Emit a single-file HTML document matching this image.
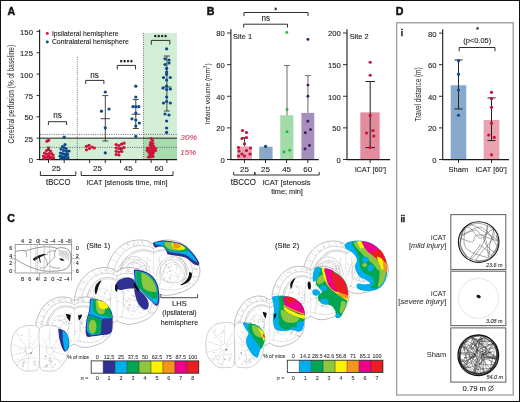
<!DOCTYPE html>
<html><head><meta charset="utf-8"><style>
html,body{margin:0;padding:0;background:#fff;width:520px;height:402px;overflow:hidden}
svg{display:block;filter:blur(0.3px)}
text{font-family:"Liberation Sans", sans-serif}
</style></head><body>
<svg width="520" height="402" viewBox="0 0 520 402" font-family='"Liberation Sans", sans-serif'>
<rect x="0" y="0" width="520" height="402" fill="#ffffff" />
<text x="7.6" y="15.2" font-size="10.60" text-anchor="start" fill="#111" font-weight="bold" font-style="normal" textLength="7.66" lengthAdjust="spacingAndGlyphs" stroke="#111" stroke-width="0.45" >A</text>
<rect x="40" y="138.15" width="103.5" height="21.349999999999994" fill="#d2eed5" />
<rect x="143.5" y="33.00000000000001" width="33.5" height="105.15" fill="#d2eed5" />
<rect x="143.5" y="138.15" width="33.5" height="21.349999999999994" fill="#a8dbad" />
<line x1="40" y1="134.4" x2="177" y2="134.4" stroke="#444" stroke-width="0.8" stroke-dasharray="1,1.3"/>
<line x1="40" y1="147.4" x2="177" y2="147.4" stroke="#444" stroke-width="0.8" stroke-dasharray="1,1.3"/>
<line x1="77.3" y1="57" x2="77.3" y2="159" stroke="#555" stroke-width="0.8" stroke-dasharray="1,1.2"/>
<line x1="143.5" y1="33" x2="143.5" y2="159" stroke="#555" stroke-width="0.8" stroke-dasharray="1,1.2"/>
<line x1="40" y1="138.15" x2="177" y2="138.15" stroke="#1a1a1a" stroke-width="1.0" />
<line x1="39.6" y1="29.5" x2="39.6" y2="160" stroke="#1a1a1a" stroke-width="1.1" />
<line x1="39.1" y1="159.6" x2="177" y2="159.6" stroke="#1a1a1a" stroke-width="1.1" />
<line x1="36.5" y1="159.5" x2="39.6" y2="159.5" stroke="#1a1a1a" stroke-width="0.9" />
<text x="32.9" y="162.9" font-size="7.90" text-anchor="end" fill="#1a1a1a" font-weight="normal" font-style="normal" textLength="4.26" lengthAdjust="spacingAndGlyphs" stroke="#1a1a1a" stroke-width="0.1" >0</text>
<line x1="36.5" y1="138.15" x2="39.6" y2="138.15" stroke="#1a1a1a" stroke-width="0.9" />
<text x="32.9" y="141.55" font-size="7.90" text-anchor="end" fill="#1a1a1a" font-weight="normal" font-style="normal" textLength="8.52" lengthAdjust="spacingAndGlyphs" stroke="#1a1a1a" stroke-width="0.1" >25</text>
<line x1="36.5" y1="116.80000000000001" x2="39.6" y2="116.80000000000001" stroke="#1a1a1a" stroke-width="0.9" />
<text x="32.9" y="120.20000000000002" font-size="7.90" text-anchor="end" fill="#1a1a1a" font-weight="normal" font-style="normal" textLength="8.52" lengthAdjust="spacingAndGlyphs" stroke="#1a1a1a" stroke-width="0.1" >50</text>
<line x1="36.5" y1="95.45" x2="39.6" y2="95.45" stroke="#1a1a1a" stroke-width="0.9" />
<text x="32.9" y="98.85000000000001" font-size="7.90" text-anchor="end" fill="#1a1a1a" font-weight="normal" font-style="normal" textLength="8.52" lengthAdjust="spacingAndGlyphs" stroke="#1a1a1a" stroke-width="0.1" >75</text>
<line x1="36.5" y1="74.10000000000001" x2="39.6" y2="74.10000000000001" stroke="#1a1a1a" stroke-width="0.9" />
<text x="32.9" y="77.50000000000001" font-size="7.90" text-anchor="end" fill="#1a1a1a" font-weight="normal" font-style="normal" textLength="12.79" lengthAdjust="spacingAndGlyphs" stroke="#1a1a1a" stroke-width="0.1" >100</text>
<line x1="36.5" y1="52.75" x2="39.6" y2="52.75" stroke="#1a1a1a" stroke-width="0.9" />
<text x="32.9" y="56.15" font-size="7.90" text-anchor="end" fill="#1a1a1a" font-weight="normal" font-style="normal" textLength="12.79" lengthAdjust="spacingAndGlyphs" stroke="#1a1a1a" stroke-width="0.1" >125</text>
<line x1="36.5" y1="31.400000000000006" x2="39.6" y2="31.400000000000006" stroke="#1a1a1a" stroke-width="0.9" />
<text x="32.9" y="34.800000000000004" font-size="7.90" text-anchor="end" fill="#1a1a1a" font-weight="normal" font-style="normal" textLength="12.79" lengthAdjust="spacingAndGlyphs" stroke="#1a1a1a" stroke-width="0.1" >150</text>
<line x1="48.5" y1="159.6" x2="48.5" y2="163" stroke="#1a1a1a" stroke-width="0.9" />
<line x1="64.2" y1="159.6" x2="64.2" y2="163" stroke="#1a1a1a" stroke-width="0.9" />
<line x1="89.6" y1="159.6" x2="89.6" y2="163" stroke="#1a1a1a" stroke-width="0.9" />
<line x1="105.3" y1="159.6" x2="105.3" y2="163" stroke="#1a1a1a" stroke-width="0.9" />
<line x1="120.5" y1="159.6" x2="120.5" y2="163" stroke="#1a1a1a" stroke-width="0.9" />
<line x1="135.8" y1="159.6" x2="135.8" y2="163" stroke="#1a1a1a" stroke-width="0.9" />
<line x1="151.2" y1="159.6" x2="151.2" y2="163" stroke="#1a1a1a" stroke-width="0.9" />
<line x1="166.9" y1="159.6" x2="166.9" y2="163" stroke="#1a1a1a" stroke-width="0.9" />
<text transform="translate(14.4,94.2) rotate(-90)" font-size="8.5" text-anchor="middle" fill="#1a1a1a" textLength="98.5" lengthAdjust="spacingAndGlyphs">Cerebral perfusion (% of baseline)</text>
<text x="56.3" y="171.2" font-size="8.00" text-anchor="middle" fill="#1a1a1a" font-weight="normal" font-style="normal" textLength="8.90" lengthAdjust="spacingAndGlyphs" stroke="#1a1a1a" stroke-width="0.1" >25</text>
<text x="97.4" y="171.2" font-size="8.00" text-anchor="middle" fill="#1a1a1a" font-weight="normal" font-style="normal" textLength="8.90" lengthAdjust="spacingAndGlyphs" stroke="#1a1a1a" stroke-width="0.1" >25</text>
<text x="128.2" y="171.2" font-size="8.00" text-anchor="middle" fill="#1a1a1a" font-weight="normal" font-style="normal" textLength="8.90" lengthAdjust="spacingAndGlyphs" stroke="#1a1a1a" stroke-width="0.1" >45</text>
<text x="159" y="171.2" font-size="8.00" text-anchor="middle" fill="#1a1a1a" font-weight="normal" font-style="normal" textLength="8.90" lengthAdjust="spacingAndGlyphs" stroke="#1a1a1a" stroke-width="0.1" >60</text>
<path d="M40.4,171.3 V175.5 H75.8 V171.3" fill="none" stroke="#1a1a1a" stroke-width="0.9"/>
<path d="M81.2,171.3 V175.5 H173 V171.3" fill="none" stroke="#1a1a1a" stroke-width="0.9"/>
<text x="46.0" y="185.0" font-size="8.30" text-anchor="start" fill="#1a1a1a" font-weight="normal" font-style="normal" textLength="24.40" lengthAdjust="spacingAndGlyphs" stroke="#1a1a1a" stroke-width="0.1" >tBCCO</text>
<text x="86.6" y="185.0" font-size="8.00" text-anchor="start" fill="#1a1a1a" font-weight="normal" font-style="normal" textLength="81.00" lengthAdjust="spacingAndGlyphs" stroke="#1a1a1a" stroke-width="0.1" >iCAT [stenosis time, min]</text>
<circle cx="47.30" cy="33.40" r="1.4560000000000002" fill="#d0123c"/>
<circle cx="47.30" cy="42.00" r="1.4560000000000002" fill="#0c4a8c"/>
<text x="51.9" y="35.5" font-size="7.30" text-anchor="start" fill="#1a1a1a" font-weight="normal" font-style="normal" textLength="66.60" lengthAdjust="spacingAndGlyphs" stroke="#1a1a1a" stroke-width="0.1" >Ipsilateral hemisphere</text>
<text x="51.9" y="44.0" font-size="7.30" text-anchor="start" fill="#1a1a1a" font-weight="normal" font-style="normal" textLength="76.90" lengthAdjust="spacingAndGlyphs" stroke="#1a1a1a" stroke-width="0.1" >Contralateral hemisphere</text>
<text x="57.5" y="118.3" font-size="8.80" text-anchor="middle" fill="#1a1a1a" font-weight="normal" font-style="normal" textLength="8.55" lengthAdjust="spacingAndGlyphs" stroke="#1a1a1a" stroke-width="0.1" >ns</text>
<path d="M48.4,125.0 V121.7 H66.6 V125.0" fill="none" stroke="#1a1a1a" stroke-width="0.9"/>
<text x="94.6" y="77.8" font-size="8.80" text-anchor="middle" fill="#1a1a1a" font-weight="normal" font-style="normal" textLength="8.55" lengthAdjust="spacingAndGlyphs" stroke="#1a1a1a" stroke-width="0.1" >ns</text>
<path d="M85.7,84.0 V80.4 H103.9 V84.0" fill="none" stroke="#1a1a1a" stroke-width="0.9"/>
<path d="M121.17,59.90 L121.17,62.50 M120.04,60.55 L122.30,61.85 M122.30,60.55 L120.04,61.85 " stroke="#111" stroke-width="0.8"/>
<circle cx="121.17" cy="61.2" r="0.6" fill="#111"/>
<path d="M124.59,59.90 L124.59,62.50 M123.46,60.55 L125.72,61.85 M125.72,60.55 L123.46,61.85 " stroke="#111" stroke-width="0.8"/>
<circle cx="124.59" cy="61.2" r="0.6" fill="#111"/>
<path d="M128.01,59.90 L128.01,62.50 M126.88,60.55 L129.14,61.85 M129.14,60.55 L126.88,61.85 " stroke="#111" stroke-width="0.8"/>
<circle cx="128.01" cy="61.2" r="0.6" fill="#111"/>
<path d="M131.43,59.90 L131.43,62.50 M130.30,60.55 L132.56,61.85 M132.56,60.55 L130.30,61.85 " stroke="#111" stroke-width="0.8"/>
<circle cx="131.43" cy="61.2" r="0.6" fill="#111"/>
<path d="M117.3,69.4 V65.4 H135.5 V69.4" fill="none" stroke="#1a1a1a" stroke-width="0.9"/>
<path d="M155.32,34.80 L155.32,37.40 M154.19,35.45 L156.45,36.75 M156.45,35.45 L154.19,36.75 " stroke="#111" stroke-width="0.8"/>
<circle cx="155.32" cy="36.1" r="0.6" fill="#111"/>
<path d="M158.74,34.80 L158.74,37.40 M157.61,35.45 L159.87,36.75 M159.87,35.45 L157.61,36.75 " stroke="#111" stroke-width="0.8"/>
<circle cx="158.74" cy="36.1" r="0.6" fill="#111"/>
<path d="M162.16,34.80 L162.16,37.40 M161.03,35.45 L163.29,36.75 M163.29,35.45 L161.03,36.75 " stroke="#111" stroke-width="0.8"/>
<circle cx="162.16" cy="36.1" r="0.6" fill="#111"/>
<path d="M165.58,34.80 L165.58,37.40 M164.45,35.45 L166.71,36.75 M166.71,35.45 L164.45,36.75 " stroke="#111" stroke-width="0.8"/>
<circle cx="165.58" cy="36.1" r="0.6" fill="#111"/>
<path d="M151.3,44.699999999999996 V40.4 H169.8 V44.699999999999996" fill="none" stroke="#1a1a1a" stroke-width="0.9"/>
<text x="180.3" y="139.6" font-size="7.60" text-anchor="start" fill="#d43a5c" font-weight="normal" font-style="italic" textLength="16.50" lengthAdjust="spacingAndGlyphs" stroke="#d43a5c" stroke-width="0.1" >30%</text>
<text x="180.3" y="155.0" font-size="7.60" text-anchor="start" fill="#d43a5c" font-weight="normal" font-style="italic" textLength="15.60" lengthAdjust="spacingAndGlyphs" stroke="#d43a5c" stroke-width="0.1" >15%</text>
<circle cx="47.00" cy="141.20" r="1.624" fill="#d0123c"/>
<circle cx="48.60" cy="140.30" r="1.624" fill="#d0123c"/>
<circle cx="46.50" cy="150.50" r="1.624" fill="#d0123c"/>
<circle cx="48.50" cy="149.00" r="1.624" fill="#d0123c"/>
<circle cx="50.50" cy="151.00" r="1.624" fill="#d0123c"/>
<circle cx="44.50" cy="153.00" r="1.624" fill="#d0123c"/>
<circle cx="46.50" cy="154.00" r="1.624" fill="#d0123c"/>
<circle cx="49.00" cy="153.50" r="1.624" fill="#d0123c"/>
<circle cx="51.50" cy="153.50" r="1.624" fill="#d0123c"/>
<circle cx="53.00" cy="155.00" r="1.624" fill="#d0123c"/>
<circle cx="43.50" cy="156.00" r="1.624" fill="#d0123c"/>
<circle cx="45.50" cy="157.00" r="1.624" fill="#d0123c"/>
<circle cx="47.50" cy="157.50" r="1.624" fill="#d0123c"/>
<circle cx="49.50" cy="156.50" r="1.624" fill="#d0123c"/>
<circle cx="51.50" cy="157.50" r="1.624" fill="#d0123c"/>
<circle cx="44.00" cy="158.30" r="1.624" fill="#d0123c"/>
<circle cx="53.50" cy="157.80" r="1.624" fill="#d0123c"/>
<circle cx="48.50" cy="155.50" r="1.624" fill="#d0123c"/>
<circle cx="50.00" cy="158.50" r="1.624" fill="#d0123c"/>
<line x1="48.5" y1="147" x2="48.5" y2="151" stroke="#333" stroke-width="0.7" />
<line x1="46.5" y1="147" x2="50.5" y2="147" stroke="#333" stroke-width="0.7" />
<circle cx="64.20" cy="137.20" r="1.624" fill="#0c4a8c"/>
<circle cx="65.00" cy="144.50" r="1.624" fill="#0c4a8c"/>
<circle cx="62.50" cy="146.50" r="1.624" fill="#0c4a8c"/>
<circle cx="64.00" cy="147.50" r="1.624" fill="#0c4a8c"/>
<circle cx="66.00" cy="148.50" r="1.624" fill="#0c4a8c"/>
<circle cx="61.00" cy="149.00" r="1.624" fill="#0c4a8c"/>
<circle cx="63.50" cy="150.50" r="1.624" fill="#0c4a8c"/>
<circle cx="66.50" cy="151.00" r="1.624" fill="#0c4a8c"/>
<circle cx="60.50" cy="153.00" r="1.624" fill="#0c4a8c"/>
<circle cx="62.50" cy="153.50" r="1.624" fill="#0c4a8c"/>
<circle cx="64.50" cy="154.00" r="1.624" fill="#0c4a8c"/>
<circle cx="67.00" cy="153.50" r="1.624" fill="#0c4a8c"/>
<circle cx="60.00" cy="156.00" r="1.624" fill="#0c4a8c"/>
<circle cx="62.00" cy="156.50" r="1.624" fill="#0c4a8c"/>
<circle cx="64.00" cy="157.00" r="1.624" fill="#0c4a8c"/>
<circle cx="66.00" cy="156.00" r="1.624" fill="#0c4a8c"/>
<circle cx="68.00" cy="157.50" r="1.624" fill="#0c4a8c"/>
<circle cx="61.00" cy="158.30" r="1.624" fill="#0c4a8c"/>
<circle cx="63.00" cy="158.50" r="1.624" fill="#0c4a8c"/>
<circle cx="65.50" cy="158.50" r="1.624" fill="#0c4a8c"/>
<circle cx="67.50" cy="154.50" r="1.624" fill="#0c4a8c"/>
<circle cx="69.00" cy="151.00" r="1.624" fill="#0c4a8c"/>
<circle cx="86.50" cy="146.30" r="1.624" fill="#d0123c"/>
<circle cx="89.00" cy="145.30" r="1.624" fill="#d0123c"/>
<circle cx="92.00" cy="147.00" r="1.624" fill="#d0123c"/>
<circle cx="94.30" cy="148.00" r="1.624" fill="#d0123c"/>
<circle cx="86.50" cy="149.80" r="1.624" fill="#d0123c"/>
<circle cx="89.50" cy="148.50" r="1.624" fill="#d0123c"/>
<line x1="105.3" y1="95.6" x2="105.3" y2="141" stroke="#333" stroke-width="0.9" />
<line x1="102.3" y1="95.6" x2="108.3" y2="95.6" stroke="#333" stroke-width="0.9" />
<line x1="102.3" y1="141" x2="108.3" y2="141" stroke="#333" stroke-width="0.9" />
<line x1="100.5" y1="118.7" x2="110" y2="118.7" stroke="#333" stroke-width="0.9" />
<circle cx="105.30" cy="92.00" r="1.624" fill="#0c4a8c"/>
<circle cx="101.50" cy="111.20" r="1.624" fill="#0c4a8c"/>
<circle cx="109.00" cy="109.00" r="1.624" fill="#0c4a8c"/>
<circle cx="105.30" cy="127.80" r="1.624" fill="#0c4a8c"/>
<circle cx="105.30" cy="152.80" r="1.624" fill="#0c4a8c"/>
<circle cx="116.20" cy="144.60" r="1.624" fill="#d0123c"/>
<circle cx="118.80" cy="145.50" r="1.624" fill="#d0123c"/>
<circle cx="121.50" cy="144.20" r="1.624" fill="#d0123c"/>
<circle cx="124.00" cy="143.20" r="1.624" fill="#d0123c"/>
<circle cx="116.20" cy="148.00" r="1.624" fill="#d0123c"/>
<circle cx="118.80" cy="148.50" r="1.624" fill="#d0123c"/>
<circle cx="121.80" cy="148.50" r="1.624" fill="#d0123c"/>
<circle cx="124.00" cy="147.50" r="1.624" fill="#d0123c"/>
<circle cx="116.20" cy="151.30" r="1.624" fill="#d0123c"/>
<circle cx="118.80" cy="152.00" r="1.624" fill="#d0123c"/>
<circle cx="121.80" cy="151.50" r="1.624" fill="#d0123c"/>
<circle cx="116.20" cy="154.60" r="1.624" fill="#d0123c"/>
<circle cx="119.00" cy="155.00" r="1.624" fill="#d0123c"/>
<line x1="120.5" y1="147" x2="120.5" y2="152" stroke="#333" stroke-width="0.7" />
<line x1="135.8" y1="99.5" x2="135.8" y2="128.5" stroke="#333" stroke-width="0.9" />
<line x1="132.8" y1="99.5" x2="138.8" y2="99.5" stroke="#333" stroke-width="0.9" />
<line x1="132.8" y1="128.5" x2="138.8" y2="128.5" stroke="#333" stroke-width="0.9" />
<line x1="131.5" y1="114.2" x2="140.5" y2="114.2" stroke="#333" stroke-width="0.9" />
<circle cx="135.80" cy="86.20" r="1.624" fill="#0c4a8c"/>
<circle cx="135.80" cy="97.00" r="1.624" fill="#0c4a8c"/>
<circle cx="133.00" cy="106.70" r="1.624" fill="#0c4a8c"/>
<circle cx="135.80" cy="106.70" r="1.624" fill="#0c4a8c"/>
<circle cx="138.80" cy="106.70" r="1.624" fill="#0c4a8c"/>
<circle cx="135.80" cy="113.00" r="1.624" fill="#0c4a8c"/>
<circle cx="132.00" cy="118.80" r="1.624" fill="#0c4a8c"/>
<circle cx="135.80" cy="120.00" r="1.624" fill="#0c4a8c"/>
<circle cx="139.30" cy="123.00" r="1.624" fill="#0c4a8c"/>
<circle cx="135.80" cy="126.00" r="1.624" fill="#0c4a8c"/>
<circle cx="135.80" cy="136.40" r="1.624" fill="#0c4a8c"/>
<circle cx="151.20" cy="138.50" r="1.624" fill="#d0123c"/>
<circle cx="152.50" cy="140.50" r="1.624" fill="#d0123c"/>
<circle cx="150.50" cy="142.50" r="1.624" fill="#d0123c"/>
<circle cx="152.80" cy="143.50" r="1.624" fill="#d0123c"/>
<circle cx="150.20" cy="145.00" r="1.624" fill="#d0123c"/>
<circle cx="151.50" cy="146.50" r="1.624" fill="#d0123c"/>
<circle cx="153.50" cy="146.00" r="1.624" fill="#d0123c"/>
<circle cx="147.50" cy="148.00" r="1.624" fill="#d0123c"/>
<circle cx="149.50" cy="148.00" r="1.624" fill="#d0123c"/>
<circle cx="151.50" cy="148.50" r="1.624" fill="#d0123c"/>
<circle cx="153.50" cy="148.80" r="1.624" fill="#d0123c"/>
<circle cx="155.50" cy="148.30" r="1.624" fill="#d0123c"/>
<circle cx="147.20" cy="150.30" r="1.624" fill="#d0123c"/>
<circle cx="149.30" cy="150.50" r="1.624" fill="#d0123c"/>
<circle cx="151.30" cy="151.00" r="1.624" fill="#d0123c"/>
<circle cx="153.30" cy="150.80" r="1.624" fill="#d0123c"/>
<circle cx="155.50" cy="150.50" r="1.624" fill="#d0123c"/>
<circle cx="149.00" cy="152.50" r="1.624" fill="#d0123c"/>
<circle cx="151.20" cy="153.00" r="1.624" fill="#d0123c"/>
<circle cx="153.30" cy="152.80" r="1.624" fill="#d0123c"/>
<circle cx="150.00" cy="155.00" r="1.624" fill="#d0123c"/>
<circle cx="152.50" cy="155.00" r="1.624" fill="#d0123c"/>
<circle cx="148.50" cy="157.00" r="1.624" fill="#d0123c"/>
<circle cx="150.50" cy="156.80" r="1.624" fill="#d0123c"/>
<circle cx="153.00" cy="156.50" r="1.624" fill="#d0123c"/>
<circle cx="151.50" cy="144.00" r="1.624" fill="#d0123c"/>
<line x1="166.9" y1="56" x2="166.9" y2="111" stroke="#333" stroke-width="0.9" />
<line x1="163.9" y1="56" x2="169.9" y2="56" stroke="#333" stroke-width="0.9" />
<line x1="163.9" y1="111" x2="169.9" y2="111" stroke="#333" stroke-width="0.9" />
<line x1="162.5" y1="87" x2="171.5" y2="87" stroke="#333" stroke-width="0.9" />
<circle cx="166.60" cy="48.80" r="1.624" fill="#0c4a8c"/>
<circle cx="165.00" cy="58.80" r="1.624" fill="#0c4a8c"/>
<circle cx="169.00" cy="60.00" r="1.624" fill="#0c4a8c"/>
<circle cx="165.00" cy="64.50" r="1.624" fill="#0c4a8c"/>
<circle cx="169.00" cy="63.00" r="1.624" fill="#0c4a8c"/>
<circle cx="166.60" cy="68.40" r="1.624" fill="#0c4a8c"/>
<circle cx="166.60" cy="72.00" r="1.624" fill="#0c4a8c"/>
<circle cx="166.60" cy="74.30" r="1.624" fill="#0c4a8c"/>
<circle cx="163.50" cy="77.50" r="1.624" fill="#0c4a8c"/>
<circle cx="170.30" cy="77.50" r="1.624" fill="#0c4a8c"/>
<circle cx="166.60" cy="80.00" r="1.624" fill="#0c4a8c"/>
<circle cx="163.00" cy="88.00" r="1.624" fill="#0c4a8c"/>
<circle cx="166.60" cy="86.00" r="1.624" fill="#0c4a8c"/>
<circle cx="170.30" cy="89.00" r="1.624" fill="#0c4a8c"/>
<circle cx="166.60" cy="89.50" r="1.624" fill="#0c4a8c"/>
<circle cx="166.60" cy="97.00" r="1.624" fill="#0c4a8c"/>
<circle cx="163.50" cy="103.00" r="1.624" fill="#0c4a8c"/>
<circle cx="166.60" cy="101.50" r="1.624" fill="#0c4a8c"/>
<circle cx="170.30" cy="103.00" r="1.624" fill="#0c4a8c"/>
<circle cx="165.00" cy="114.00" r="1.624" fill="#0c4a8c"/>
<circle cx="169.00" cy="115.00" r="1.624" fill="#0c4a8c"/>
<circle cx="166.60" cy="121.00" r="1.624" fill="#0c4a8c"/>
<circle cx="166.60" cy="128.00" r="1.624" fill="#0c4a8c"/>
<circle cx="166.60" cy="132.40" r="1.624" fill="#0c4a8c"/>
<text x="206.7" y="15.2" font-size="10.60" text-anchor="start" fill="#111" font-weight="bold" font-style="normal" textLength="7.66" lengthAdjust="spacingAndGlyphs" stroke="#111" stroke-width="0.45" >B</text>
<rect x="237.2" y="146.53375" width="14.8" height="12.966250000000002" fill="#e7a3b1" />
<rect x="259.2" y="146.691875" width="13.4" height="12.80812499999999" fill="#8aa8c9" />
<rect x="280.2" y="115.225" width="13.2" height="44.275000000000006" fill="#a3dba8" />
<rect x="301.4" y="112.853125" width="12.9" height="46.646874999999994" fill="#a78fbd" />
<line x1="244.5" y1="137.6" x2="244.5" y2="146.53375" stroke="#333" stroke-width="0.9" />
<line x1="241.5" y1="137.6" x2="247.5" y2="137.6" stroke="#333" stroke-width="0.9" />
<line x1="287" y1="65.5" x2="287" y2="115.225" stroke="#777" stroke-width="1.1" />
<line x1="284" y1="65.5" x2="290" y2="65.5" stroke="#777" stroke-width="1.1" />
<line x1="307.9" y1="75.6" x2="307.9" y2="112.853125" stroke="#777" stroke-width="1.1" />
<line x1="304.9" y1="75.6" x2="310.9" y2="75.6" stroke="#777" stroke-width="1.1" />
<circle cx="242.50" cy="130.50" r="1.624" fill="#cc0f3a"/>
<circle cx="246.50" cy="132.50" r="1.624" fill="#cc0f3a"/>
<circle cx="242.00" cy="138.50" r="1.624" fill="#cc0f3a"/>
<circle cx="246.50" cy="137.50" r="1.624" fill="#cc0f3a"/>
<circle cx="244.50" cy="143.80" r="1.624" fill="#cc0f3a"/>
<circle cx="238.50" cy="147.50" r="1.624" fill="#cc0f3a"/>
<circle cx="250.50" cy="148.00" r="1.624" fill="#cc0f3a"/>
<circle cx="239.00" cy="151.00" r="1.624" fill="#cc0f3a"/>
<circle cx="246.50" cy="150.50" r="1.624" fill="#cc0f3a"/>
<circle cx="242.00" cy="154.00" r="1.624" fill="#cc0f3a"/>
<circle cx="250.00" cy="154.00" r="1.624" fill="#cc0f3a"/>
<circle cx="238.50" cy="156.00" r="1.624" fill="#cc0f3a"/>
<circle cx="244.50" cy="156.00" r="1.624" fill="#cc0f3a"/>
<circle cx="265.60" cy="146.40" r="1.624" fill="#0c4a8c"/>
<circle cx="286.80" cy="32.50" r="1.4560000000000002" fill="#2bb24c"/>
<circle cx="287.00" cy="109.50" r="1.4560000000000002" fill="#2bb24c"/>
<circle cx="287.00" cy="131.80" r="1.4560000000000002" fill="#2bb24c"/>
<circle cx="284.00" cy="152.00" r="1.4560000000000002" fill="#2bb24c"/>
<circle cx="289.70" cy="150.30" r="1.4560000000000002" fill="#2bb24c"/>
<circle cx="307.90" cy="39.40" r="1.4560000000000002" fill="#4b1464"/>
<circle cx="307.90" cy="85.10" r="1.4560000000000002" fill="#4b1464"/>
<circle cx="307.90" cy="96.30" r="1.4560000000000002" fill="#4b1464"/>
<circle cx="307.90" cy="121.20" r="1.4560000000000002" fill="#4b1464"/>
<circle cx="310.50" cy="129.60" r="1.4560000000000002" fill="#4b1464"/>
<circle cx="305.30" cy="132.80" r="1.4560000000000002" fill="#4b1464"/>
<circle cx="305.00" cy="149.00" r="1.4560000000000002" fill="#4b1464"/>
<circle cx="309.50" cy="145.50" r="1.4560000000000002" fill="#4b1464"/>
<line x1="230.9" y1="29.3" x2="230.9" y2="160" stroke="#1a1a1a" stroke-width="1.1" />
<line x1="230.4" y1="159.6" x2="318.8" y2="159.6" stroke="#1a1a1a" stroke-width="1.1" />
<line x1="227" y1="159.5" x2="230.9" y2="159.5" stroke="#1a1a1a" stroke-width="0.9" />
<text x="224.8" y="162.9" font-size="7.90" text-anchor="end" fill="#1a1a1a" font-weight="normal" font-style="normal" textLength="4.26" lengthAdjust="spacingAndGlyphs" stroke="#1a1a1a" stroke-width="0.1" >0</text>
<line x1="227" y1="127.875" x2="230.9" y2="127.875" stroke="#1a1a1a" stroke-width="0.9" />
<text x="224.8" y="131.275" font-size="7.90" text-anchor="end" fill="#1a1a1a" font-weight="normal" font-style="normal" textLength="8.52" lengthAdjust="spacingAndGlyphs" stroke="#1a1a1a" stroke-width="0.1" >20</text>
<line x1="227" y1="96.25" x2="230.9" y2="96.25" stroke="#1a1a1a" stroke-width="0.9" />
<text x="224.8" y="99.65" font-size="7.90" text-anchor="end" fill="#1a1a1a" font-weight="normal" font-style="normal" textLength="8.52" lengthAdjust="spacingAndGlyphs" stroke="#1a1a1a" stroke-width="0.1" >40</text>
<line x1="227" y1="64.625" x2="230.9" y2="64.625" stroke="#1a1a1a" stroke-width="0.9" />
<text x="224.8" y="68.025" font-size="7.90" text-anchor="end" fill="#1a1a1a" font-weight="normal" font-style="normal" textLength="8.52" lengthAdjust="spacingAndGlyphs" stroke="#1a1a1a" stroke-width="0.1" >60</text>
<line x1="227" y1="33.0" x2="230.9" y2="33.0" stroke="#1a1a1a" stroke-width="0.9" />
<text x="224.8" y="36.4" font-size="7.90" text-anchor="end" fill="#1a1a1a" font-weight="normal" font-style="normal" textLength="8.52" lengthAdjust="spacingAndGlyphs" stroke="#1a1a1a" stroke-width="0.1" >80</text>
<line x1="244.4" y1="159.6" x2="244.4" y2="163" stroke="#1a1a1a" stroke-width="0.9" />
<text x="244.4" y="171.5" font-size="8.00" text-anchor="middle" fill="#1a1a1a" font-weight="normal" font-style="normal" textLength="8.90" lengthAdjust="spacingAndGlyphs" stroke="#1a1a1a" stroke-width="0.1" >25</text>
<line x1="265.5" y1="159.6" x2="265.5" y2="163" stroke="#1a1a1a" stroke-width="0.9" />
<text x="265.5" y="171.5" font-size="8.00" text-anchor="middle" fill="#1a1a1a" font-weight="normal" font-style="normal" textLength="8.90" lengthAdjust="spacingAndGlyphs" stroke="#1a1a1a" stroke-width="0.1" >25</text>
<line x1="286.6" y1="159.6" x2="286.6" y2="163" stroke="#1a1a1a" stroke-width="0.9" />
<text x="286.6" y="171.5" font-size="8.00" text-anchor="middle" fill="#1a1a1a" font-weight="normal" font-style="normal" textLength="8.90" lengthAdjust="spacingAndGlyphs" stroke="#1a1a1a" stroke-width="0.1" >45</text>
<line x1="307.8" y1="159.6" x2="307.8" y2="163" stroke="#1a1a1a" stroke-width="0.9" />
<text x="307.8" y="171.5" font-size="8.00" text-anchor="middle" fill="#1a1a1a" font-weight="normal" font-style="normal" textLength="8.90" lengthAdjust="spacingAndGlyphs" stroke="#1a1a1a" stroke-width="0.1" >60</text>
<text x="233.1" y="38.6" font-size="7.90" text-anchor="start" fill="#1a1a1a" font-weight="normal" font-style="normal" textLength="18.90" lengthAdjust="spacingAndGlyphs" stroke="#1a1a1a" stroke-width="0.1" >Site 1</text>
<text transform="translate(209.7,93.9) rotate(-90)" font-size="8.0" text-anchor="middle" fill="#1a1a1a" textLength="61" lengthAdjust="spacingAndGlyphs">Infarct volume (mm<tspan font-size="5" dy="-2.5">3</tspan><tspan dy="2.5">)</tspan></text>
<path d="M233.7,172 V175 H254.8 V172" fill="none" stroke="#1a1a1a" stroke-width="0.9"/>
<path d="M254.8,172 V175 H319.2 V172" fill="none" stroke="#1a1a1a" stroke-width="0.9"/>
<text x="230.8" y="185.2" font-size="8.30" text-anchor="start" fill="#1a1a1a" font-weight="normal" font-style="normal" textLength="25.00" lengthAdjust="spacingAndGlyphs" stroke="#1a1a1a" stroke-width="0.1" >tBCCO</text>
<text x="262.5" y="185.2" font-size="8.00" text-anchor="start" fill="#1a1a1a" font-weight="normal" font-style="normal" textLength="48.00" lengthAdjust="spacingAndGlyphs" stroke="#1a1a1a" stroke-width="0.1" >iCAT [stenosis</text>
<text x="271.2" y="193.9" font-size="8.00" text-anchor="start" fill="#1a1a1a" font-weight="normal" font-style="normal" textLength="31.70" lengthAdjust="spacingAndGlyphs" stroke="#1a1a1a" stroke-width="0.1" >time; min]</text>
<path d="M275.7,7.4 V10.4 M274.4,8.15 L277,9.65 M274.4,9.65 L277,8.15" stroke="#222" stroke-width="0.75"/>
<path d="M244,16.1 V12.5 H308 V16.1" fill="none" stroke="#1a1a1a" stroke-width="0.9"/>
<text x="265.7" y="21.0" font-size="8.80" text-anchor="middle" fill="#1a1a1a" font-weight="normal" font-style="normal" textLength="8.55" lengthAdjust="spacingAndGlyphs" stroke="#1a1a1a" stroke-width="0.1" >ns</text>
<path d="M243.7,27.599999999999998 V24.2 H287.5 V27.599999999999998" fill="none" stroke="#1a1a1a" stroke-width="0.9"/>
<rect x="360.3" y="112.37875" width="19.4" height="47.12125" fill="#e38c9e" />
<line x1="370.2" y1="81.5" x2="370.2" y2="147.6" stroke="#222" stroke-width="1" />
<line x1="365.5" y1="147.6" x2="375" y2="147.6" stroke="#222" stroke-width="1" />
<line x1="365.5" y1="81.5" x2="375" y2="81.5" stroke="#222" stroke-width="1" />
<circle cx="370.20" cy="62.20" r="1.568" fill="#cc0f3a"/>
<circle cx="370.20" cy="75.20" r="1.568" fill="#cc0f3a"/>
<circle cx="370.20" cy="115.50" r="1.568" fill="#cc0f3a"/>
<circle cx="366.50" cy="133.00" r="1.568" fill="#cc0f3a"/>
<circle cx="373.00" cy="130.50" r="1.568" fill="#cc0f3a"/>
<circle cx="373.80" cy="136.00" r="1.568" fill="#cc0f3a"/>
<circle cx="370.00" cy="147.50" r="1.568" fill="#cc0f3a"/>
<line x1="347" y1="29.3" x2="347" y2="160" stroke="#1a1a1a" stroke-width="1.1" />
<line x1="346.5" y1="159.6" x2="390" y2="159.6" stroke="#1a1a1a" stroke-width="1.1" />
<line x1="343" y1="159.5" x2="347" y2="159.5" stroke="#1a1a1a" stroke-width="0.9" />
<text x="340.8" y="162.9" font-size="7.90" text-anchor="end" fill="#1a1a1a" font-weight="normal" font-style="normal" textLength="4.26" lengthAdjust="spacingAndGlyphs" stroke="#1a1a1a" stroke-width="0.1" >0</text>
<line x1="343" y1="127.875" x2="347" y2="127.875" stroke="#1a1a1a" stroke-width="0.9" />
<text x="340.8" y="131.275" font-size="7.90" text-anchor="end" fill="#1a1a1a" font-weight="normal" font-style="normal" textLength="8.52" lengthAdjust="spacingAndGlyphs" stroke="#1a1a1a" stroke-width="0.1" >50</text>
<line x1="343" y1="96.25" x2="347" y2="96.25" stroke="#1a1a1a" stroke-width="0.9" />
<text x="340.8" y="99.65" font-size="7.90" text-anchor="end" fill="#1a1a1a" font-weight="normal" font-style="normal" textLength="12.79" lengthAdjust="spacingAndGlyphs" stroke="#1a1a1a" stroke-width="0.1" >100</text>
<line x1="343" y1="64.62500000000001" x2="347" y2="64.62500000000001" stroke="#1a1a1a" stroke-width="0.9" />
<text x="340.8" y="68.02500000000002" font-size="7.90" text-anchor="end" fill="#1a1a1a" font-weight="normal" font-style="normal" textLength="12.79" lengthAdjust="spacingAndGlyphs" stroke="#1a1a1a" stroke-width="0.1" >150</text>
<line x1="343" y1="33.000000000000014" x2="347" y2="33.000000000000014" stroke="#1a1a1a" stroke-width="0.9" />
<text x="340.8" y="36.40000000000001" font-size="7.90" text-anchor="end" fill="#1a1a1a" font-weight="normal" font-style="normal" textLength="12.79" lengthAdjust="spacingAndGlyphs" stroke="#1a1a1a" stroke-width="0.1" >200</text>
<line x1="370.2" y1="159.6" x2="370.2" y2="163" stroke="#1a1a1a" stroke-width="0.9" />
<text x="370.5" y="171.5" font-size="8.00" text-anchor="middle" fill="#1a1a1a" font-weight="normal" font-style="normal" textLength="31.00" lengthAdjust="spacingAndGlyphs" stroke="#1a1a1a" stroke-width="0.1" >iCAT [60']</text>
<text x="349.7" y="38.6" font-size="7.90" text-anchor="start" fill="#1a1a1a" font-weight="normal" font-style="normal" textLength="18.90" lengthAdjust="spacingAndGlyphs" stroke="#1a1a1a" stroke-width="0.1" >Site 2</text>
<text x="395.7" y="15.2" font-size="10.60" text-anchor="start" fill="#111" font-weight="bold" font-style="normal" textLength="7.66" lengthAdjust="spacingAndGlyphs" stroke="#111" stroke-width="0.45" >D</text>
<rect x="396.7" y="22.8" width="116.5" height="372.2" fill="none" stroke="#8a8a8a" stroke-width="1.1"/>
<text x="400.8" y="35.7" font-size="8.50" text-anchor="start" fill="#111" font-weight="bold" font-style="normal" textLength="2.36" lengthAdjust="spacingAndGlyphs" stroke="#111" stroke-width="0.3" >i</text>
<rect x="450.7" y="85.24" width="15.6" height="74.26" fill="#87a9cc" />
<rect x="483.6" y="120.0" width="15.8" height="39.5" fill="#e8a2b0" />
<line x1="458.5" y1="59.959999999999994" x2="458.5" y2="108.94" stroke="#222" stroke-width="1" />
<line x1="454.5" y1="59.959999999999994" x2="462.5" y2="59.959999999999994" stroke="#222" stroke-width="1" />
<line x1="454.5" y1="108.94" x2="462.5" y2="108.94" stroke="#222" stroke-width="1" />
<line x1="491.5" y1="97.88" x2="491.5" y2="140.54" stroke="#222" stroke-width="1" />
<line x1="487.5" y1="97.88" x2="495.5" y2="97.88" stroke="#222" stroke-width="1" />
<line x1="487.5" y1="140.54" x2="495.5" y2="140.54" stroke="#222" stroke-width="1" />
<circle cx="458.50" cy="60.75" r="1.568" fill="#0c4a8c"/>
<circle cx="458.50" cy="74.18" r="1.568" fill="#0c4a8c"/>
<circle cx="458.50" cy="89.98" r="1.568" fill="#0c4a8c"/>
<circle cx="458.50" cy="115.26" r="1.568" fill="#0c4a8c"/>
<circle cx="491.50" cy="92.35" r="1.568" fill="#cc0f3a"/>
<circle cx="491.50" cy="98.67" r="1.568" fill="#cc0f3a"/>
<circle cx="491.50" cy="107.36" r="1.568" fill="#cc0f3a"/>
<circle cx="491.50" cy="123.16" r="1.568" fill="#cc0f3a"/>
<circle cx="488.70" cy="135.01" r="1.568" fill="#cc0f3a"/>
<circle cx="494.30" cy="137.38" r="1.568" fill="#cc0f3a"/>
<circle cx="491.50" cy="154.76" r="1.568" fill="#cc0f3a"/>
<line x1="442.7" y1="29.3" x2="442.7" y2="160" stroke="#1a1a1a" stroke-width="1.1" />
<line x1="442.2" y1="159.6" x2="509" y2="159.6" stroke="#1a1a1a" stroke-width="1.1" />
<line x1="439" y1="159.5" x2="442.7" y2="159.5" stroke="#1a1a1a" stroke-width="0.9" />
<text x="436.5" y="162.9" font-size="7.90" text-anchor="end" fill="#1a1a1a" font-weight="normal" font-style="normal" textLength="4.26" lengthAdjust="spacingAndGlyphs" stroke="#1a1a1a" stroke-width="0.1" >0</text>
<line x1="439" y1="127.9" x2="442.7" y2="127.9" stroke="#1a1a1a" stroke-width="0.9" />
<text x="436.5" y="131.3" font-size="7.90" text-anchor="end" fill="#1a1a1a" font-weight="normal" font-style="normal" textLength="8.52" lengthAdjust="spacingAndGlyphs" stroke="#1a1a1a" stroke-width="0.1" >20</text>
<line x1="439" y1="96.3" x2="442.7" y2="96.3" stroke="#1a1a1a" stroke-width="0.9" />
<text x="436.5" y="99.7" font-size="7.90" text-anchor="end" fill="#1a1a1a" font-weight="normal" font-style="normal" textLength="8.52" lengthAdjust="spacingAndGlyphs" stroke="#1a1a1a" stroke-width="0.1" >40</text>
<line x1="439" y1="64.69999999999999" x2="442.7" y2="64.69999999999999" stroke="#1a1a1a" stroke-width="0.9" />
<text x="436.5" y="68.1" font-size="7.90" text-anchor="end" fill="#1a1a1a" font-weight="normal" font-style="normal" textLength="8.52" lengthAdjust="spacingAndGlyphs" stroke="#1a1a1a" stroke-width="0.1" >60</text>
<line x1="439" y1="33.099999999999994" x2="442.7" y2="33.099999999999994" stroke="#1a1a1a" stroke-width="0.9" />
<text x="436.5" y="36.49999999999999" font-size="7.90" text-anchor="end" fill="#1a1a1a" font-weight="normal" font-style="normal" textLength="8.52" lengthAdjust="spacingAndGlyphs" stroke="#1a1a1a" stroke-width="0.1" >80</text>
<line x1="458.5" y1="159.6" x2="458.5" y2="163" stroke="#1a1a1a" stroke-width="0.9" />
<line x1="491.5" y1="159.6" x2="491.5" y2="163" stroke="#1a1a1a" stroke-width="0.9" />
<text x="458.3" y="171.5" font-size="8.00" text-anchor="middle" fill="#1a1a1a" font-weight="normal" font-style="normal" textLength="19.85" lengthAdjust="spacingAndGlyphs" stroke="#1a1a1a" stroke-width="0.1" >Sham</text>
<text x="491.2" y="171.5" font-size="8.00" text-anchor="middle" fill="#1a1a1a" font-weight="normal" font-style="normal" textLength="31.00" lengthAdjust="spacingAndGlyphs" stroke="#1a1a1a" stroke-width="0.1" >iCAT [60']</text>
<text transform="translate(421.2,94.5) rotate(-90)" font-size="8.2" text-anchor="middle" fill="#1a1a1a" textLength="54" lengthAdjust="spacingAndGlyphs">Travel distance (m)</text>
<text x="477.5" y="31.8" font-size="7.60" text-anchor="middle" fill="#1a1a1a" font-weight="bold" font-style="normal" textLength="2.96" lengthAdjust="spacingAndGlyphs" stroke="#1a1a1a" stroke-width="0.1" >*</text>
<text x="477.2" y="42.8" font-size="8.00" text-anchor="middle" fill="#1a1a1a" font-weight="normal" font-style="normal" textLength="28.00" lengthAdjust="spacingAndGlyphs" stroke="#1a1a1a" stroke-width="0.1" >(p&lt;0.05)</text>
<path d="M459.2,51.3 V47.5 H495 V51.3" fill="none" stroke="#1a1a1a" stroke-width="0.9"/>
<text x="400.4" y="221.8" font-size="8.50" text-anchor="start" fill="#111" font-weight="bold" font-style="normal" textLength="4.72" lengthAdjust="spacingAndGlyphs" stroke="#111" stroke-width="0.3" >ii</text>
<rect x="450.8" y="214.6" width="55" height="54.900000000000006" fill="none" stroke="#6a6a6a" stroke-width="1.1"/>
<rect x="450.8" y="271.2" width="55" height="54.400000000000034" fill="none" stroke="#6a6a6a" stroke-width="1.1"/>
<rect x="450.8" y="327.9" width="55" height="54.200000000000045" fill="none" stroke="#6a6a6a" stroke-width="1.1"/>
<text x="446.3" y="239.9" font-size="7.70" text-anchor="end" fill="#1a1a1a" font-weight="normal" font-style="normal" textLength="15.20" lengthAdjust="spacingAndGlyphs" >iCAT</text>
<text x="446.3" y="248.0" font-size="7.70" text-anchor="end" fill="#3a3a3a" font-weight="normal" font-style="normal" textLength="37.30" lengthAdjust="spacingAndGlyphs" stroke="#3a3a3a" stroke-width="0.1" >[<tspan font-style="italic">mild injury</tspan>]</text>
<text x="446.3" y="295.8" font-size="7.70" text-anchor="end" fill="#1a1a1a" font-weight="normal" font-style="normal" textLength="15.20" lengthAdjust="spacingAndGlyphs" >iCAT</text>
<text x="446.3" y="304.0" font-size="7.70" text-anchor="end" fill="#3a3a3a" font-weight="normal" font-style="normal" textLength="47.93" lengthAdjust="spacingAndGlyphs" stroke="#3a3a3a" stroke-width="0.1" >[<tspan font-style="italic">severe injury</tspan>]</text>
<text x="446.3" y="357.3" font-size="7.90" text-anchor="end" fill="#1a1a1a" font-weight="normal" font-style="normal" textLength="19.61" lengthAdjust="spacingAndGlyphs" >Sham</text>
<text x="502.7" y="266.5" font-size="5.50" text-anchor="end" fill="#333" font-weight="normal" font-style="italic" textLength="16.81" lengthAdjust="spacingAndGlyphs" stroke="#333" stroke-width="0.1" >23.6 m</text>
<text x="502.7" y="322.5" font-size="5.50" text-anchor="end" fill="#333" font-weight="normal" font-style="italic" textLength="16.81" lengthAdjust="spacingAndGlyphs" stroke="#333" stroke-width="0.1" >3.08 m</text>
<text x="503.2" y="379.0" font-size="5.50" text-anchor="end" fill="#333" font-weight="normal" font-style="italic" textLength="16.81" lengthAdjust="spacingAndGlyphs" stroke="#333" stroke-width="0.1" >54.0 m</text>
<text x="462.5" y="390.8" font-size="7.90" text-anchor="start" fill="#1a1a1a" font-weight="normal" font-style="normal" textLength="23.40" lengthAdjust="spacingAndGlyphs" stroke="#1a1a1a" stroke-width="0.1" >0.79 m</text>
<circle cx="490.9" cy="388.4" r="2.35" fill="none" stroke="#333" stroke-width="0.7"/>
<line x1="488.4" y1="391.5" x2="493.5" y2="385.3" stroke="#333" stroke-width="0.7" />
<circle cx="478.5" cy="298.4" r="20" fill="none" stroke="#d8d8d8" stroke-width="0.7"/>
<ellipse cx="478.6" cy="296.6" rx="2.2" ry="1.6" fill="#111" transform="rotate(20 478.6 296.6)"/>
<circle cx="478.7" cy="242.1" r="20.3" fill="none" stroke="#1a1a1a" stroke-width="1.1"/>
<circle cx="478.3" cy="355.3" r="20.3" fill="none" stroke="#111" stroke-width="1.3"/>
<path d="M465.08,228.89 C465.20,232.04 462.12,243.03 465.81,247.79 C469.51,252.55 482.80,256.47 487.25,257.47 C491.71,258.48 491.07,255.36 492.53,253.84 C493.99,252.31 495.12,250.32 496.03,248.31 C496.94,246.31 497.98,243.98 497.99,241.81 C498.00,239.63 496.10,234.88 496.10,235.26 C496.11,235.63 498.37,241.26 498.02,244.06 C497.66,246.85 496.37,252.83 493.96,252.02 C491.56,251.22 483.69,242.99 483.60,239.20 C483.52,235.41 492.43,228.45 493.47,229.29 C494.51,230.14 490.64,239.69 489.84,244.28 C489.05,248.87 489.38,257.67 488.68,256.84 C487.98,256.00 487.35,242.53 485.62,239.27 C483.90,236.00 481.10,239.23 478.35,237.27 C475.60,235.30 471.69,228.50 469.12,227.47 C466.54,226.44 464.24,229.33 462.90,231.09 C461.57,232.86 461.52,235.73 461.09,238.04 C460.66,240.36 460.04,242.73 460.32,244.99 C460.61,247.25 461.68,249.52 462.80,251.59 C463.93,253.66 466.95,257.38 467.06,257.40 C467.16,257.43 464.70,253.61 463.42,251.72 C462.14,249.84 459.78,248.16 459.37,246.09 C458.95,244.03 460.51,241.57 460.92,239.33 C461.34,237.08 460.99,234.64 461.86,232.61 C462.73,230.59 464.34,228.42 466.15,227.17 C467.95,225.93 469.66,224.38 472.69,225.15 C475.71,225.92 480.18,229.23 484.30,231.80 C488.41,234.36 497.88,239.98 497.37,240.53 C496.87,241.09 484.87,236.91 481.24,235.15 C477.62,233.38 478.74,229.90 475.61,229.93 C472.48,229.96 461.55,235.77 462.47,235.33 C463.39,234.88 475.50,225.71 481.14,227.26 C486.78,228.82 494.04,240.66 496.32,244.67 C498.60,248.68 495.71,249.20 494.83,251.32 C493.94,253.44 492.76,255.93 491.01,257.41 C489.27,258.89 486.63,259.66 484.36,260.19 C482.08,260.72 479.66,260.81 477.38,260.58 C475.11,260.35 472.72,259.83 470.71,258.82 C468.71,257.82 466.81,256.25 465.34,254.57 C463.87,252.90 462.69,250.90 461.87,248.76 C461.06,246.61 460.40,244.03 460.46,241.70 C460.52,239.36 461.44,237.07 462.24,234.72 C463.03,232.38 463.56,229.38 465.22,227.65 C466.88,225.92 469.78,225.03 472.18,224.33 C474.57,223.62 477.17,223.23 479.58,223.42 C481.99,223.62 484.41,224.51 486.64,225.51 C488.86,226.52 491.95,227.22 492.95,229.46 C493.94,231.71 495.39,234.00 492.63,238.98 C489.86,243.96 477.69,255.77 476.34,259.35 C475.00,262.94 481.91,260.97 484.55,260.49 C487.18,260.01 492.80,259.02 492.15,256.49 C491.50,253.97 482.85,246.94 480.65,245.34 C478.46,243.73 480.79,244.56 478.97,246.88 C477.14,249.21 470.05,258.20 469.68,259.29 C469.32,260.38 474.24,256.64 476.75,253.43 C479.27,250.21 483.02,244.60 484.76,239.99 C486.49,235.37 486.93,226.71 487.15,225.76 C487.37,224.81 487.98,232.65 486.06,234.29 C484.14,235.92 477.94,234.30 475.64,235.58 C473.35,236.86 474.91,241.58 472.31,241.98 C469.71,242.38 462.10,238.63 460.06,237.95" fill="none" stroke="#333" stroke-width="0.42" stroke-linejoin="round"/>
<path d="M460.18,360.92 C460.82,360.71 462.52,361.82 464.00,359.70 C465.48,357.57 467.81,349.84 469.07,348.17 C470.33,346.50 469.66,351.44 471.56,349.70 C473.45,347.97 479.14,338.89 480.46,337.77 C481.78,336.66 480.44,340.28 479.49,343.00 C478.54,345.71 477.32,350.33 474.76,354.06 C472.20,357.78 464.85,363.11 464.13,365.35 C463.40,367.58 467.68,366.17 470.42,367.48 C473.15,368.80 479.07,375.16 480.54,373.23 C482.01,371.30 477.61,359.48 479.22,355.90 C480.82,352.33 488.64,352.42 490.16,351.78 C491.69,351.14 487.87,353.57 488.38,352.08 C488.89,350.59 491.94,343.11 493.22,342.85 C494.49,342.59 495.48,347.91 496.04,350.50 C496.59,353.09 496.99,355.87 496.53,358.37 C496.06,360.87 494.29,363.83 493.24,365.48 C492.19,367.14 492.77,369.84 490.21,368.30 C487.66,366.76 480.65,355.55 477.89,356.25 C475.13,356.94 473.78,372.33 473.64,372.49 C473.51,372.66 478.69,359.66 477.09,357.24 C475.49,354.82 464.23,358.18 464.03,357.99 C463.83,357.79 476.12,358.01 475.89,356.06 C475.65,354.12 462.51,346.30 462.60,346.32 C462.69,346.34 474.47,354.92 476.44,356.18 C478.41,357.45 475.50,353.54 474.44,353.91 C473.38,354.27 471.55,356.06 470.08,358.37 C468.61,360.68 463.64,367.02 465.62,367.75 C467.61,368.48 479.11,364.27 481.99,362.75 C484.87,361.23 480.60,358.48 482.92,358.63 C485.25,358.78 496.72,362.91 495.94,363.66 C495.16,364.42 484.01,366.08 478.25,363.16 C472.48,360.23 462.16,346.99 461.37,346.12 C460.58,345.26 473.31,354.66 473.50,357.98 C473.69,361.29 464.65,365.75 462.51,366.01 C460.38,366.26 461.10,361.66 460.70,359.49 C460.30,357.31 459.99,355.15 460.12,352.94 C460.24,350.74 460.38,348.15 461.44,346.28 C462.50,344.41 464.54,343.30 466.48,341.75 C468.42,340.20 470.60,337.94 473.09,337.00 C475.59,336.05 478.71,335.42 481.46,336.08 C484.20,336.73 487.06,339.02 489.54,340.94 C492.01,342.85 497.48,347.96 496.33,347.55 C495.17,347.15 488.53,337.63 482.59,338.51 C476.65,339.39 461.88,350.12 460.69,352.82 C459.50,355.53 472.38,355.23 475.44,354.75 C478.50,354.26 476.11,351.79 479.06,349.91 C482.01,348.03 490.22,343.40 493.15,343.44 C496.08,343.49 496.07,347.81 496.65,350.18 C497.23,352.56 497.07,355.30 496.63,357.70 C496.20,360.10 495.19,362.39 494.05,364.57 C492.90,366.76 491.68,369.41 489.76,370.80 C487.83,372.18 484.92,372.45 482.50,372.88 C480.08,373.32 475.85,375.99 475.24,373.41 C474.63,370.84 475.30,360.10 478.83,357.45 C482.36,354.80 493.62,359.01 496.43,357.52 C499.23,356.03 496.62,351.31 495.65,348.53 C494.68,345.74 490.64,340.95 490.61,340.82 C490.58,340.70 494.45,345.22 495.49,347.75 C496.53,350.28 499.22,355.85 496.85,356.01 C494.47,356.17 486.25,351.15 481.24,348.71 C476.24,346.27 470.20,341.72 466.84,341.37 C463.48,341.02 462.25,344.45 461.07,346.61 C459.90,348.77 460.00,351.72 459.79,354.34 C459.58,356.96 458.87,360.05 459.80,362.33 C460.74,364.61 462.56,368.68 465.42,368.00 C468.28,367.33 474.85,359.23 476.95,358.27 C479.04,357.31 476.45,363.52 478.00,362.24 C479.55,360.96 483.80,353.43 486.23,350.58 C488.66,347.74 494.99,346.15 492.58,345.16 C490.17,344.17 474.29,343.10 471.78,344.63 C469.27,346.16 476.84,352.43 477.51,354.35 C478.19,356.27 478.45,354.92 475.85,356.15 C473.25,357.39 464.63,361.87 461.93,361.75 C459.22,361.64 459.92,357.66 459.64,355.46 C459.35,353.25 459.49,350.66 460.23,348.53 C460.97,346.40 462.50,344.33 464.07,342.68 C465.65,341.03 467.66,339.77 469.67,338.64 C471.68,337.52 473.93,336.07 476.14,335.93 C478.34,335.79 483.00,335.24 482.88,337.78 C482.76,340.33 479.29,348.74 475.40,351.21 C471.52,353.68 459.55,352.29 459.59,352.59 C459.63,352.88 472.11,355.64 475.65,353.01 C479.19,350.37 479.69,336.88 480.84,336.76 C481.99,336.64 482.07,349.14 482.54,352.27 C483.01,355.41 482.72,352.39 483.66,355.56 C484.60,358.72 486.46,372.43 488.16,371.26 C489.87,370.09 495.43,351.74 493.88,348.53 C492.33,345.31 482.48,353.70 478.85,351.99 C475.23,350.28 472.52,338.09 472.11,338.26 C471.70,338.43 477.83,348.72 476.41,353.00 C474.99,357.29 464.01,360.48 463.60,363.98 C463.19,367.48 473.43,372.88 473.95,374.01 C474.47,375.13 468.84,372.23 466.73,370.71 C464.62,369.18 462.53,367.10 461.29,364.83 C460.05,362.57 459.39,359.68 459.29,357.11 C459.19,354.55 459.94,351.94 460.70,349.46 C461.47,346.98 463.86,342.21 463.87,342.22 C463.88,342.23 461.44,347.04 460.76,349.53 C460.08,352.02 459.64,354.62 459.79,357.17 C459.94,359.71 460.46,362.56 461.68,364.79 C462.89,367.03 464.97,369.07 467.06,370.60 C469.15,372.14 472.04,376.05 474.22,373.99 C476.40,371.93 477.59,360.66 480.13,358.24 C482.67,355.82 487.50,357.93 489.47,359.48 C491.44,361.03 492.49,366.07 491.95,367.55 C491.41,369.03 489.23,368.31 486.24,368.38 C483.25,368.46 476.97,370.74 474.03,368.00 C471.08,365.27 470.07,355.96 468.56,351.97 C467.05,347.99 464.95,346.40 464.96,344.10 C464.96,341.80 466.87,339.40 468.60,338.16 C470.33,336.92 473.07,337.04 475.34,336.66 C477.61,336.29 480.13,335.39 482.23,335.91 C484.33,336.44 486.03,338.57 487.95,339.82 C489.87,341.07 494.75,342.15 493.76,343.40 C492.78,344.65 485.07,348.01 482.04,347.30 C479.01,346.59 477.44,339.05 475.59,339.12 C473.74,339.19 471.37,348.03 470.96,347.71 C470.56,347.39 471.55,336.19 473.16,337.21 C474.76,338.23 477.35,351.42 480.60,353.82 C483.86,356.22 492.58,351.17 492.69,351.60 C492.81,352.02 480.74,355.24 481.27,356.37 C481.81,357.50 493.33,359.24 495.92,358.37 C498.50,357.50 497.07,353.53 496.78,351.16 C496.49,348.79 495.59,346.05 494.17,344.13 C492.74,342.21 490.31,341.00 488.22,339.64 C486.13,338.28 484.02,336.53 481.65,335.97 C479.28,335.40 476.36,335.56 474.02,336.25 C471.67,336.94 469.42,338.54 467.59,340.10 C465.75,341.67 460.79,343.77 463.00,345.62 C465.21,347.48 476.93,349.89 480.86,351.23 C484.79,352.57 484.14,352.65 486.60,353.65 C489.05,354.65 495.37,356.57 495.61,357.25 C495.84,357.93 489.72,358.89 488.01,357.72 C486.30,356.56 485.68,352.00 485.34,350.27 C485.00,348.53 488.21,349.44 485.96,347.32 C483.70,345.20 471.66,337.36 471.79,337.57 C471.91,337.78 484.76,347.05 486.71,348.59 C488.66,350.13 481.75,344.96 483.49,346.83 C485.23,348.70 495.36,356.52 497.14,359.83 C498.92,363.13 495.64,364.75 494.19,366.68 C492.75,368.62 490.59,370.28 488.49,371.42 C486.38,372.56 483.90,373.24 481.57,373.52 C479.25,373.80 476.85,373.54 474.54,373.12 C472.22,372.70 469.62,372.26 467.69,371.01 C465.77,369.75 464.29,367.56 462.98,365.58 C461.67,363.61 458.31,359.48 459.83,359.15 C461.35,358.81 467.88,361.66 472.10,363.59 C476.32,365.53 483.70,369.16 485.17,370.77 C486.64,372.39 480.08,373.70 480.91,373.29 C481.75,372.87 487.80,369.89 490.20,368.29 C492.59,366.68 494.17,365.56 495.30,363.65 C496.42,361.75 498.83,357.61 496.95,356.88 C495.06,356.14 487.71,356.68 483.99,359.22 C480.26,361.77 475.89,369.58 474.60,372.14 C473.31,374.70 474.86,376.91 476.25,374.60 C477.65,372.29 481.79,358.62 482.96,358.28 C484.14,357.94 483.45,373.14 483.29,372.56 C483.13,371.98 480.02,356.96 481.98,354.81 C483.95,352.66 493.19,357.74 495.10,359.69 C497.02,361.63 494.63,364.55 493.49,366.49 C492.36,368.43 490.24,370.06 488.27,371.32 C486.30,372.57 484.03,375.45 481.66,374.02 C479.29,372.60 475.70,365.06 474.06,362.78 C472.42,360.49 471.73,361.70 471.82,360.31 C471.91,358.91 475.53,357.45 474.61,354.43 C473.69,351.40 468.04,343.21 466.30,342.16 C464.55,341.11 463.93,344.50 464.13,348.14 C464.33,351.78 467.81,362.01 467.52,364.02 C467.22,366.02 461.26,358.70 462.36,360.17 C463.45,361.64 471.01,370.39 474.08,372.85 C477.14,375.31 478.52,374.97 480.74,374.93 C482.96,374.90 485.55,373.89 487.41,372.63 C489.27,371.38 490.56,369.29 491.90,367.40 C493.23,365.51 494.44,363.48 495.41,361.29 C496.39,359.10 497.79,356.60 497.75,354.26 C497.72,351.92 498.26,347.19 495.21,347.26 C492.16,347.33 482.43,355.45 479.46,354.65 C476.49,353.86 475.64,344.64 477.37,342.48 C479.10,340.33 490.58,342.38 489.83,341.72 C489.08,341.07 473.09,338.13 472.86,338.56 C472.62,339.00 487.36,341.71 488.43,344.31 C489.49,346.92 479.00,352.16 479.24,354.21 C479.48,356.26 486.89,355.73 489.88,356.62 C492.87,357.51 498.80,360.29 497.20,359.54 C495.61,358.79 482.34,355.61 480.31,352.12 C478.29,348.64 485.40,340.50 485.06,338.65 C484.73,336.79 480.22,339.55 478.32,341.02 C476.41,342.49 474.37,346.29 473.62,347.48 C472.86,348.66 475.46,348.73 473.78,348.12 C472.11,347.52 465.69,343.56 463.54,343.83 C461.39,344.10 461.55,347.69 460.88,349.73 C460.22,351.77 459.60,353.92 459.53,356.08 C459.46,358.24 459.62,360.71 460.46,362.68 C461.29,364.66 462.96,366.47 464.54,367.95 C466.11,369.44 467.99,370.66 469.91,371.57 C471.82,372.48 473.92,373.06 476.02,373.41 C478.12,373.77 481.45,373.66 482.53,373.71" fill="none" stroke="#1a1a1a" stroke-width="0.38" stroke-linejoin="round"/>
<path d="M459.84,359.70 C460.56,361.12 462.03,366.03 464.11,368.22 C466.19,370.42 469.58,371.78 472.33,372.89 C475.08,373.99 477.90,375.05 480.61,374.84 C483.31,374.62 486.23,373.11 488.56,371.57 C490.89,370.03 494.50,365.78 494.61,365.60 C494.72,365.42 491.22,369.27 489.22,370.51 C487.22,371.75 484.87,372.61 482.61,373.05 C480.35,373.49 477.92,373.50 475.66,373.15 C473.41,372.81 471.23,371.98 469.08,370.99 C466.94,370.00 464.43,368.94 462.79,367.21 C461.15,365.47 459.65,362.91 459.25,360.58 C458.84,358.25 460.13,353.33 460.35,353.24 C460.57,353.14 460.06,357.85 460.59,360.01 C461.11,362.17 462.28,364.23 463.51,366.19 C464.74,368.14 466.10,370.33 467.96,371.73 C469.82,373.12 472.33,374.11 474.66,374.54 C476.98,374.98 479.56,374.77 481.91,374.33 C484.26,373.89 486.85,373.23 488.76,371.91 C490.66,370.58 491.85,368.77 493.35,366.37 C494.84,363.98 497.26,360.67 497.75,357.55 C498.24,354.42 496.50,348.14 496.29,347.60 C496.08,347.07 496.55,352.15 496.48,354.34 C496.41,356.52 496.34,358.60 495.87,360.71 C495.40,362.82 494.84,365.15 493.67,366.98 C492.49,368.82 490.67,370.48 488.82,371.74 C486.96,373.00 484.71,374.33 482.56,374.56 C480.40,374.78 478.12,373.45 475.90,373.10 C473.69,372.74 470.37,372.53 469.27,372.42" fill="none" stroke="#1a1a1a" stroke-width="0.45" stroke-linejoin="round"/>
<text x="7.3" y="222.2" font-size="10.60" text-anchor="start" fill="#111" font-weight="bold" font-style="normal" textLength="7.66" lengthAdjust="spacingAndGlyphs" stroke="#111" stroke-width="0.45" >C</text>
<rect x="15.2" y="244.5" width="56.5" height="28.5" fill="#fff" stroke="#7a7a7a" stroke-width="0.7"/>
<path d="M15.6,251.5 C19,250.5 23,250.3 26,250.8 C30,249.5 35,247.8 42,247 C48,246.5 54,247 57,248.5 C60,247 66,247.5 69,250.5 C71.2,253 71.4,258 70.5,262 C69.5,266 68,268.5 64,269.8 C58,271.5 50,271.5 44,271 C36,269.5 28,266.5 22,263 C18.5,261 16.2,259.5 15.6,258.5" fill="none" stroke="#444" stroke-width="0.55"/>
<path d="M25,251 C26.5,253 27,255 26.5,257 M57,248.5 C54.5,251 54,254 55,257 C52,259 50,262 47,265 M44,256 C46,259 48,263 47,266 C45,268 42,268.5 40,268 M47,253 C50,251 53,250.5 56,251 M43,255 C45,254 47,254 48,255 M50,266 C53,268 57,268.5 60,268" fill="none" stroke="#555" stroke-width="0.5"/>
<path d="M58.5,249.5 q2.2,3.0 0.6,6.0" fill="none" stroke="#777" stroke-width="0.4"/>
<path d="M60.0,249.8 q2.2,3.6 0.6,6.5" fill="none" stroke="#777" stroke-width="0.4"/>
<path d="M61.5,250.1 q2.2,4.2 0.6,7.0" fill="none" stroke="#777" stroke-width="0.4"/>
<path d="M63.0,250.4 q2.2,4.8 0.6,7.5" fill="none" stroke="#777" stroke-width="0.4"/>
<path d="M64.5,250.7 q2.2,5.4 0.6,8.0" fill="none" stroke="#777" stroke-width="0.4"/>
<path d="M66.0,251.0 q2.2,6.0 0.6,8.5" fill="none" stroke="#777" stroke-width="0.4"/>
<path d="M67.5,251.3 q2.2,6.6 0.6,9.0" fill="none" stroke="#777" stroke-width="0.4"/>
<path d="M33,258.8 C36,256.5 40,254.6 45,253.6 L45.5,255 C41.5,256 38.5,258.2 35,260.6 C33.8,260.8 33,260 33,258.8 Z" fill="#111"/>
<path d="M39.5,256 C39.3,258.5 39.8,261 40.5,262.5" fill="none" stroke="#111" stroke-width="0.9"/>
<path d="M59.5,258.6 C61.5,258.4 63.5,259 64.8,260.6 C62.8,261 61,260.6 59.8,259.8 Z" fill="#111"/>
<line x1="9.5" y1="258.7" x2="15.2" y2="258.7" stroke="#666" stroke-width="0.5" />
<line x1="71.7" y1="258.7" x2="80" y2="258.7" stroke="#666" stroke-width="0.5" />
<line x1="39.6" y1="238.5" x2="39.6" y2="244.5" stroke="#555" stroke-width="0.5" />
<line x1="39.6" y1="273" x2="39.6" y2="280.5" stroke="#555" stroke-width="0.5" />
<line x1="71.5" y1="238.5" x2="71.5" y2="244.5" stroke="#555" stroke-width="0.5" />
<line x1="71.5" y1="273" x2="71.5" y2="280.5" stroke="#555" stroke-width="0.5" />
<line x1="30.7" y1="245" x2="30.7" y2="272.8" stroke="#9a9a9a" stroke-width="0.45" />
<line x1="35.9" y1="245" x2="35.9" y2="272.8" stroke="#9a9a9a" stroke-width="0.45" />
<line x1="37.6" y1="245" x2="37.6" y2="272.8" stroke="#9a9a9a" stroke-width="0.45" />
<line x1="44.2" y1="245" x2="44.2" y2="272.8" stroke="#9a9a9a" stroke-width="0.45" />
<line x1="49.8" y1="245" x2="49.8" y2="272.8" stroke="#9a9a9a" stroke-width="0.45" />
<text x="22.5" y="242.8" font-size="5.60" text-anchor="middle" fill="#222" font-weight="normal" font-style="normal" textLength="3.11" lengthAdjust="spacingAndGlyphs" stroke="#222" stroke-width="0.1" >4</text>
<text x="30.3" y="242.8" font-size="5.60" text-anchor="middle" fill="#222" font-weight="normal" font-style="normal" textLength="3.11" lengthAdjust="spacingAndGlyphs" stroke="#222" stroke-width="0.1" >2</text>
<text x="37.7" y="242.8" font-size="5.60" text-anchor="middle" fill="#222" font-weight="normal" font-style="normal" textLength="3.11" lengthAdjust="spacingAndGlyphs" stroke="#222" stroke-width="0.1" >0</text>
<text x="45.3" y="242.8" font-size="5.60" text-anchor="middle" fill="#222" font-weight="normal" font-style="normal" textLength="5.43" lengthAdjust="spacingAndGlyphs" stroke="#222" stroke-width="0.1" >&#8722;2</text>
<text x="52.8" y="242.8" font-size="5.60" text-anchor="middle" fill="#222" font-weight="normal" font-style="normal" textLength="5.43" lengthAdjust="spacingAndGlyphs" stroke="#222" stroke-width="0.1" >&#8722;4</text>
<text x="60.6" y="242.8" font-size="5.60" text-anchor="middle" fill="#222" font-weight="normal" font-style="normal" textLength="5.43" lengthAdjust="spacingAndGlyphs" stroke="#222" stroke-width="0.1" >&#8722;6</text>
<text x="68" y="242.8" font-size="5.60" text-anchor="middle" fill="#222" font-weight="normal" font-style="normal" textLength="5.43" lengthAdjust="spacingAndGlyphs" stroke="#222" stroke-width="0.1" >&#8722;8</text>
<text x="22.5" y="281.0" font-size="5.60" text-anchor="middle" fill="#222" font-weight="normal" font-style="normal" textLength="3.11" lengthAdjust="spacingAndGlyphs" stroke="#222" stroke-width="0.1" >8</text>
<text x="29.8" y="281.0" font-size="5.60" text-anchor="middle" fill="#222" font-weight="normal" font-style="normal" textLength="3.11" lengthAdjust="spacingAndGlyphs" stroke="#222" stroke-width="0.1" >6</text>
<text x="37.2" y="281.0" font-size="5.60" text-anchor="middle" fill="#222" font-weight="normal" font-style="normal" textLength="3.11" lengthAdjust="spacingAndGlyphs" stroke="#222" stroke-width="0.1" >4</text>
<text x="45.3" y="281.0" font-size="5.60" text-anchor="middle" fill="#222" font-weight="normal" font-style="normal" textLength="3.11" lengthAdjust="spacingAndGlyphs" stroke="#222" stroke-width="0.1" >2</text>
<text x="52.8" y="281.0" font-size="5.60" text-anchor="middle" fill="#222" font-weight="normal" font-style="normal" textLength="3.11" lengthAdjust="spacingAndGlyphs" stroke="#222" stroke-width="0.1" >0</text>
<text x="59.3" y="281.0" font-size="5.60" text-anchor="middle" fill="#222" font-weight="normal" font-style="normal" textLength="5.43" lengthAdjust="spacingAndGlyphs" stroke="#222" stroke-width="0.1" >&#8722;2</text>
<text x="66.6" y="281.0" font-size="5.60" text-anchor="middle" fill="#222" font-weight="normal" font-style="normal" textLength="5.43" lengthAdjust="spacingAndGlyphs" stroke="#222" stroke-width="0.1" >&#8722;4</text>
<text x="10.8" y="250.3" font-size="5.40" text-anchor="middle" fill="#222" font-weight="normal" font-style="normal" textLength="3.00" lengthAdjust="spacingAndGlyphs" stroke="#222" stroke-width="0.1" >6</text>
<text x="77.3" y="250.3" font-size="5.40" text-anchor="middle" fill="#222" font-weight="normal" font-style="normal" textLength="3.00" lengthAdjust="spacingAndGlyphs" stroke="#222" stroke-width="0.1" >0</text>
<text x="10.8" y="257.7" font-size="5.40" text-anchor="middle" fill="#222" font-weight="normal" font-style="normal" textLength="3.00" lengthAdjust="spacingAndGlyphs" stroke="#222" stroke-width="0.1" >4</text>
<text x="77.3" y="257.7" font-size="5.40" text-anchor="middle" fill="#222" font-weight="normal" font-style="normal" textLength="3.00" lengthAdjust="spacingAndGlyphs" stroke="#222" stroke-width="0.1" >2</text>
<text x="10.8" y="265.1" font-size="5.40" text-anchor="middle" fill="#222" font-weight="normal" font-style="normal" textLength="3.00" lengthAdjust="spacingAndGlyphs" stroke="#222" stroke-width="0.1" >2</text>
<text x="77.3" y="265.1" font-size="5.40" text-anchor="middle" fill="#222" font-weight="normal" font-style="normal" textLength="3.00" lengthAdjust="spacingAndGlyphs" stroke="#222" stroke-width="0.1" >4</text>
<text x="10.8" y="272.5" font-size="5.40" text-anchor="middle" fill="#222" font-weight="normal" font-style="normal" textLength="3.00" lengthAdjust="spacingAndGlyphs" stroke="#222" stroke-width="0.1" >0</text>
<text x="77.3" y="272.5" font-size="5.40" text-anchor="middle" fill="#222" font-weight="normal" font-style="normal" textLength="3.00" lengthAdjust="spacingAndGlyphs" stroke="#222" stroke-width="0.1" >6</text>
<line x1="13.5" y1="248" x2="15.1" y2="248" stroke="#555" stroke-width="0.4" />
<line x1="72.8" y1="248" x2="74.4" y2="248" stroke="#555" stroke-width="0.4" />
<line x1="13.5" y1="255.5" x2="15.1" y2="255.5" stroke="#555" stroke-width="0.4" />
<line x1="72.8" y1="255.5" x2="74.4" y2="255.5" stroke="#555" stroke-width="0.4" />
<line x1="13.5" y1="263" x2="15.1" y2="263" stroke="#555" stroke-width="0.4" />
<line x1="72.8" y1="263" x2="74.4" y2="263" stroke="#555" stroke-width="0.4" />
<line x1="13.5" y1="270.4" x2="15.1" y2="270.4" stroke="#555" stroke-width="0.4" />
<line x1="72.8" y1="270.4" x2="74.4" y2="270.4" stroke="#555" stroke-width="0.4" />
<text x="86.6" y="247.9" font-size="8.00" text-anchor="start" fill="#1a1a1a" font-weight="normal" font-style="normal" textLength="23.60" lengthAdjust="spacingAndGlyphs" stroke="#1a1a1a" stroke-width="0.1" >(Site 1)</text>
<path d="M153.50,243.92 C155.36,243.92 156.60,241.77 159.08,241.12 C161.56,240.47 165.28,239.91 168.38,240.00 C171.48,240.09 174.58,240.56 177.68,241.68 C180.78,242.80 184.19,244.48 186.98,246.72 C189.77,248.96 192.48,252.23 194.42,255.12 C196.36,258.01 197.67,261.47 198.60,264.08 C199.53,266.69 200.08,268.37 200.00,270.80 C199.92,273.23 199.22,276.21 198.14,278.64 C197.05,281.07 195.50,283.40 193.49,285.36 C191.48,287.32 188.84,289.00 186.05,290.40 C183.26,291.80 179.85,292.92 176.75,293.76 C173.65,294.60 170.32,295.35 167.45,295.44 C164.58,295.53 161.87,294.88 159.54,294.32 C157.22,293.76 155.51,292.08 153.50,292.08 C151.49,292.08 149.78,293.76 147.46,294.32 C145.13,294.88 142.42,295.53 139.55,295.44 C136.68,295.35 133.35,294.60 130.25,293.76 C127.15,292.92 123.74,291.80 120.95,290.40 C118.16,289.00 115.52,287.32 113.51,285.36 C111.49,283.40 109.94,281.07 108.86,278.64 C107.78,276.21 107.08,273.23 107.00,270.80 C106.92,268.37 107.47,266.69 108.40,264.08 C109.33,261.47 110.64,258.01 112.58,255.12 C114.52,252.23 117.23,248.96 120.02,246.72 C122.81,244.48 126.22,242.80 129.32,241.68 C132.42,240.56 135.52,240.09 138.62,240.00 C141.72,239.91 145.44,240.47 147.92,241.12 C150.40,241.77 151.64,243.92 153.50,243.92Z" fill="#fff" stroke="#8a8a8a" stroke-width="0.55"/>
<path d="M153.50,248.85 C154.28,248.46 156.10,247.04 158.19,246.50 C160.27,245.95 163.40,245.48 166.00,245.56 C168.60,245.63 171.21,246.03 173.81,246.97 C176.42,247.91 179.28,249.32 181.62,251.20 C183.97,253.08 186.25,255.83 187.87,258.26 C189.50,260.69 190.61,263.59 191.39,265.78 C192.17,267.98 192.63,269.39 192.56,271.43 C192.49,273.47 191.91,275.97 191.00,278.01 C190.09,280.05 187.74,282.72 187.09,283.66" fill="none" stroke="#a4a4a4" stroke-width="0.45"/>
<path d="M119.91,283.66 C119.26,282.72 116.91,280.05 116.00,278.01 C115.09,275.97 114.51,273.47 114.44,271.43 C114.37,269.39 114.83,267.98 115.61,265.78 C116.39,263.59 117.50,260.69 119.13,258.26 C120.75,255.83 123.03,253.08 125.38,251.20 C127.72,249.32 130.58,247.91 133.19,246.97 C135.79,246.03 138.40,245.63 141.00,245.56 C143.60,245.48 146.73,245.95 148.81,246.50 C150.90,247.04 152.72,248.46 153.50,248.85" fill="none" stroke="#a4a4a4" stroke-width="0.45"/>
<path d="M153.50,252.54 C154.17,252.21 155.73,251.00 157.52,250.53 C159.30,250.06 161.98,249.65 164.21,249.72 C166.45,249.79 168.68,250.12 170.91,250.93 C173.14,251.74 175.60,252.95 177.61,254.56 C179.61,256.17 181.57,258.52 182.96,260.61 C184.36,262.69 185.31,265.18 185.98,267.06 C186.65,268.94 187.04,270.15 186.98,271.90 C186.92,273.64 186.42,275.80 185.64,277.54 C184.86,279.29 182.85,281.57 182.29,282.38" fill="none" stroke="#999999" stroke-width="0.5"/>
<path d="M124.71,282.38 C124.15,281.57 122.14,279.29 121.36,277.54 C120.58,275.80 120.08,273.64 120.02,271.90 C119.96,270.15 120.35,268.94 121.02,267.06 C121.69,265.18 122.64,262.69 124.04,260.61 C125.43,258.52 127.39,256.17 129.39,254.56 C131.40,252.95 133.86,251.74 136.09,250.93 C138.32,250.12 140.55,249.79 142.79,249.72 C145.02,249.65 147.70,250.06 149.48,250.53 C151.27,251.00 152.83,252.21 153.50,252.54" fill="none" stroke="#999999" stroke-width="0.5"/>
<path d="M153.50,253.78 C154.13,253.46 155.61,252.32 157.29,251.87 C158.98,251.43 161.51,251.05 163.62,251.11 C165.73,251.17 167.83,251.49 169.94,252.25 C172.05,253.01 174.37,254.16 176.27,255.68 C178.16,257.20 180.01,259.42 181.33,261.39 C182.64,263.36 183.54,265.71 184.17,267.48 C184.80,269.26 185.17,270.40 185.12,272.05 C185.07,273.70 184.59,275.74 183.86,277.39 C183.12,279.04 181.22,281.19 180.69,281.96" fill="none" stroke="#b4b4b4" stroke-width="0.4"/>
<path d="M126.31,281.96 C125.78,281.19 123.88,279.04 123.14,277.39 C122.41,275.74 121.93,273.70 121.88,272.05 C121.83,270.40 122.20,269.26 122.83,267.48 C123.46,265.71 124.36,263.36 125.67,261.39 C126.99,259.42 128.84,257.20 130.73,255.68 C132.63,254.16 134.95,253.01 137.06,252.25 C139.17,251.49 141.27,251.17 143.38,251.11 C145.49,251.05 148.02,251.43 149.71,251.87 C151.39,252.32 152.87,253.46 153.50,253.78" fill="none" stroke="#b4b4b4" stroke-width="0.4"/>
<line x1="158.2" y1="241.7" x2="157.4" y2="247.0" stroke="#b2b2b2" stroke-width="0.35" />
<line x1="165.1" y1="240.3" x2="163.3" y2="245.8" stroke="#b2b2b2" stroke-width="0.35" />
<line x1="173.0" y1="240.6" x2="169.9" y2="246.0" stroke="#b2b2b2" stroke-width="0.35" />
<line x1="180.5" y1="242.8" x2="176.2" y2="247.9" stroke="#b2b2b2" stroke-width="0.35" />
<line x1="187.0" y1="246.7" x2="181.6" y2="251.2" stroke="#b2b2b2" stroke-width="0.35" />
<line x1="192.6" y1="252.3" x2="186.3" y2="255.9" stroke="#b2b2b2" stroke-width="0.35" />
<line x1="196.7" y1="259.6" x2="189.8" y2="262.0" stroke="#b2b2b2" stroke-width="0.35" />
<line x1="199.5" y1="268.0" x2="192.2" y2="269.1" stroke="#b2b2b2" stroke-width="0.35" />
<line x1="198.6" y1="277.0" x2="191.4" y2="276.6" stroke="#b2b2b2" stroke-width="0.35" />
<line x1="194.4" y1="284.2" x2="187.9" y2="282.7" stroke="#b2b2b2" stroke-width="0.35" />
<rect x="162.8" y="242.6" width="1.2" height="0.45" fill="#9c9c9c" />
<rect x="189.5" y="284.0" width="0.9" height="0.45" fill="#9c9c9c" />
<rect x="196.8" y="271.8" width="0.9" height="0.45" fill="#9c9c9c" />
<rect x="195.4" y="269.1" width="1.2" height="0.45" fill="#9c9c9c" />
<rect x="163.2" y="244.2" width="1.3" height="0.45" fill="#9c9c9c" />
<rect x="181.2" y="248.4" width="1.3" height="0.45" fill="#9c9c9c" />
<rect x="193.6" y="266.4" width="1.1" height="0.45" fill="#9c9c9c" />
<rect x="194.1" y="268.1" width="1.2" height="0.45" fill="#9c9c9c" />
<rect x="163.6" y="243.7" width="0.8" height="0.45" fill="#9c9c9c" />
<rect x="171.0" y="241.7" width="1.0" height="0.45" fill="#9c9c9c" />
<rect x="187.2" y="286.3" width="1.1" height="0.45" fill="#9c9c9c" />
<rect x="193.9" y="280.6" width="0.8" height="0.45" fill="#9c9c9c" />
<rect x="194.8" y="263.1" width="0.8" height="0.45" fill="#9c9c9c" />
<rect x="162.0" y="242.2" width="1.1" height="0.45" fill="#9c9c9c" />
<rect x="169.2" y="243.3" width="0.9" height="0.45" fill="#9c9c9c" />
<rect x="195.1" y="276.0" width="0.8" height="0.45" fill="#9c9c9c" />
<rect x="193.0" y="277.2" width="0.9" height="0.45" fill="#9c9c9c" />
<rect x="157.5" y="243.7" width="0.8" height="0.45" fill="#9c9c9c" />
<rect x="190.3" y="259.3" width="1.0" height="0.45" fill="#9c9c9c" />
<rect x="196.0" y="269.0" width="1.0" height="0.45" fill="#9c9c9c" />
<rect x="190.0" y="255.8" width="1.1" height="0.45" fill="#9c9c9c" />
<rect x="161.6" y="243.5" width="0.9" height="0.45" fill="#9c9c9c" />
<line x1="148.8" y1="241.7" x2="149.6" y2="247.0" stroke="#b2b2b2" stroke-width="0.35" />
<line x1="141.9" y1="240.3" x2="143.7" y2="245.8" stroke="#b2b2b2" stroke-width="0.35" />
<line x1="134.0" y1="240.6" x2="137.1" y2="246.0" stroke="#b2b2b2" stroke-width="0.35" />
<line x1="126.5" y1="242.8" x2="130.8" y2="247.9" stroke="#b2b2b2" stroke-width="0.35" />
<line x1="120.0" y1="246.7" x2="125.4" y2="251.2" stroke="#b2b2b2" stroke-width="0.35" />
<line x1="114.4" y1="252.3" x2="120.7" y2="255.9" stroke="#b2b2b2" stroke-width="0.35" />
<line x1="110.3" y1="259.6" x2="117.2" y2="262.0" stroke="#b2b2b2" stroke-width="0.35" />
<line x1="107.5" y1="268.0" x2="114.8" y2="269.1" stroke="#b2b2b2" stroke-width="0.35" />
<line x1="108.4" y1="277.0" x2="115.6" y2="276.6" stroke="#b2b2b2" stroke-width="0.35" />
<line x1="112.6" y1="284.2" x2="119.1" y2="282.7" stroke="#b2b2b2" stroke-width="0.35" />
<rect x="111.8" y="280.4" width="0.7" height="0.45" fill="#9c9c9c" />
<rect x="141.3" y="242.3" width="1.1" height="0.45" fill="#9c9c9c" />
<rect x="150.0" y="244.0" width="1.4" height="0.45" fill="#9c9c9c" />
<rect x="121.1" y="251.7" width="1.1" height="0.45" fill="#9c9c9c" />
<rect x="117.5" y="284.0" width="0.9" height="0.45" fill="#9c9c9c" />
<rect x="137.9" y="242.6" width="1.0" height="0.45" fill="#9c9c9c" />
<rect x="133.2" y="244.4" width="0.7" height="0.45" fill="#9c9c9c" />
<rect x="127.3" y="244.3" width="1.1" height="0.45" fill="#9c9c9c" />
<rect x="129.8" y="243.1" width="1.0" height="0.45" fill="#9c9c9c" />
<rect x="134.3" y="245.5" width="0.8" height="0.45" fill="#9c9c9c" />
<rect x="137.8" y="244.2" width="1.3" height="0.45" fill="#9c9c9c" />
<rect x="132.9" y="245.0" width="1.1" height="0.45" fill="#9c9c9c" />
<rect x="116.5" y="282.8" width="1.2" height="0.45" fill="#9c9c9c" />
<rect x="124.1" y="247.9" width="1.1" height="0.45" fill="#9c9c9c" />
<rect x="115.6" y="284.7" width="1.1" height="0.45" fill="#9c9c9c" />
<rect x="113.3" y="278.7" width="1.0" height="0.45" fill="#9c9c9c" />
<rect x="117.5" y="285.2" width="1.2" height="0.45" fill="#9c9c9c" />
<rect x="127.3" y="244.6" width="1.1" height="0.45" fill="#9c9c9c" />
<rect x="132.7" y="242.4" width="1.0" height="0.45" fill="#9c9c9c" />
<rect x="127.2" y="247.6" width="0.8" height="0.45" fill="#9c9c9c" />
<rect x="136.9" y="242.6" width="0.8" height="0.45" fill="#9c9c9c" />
<rect x="132.8" y="244.2" width="1.1" height="0.45" fill="#9c9c9c" />
<ellipse cx="170.2" cy="271.4" rx="10.2" ry="11.2" fill="none" stroke="#b8b8b8" stroke-width="0.35"/>
<circle cx="164.2" cy="277.5" r="0.5" fill="none" stroke="#a8a8a8" stroke-width="0.3"/>
<circle cx="170.0" cy="277.5" r="0.5" fill="none" stroke="#a8a8a8" stroke-width="0.3"/>
<circle cx="167.3" cy="273.0" r="0.5" fill="none" stroke="#a8a8a8" stroke-width="0.3"/>
<circle cx="170.9" cy="275.2" r="0.5" fill="none" stroke="#a8a8a8" stroke-width="0.3"/>
<circle cx="169.7" cy="267.5" r="0.5" fill="none" stroke="#a8a8a8" stroke-width="0.3"/>
<circle cx="168.1" cy="267.2" r="0.5" fill="none" stroke="#a8a8a8" stroke-width="0.3"/>
<circle cx="165.7" cy="264.9" r="0.5" fill="none" stroke="#a8a8a8" stroke-width="0.3"/>
<circle cx="164.8" cy="279.1" r="0.5" fill="none" stroke="#a8a8a8" stroke-width="0.3"/>
<circle cx="166.4" cy="265.1" r="0.5" fill="none" stroke="#a8a8a8" stroke-width="0.3"/>
<circle cx="175.9" cy="273.2" r="0.5" fill="none" stroke="#a8a8a8" stroke-width="0.3"/>
<circle cx="169.6" cy="278.2" r="0.5" fill="none" stroke="#a8a8a8" stroke-width="0.3"/>
<circle cx="178.1" cy="267.5" r="0.5" fill="none" stroke="#a8a8a8" stroke-width="0.3"/>
<circle cx="177.3" cy="274.5" r="0.5" fill="none" stroke="#a8a8a8" stroke-width="0.3"/>
<circle cx="176.5" cy="268.4" r="0.5" fill="none" stroke="#a8a8a8" stroke-width="0.3"/>
<circle cx="177.3" cy="276.7" r="0.5" fill="none" stroke="#a8a8a8" stroke-width="0.3"/>
<circle cx="162.0" cy="275.8" r="0.5" fill="none" stroke="#a8a8a8" stroke-width="0.3"/>
<circle cx="176.2" cy="264.8" r="0.5" fill="none" stroke="#a8a8a8" stroke-width="0.3"/>
<circle cx="172.4" cy="270.3" r="0.5" fill="none" stroke="#a8a8a8" stroke-width="0.3"/>
<circle cx="171.6" cy="266.0" r="0.5" fill="none" stroke="#a8a8a8" stroke-width="0.3"/>
<circle cx="174.0" cy="276.0" r="0.5" fill="none" stroke="#a8a8a8" stroke-width="0.3"/>
<circle cx="169.7" cy="271.0" r="0.5" fill="none" stroke="#a8a8a8" stroke-width="0.3"/>
<circle cx="162.4" cy="274.1" r="0.5" fill="none" stroke="#a8a8a8" stroke-width="0.3"/>
<circle cx="163.5" cy="271.6" r="0.5" fill="none" stroke="#a8a8a8" stroke-width="0.3"/>
<circle cx="167.6" cy="280.9" r="0.5" fill="none" stroke="#a8a8a8" stroke-width="0.3"/>
<circle cx="170.3" cy="279.7" r="0.5" fill="none" stroke="#a8a8a8" stroke-width="0.3"/>
<circle cx="170.1" cy="271.2" r="0.5" fill="none" stroke="#a8a8a8" stroke-width="0.3"/>
<path d="M155.8,287.6 Q176.8,294.3 189.8,283.7" fill="none" stroke="#b0b0b0" stroke-width="0.35"/>
<path d="M159.1,256.8 Q162.8,279.2 158.2,289.3" fill="none" stroke="#b8b8b8" stroke-width="0.35"/>
<path d="M181.4,282.0 Q188.4,270.8 184.2,261.3" fill="none" stroke="#b8b8b8" stroke-width="0.35"/>
<ellipse cx="136.8" cy="271.4" rx="10.2" ry="11.2" fill="none" stroke="#b8b8b8" stroke-width="0.35"/>
<circle cx="141.3" cy="271.2" r="0.5" fill="none" stroke="#a8a8a8" stroke-width="0.3"/>
<circle cx="145.7" cy="270.6" r="0.5" fill="none" stroke="#a8a8a8" stroke-width="0.3"/>
<circle cx="143.7" cy="265.9" r="0.5" fill="none" stroke="#a8a8a8" stroke-width="0.3"/>
<circle cx="131.8" cy="275.4" r="0.5" fill="none" stroke="#a8a8a8" stroke-width="0.3"/>
<circle cx="131.7" cy="279.4" r="0.5" fill="none" stroke="#a8a8a8" stroke-width="0.3"/>
<circle cx="140.1" cy="272.0" r="0.5" fill="none" stroke="#a8a8a8" stroke-width="0.3"/>
<circle cx="144.8" cy="268.9" r="0.5" fill="none" stroke="#a8a8a8" stroke-width="0.3"/>
<circle cx="134.2" cy="261.8" r="0.5" fill="none" stroke="#a8a8a8" stroke-width="0.3"/>
<circle cx="128.4" cy="270.0" r="0.5" fill="none" stroke="#a8a8a8" stroke-width="0.3"/>
<circle cx="128.5" cy="274.7" r="0.5" fill="none" stroke="#a8a8a8" stroke-width="0.3"/>
<circle cx="142.3" cy="274.2" r="0.5" fill="none" stroke="#a8a8a8" stroke-width="0.3"/>
<circle cx="129.4" cy="267.2" r="0.5" fill="none" stroke="#a8a8a8" stroke-width="0.3"/>
<circle cx="130.0" cy="275.3" r="0.5" fill="none" stroke="#a8a8a8" stroke-width="0.3"/>
<circle cx="142.7" cy="270.0" r="0.5" fill="none" stroke="#a8a8a8" stroke-width="0.3"/>
<circle cx="137.3" cy="273.0" r="0.5" fill="none" stroke="#a8a8a8" stroke-width="0.3"/>
<circle cx="140.9" cy="266.0" r="0.5" fill="none" stroke="#a8a8a8" stroke-width="0.3"/>
<circle cx="131.7" cy="276.1" r="0.5" fill="none" stroke="#a8a8a8" stroke-width="0.3"/>
<circle cx="139.9" cy="274.6" r="0.5" fill="none" stroke="#a8a8a8" stroke-width="0.3"/>
<circle cx="137.2" cy="276.4" r="0.5" fill="none" stroke="#a8a8a8" stroke-width="0.3"/>
<circle cx="139.7" cy="267.5" r="0.5" fill="none" stroke="#a8a8a8" stroke-width="0.3"/>
<circle cx="144.1" cy="276.4" r="0.5" fill="none" stroke="#a8a8a8" stroke-width="0.3"/>
<circle cx="135.3" cy="270.8" r="0.5" fill="none" stroke="#a8a8a8" stroke-width="0.3"/>
<circle cx="133.3" cy="263.9" r="0.5" fill="none" stroke="#a8a8a8" stroke-width="0.3"/>
<circle cx="131.9" cy="264.2" r="0.5" fill="none" stroke="#a8a8a8" stroke-width="0.3"/>
<circle cx="132.8" cy="273.6" r="0.5" fill="none" stroke="#a8a8a8" stroke-width="0.3"/>
<circle cx="136.5" cy="263.4" r="0.5" fill="none" stroke="#a8a8a8" stroke-width="0.3"/>
<path d="M151.2,287.6 Q130.2,294.3 117.2,283.7" fill="none" stroke="#b0b0b0" stroke-width="0.35"/>
<path d="M147.9,256.8 Q144.2,279.2 148.8,289.3" fill="none" stroke="#b8b8b8" stroke-width="0.35"/>
<path d="M125.6,282.0 Q118.6,270.8 122.8,261.3" fill="none" stroke="#b8b8b8" stroke-width="0.35"/>
<line x1="153.5" y1="243.9" x2="153.5" y2="292.1" stroke="#bcbcbc" stroke-width="0.35" />
<path d="M156.3,276.8 A16.7,20.2 0 0 1 189.8,276.8" fill="none" stroke="#a0a0a0" stroke-width="0.4"/>
<path d="M159.1,275.8 A13.9,16.8 0 0 1 187.0,275.8" fill="none" stroke="#b0b0b0" stroke-width="0.4"/>
<path d="M162.8,274.5 A10.2,12.3 0 0 1 183.3,274.5" fill="none" stroke="#a8a8a8" stroke-width="0.4"/>
<path d="M159.1,277.5 Q173.0,288.7 187.0,277.5" fill="none" stroke="#a8a8a8" stroke-width="0.4"/>
<path d="M117.2,276.8 A16.7,20.2 0 0 1 150.7,276.8" fill="none" stroke="#a0a0a0" stroke-width="0.4"/>
<path d="M120.0,275.8 A13.9,16.8 0 0 1 147.9,275.8" fill="none" stroke="#b0b0b0" stroke-width="0.4"/>
<path d="M123.7,274.5 A10.2,12.3 0 0 1 144.2,274.5" fill="none" stroke="#a8a8a8" stroke-width="0.4"/>
<path d="M120.0,277.5 Q134.0,288.7 147.9,277.5" fill="none" stroke="#a8a8a8" stroke-width="0.4"/>
<rect x="165.2" y="260.7" width="1.0" height="0.45" fill="#a0a0a0" />
<rect x="164.5" y="268.0" width="1.2" height="0.45" fill="#a0a0a0" />
<rect x="151.9" y="281.5" width="1.0" height="0.45" fill="#a0a0a0" />
<rect x="153.4" y="284.2" width="0.9" height="0.45" fill="#a0a0a0" />
<rect x="134.8" y="277.2" width="0.8" height="0.45" fill="#a0a0a0" />
<rect x="174.1" y="264.0" width="1.4" height="0.45" fill="#a0a0a0" />
<rect x="155.4" y="259.6" width="1.1" height="0.45" fill="#a0a0a0" />
<rect x="164.0" y="271.7" width="1.2" height="0.45" fill="#a0a0a0" />
<rect x="145.9" y="288.9" width="0.8" height="0.45" fill="#a0a0a0" />
<rect x="170.7" y="254.9" width="1.1" height="0.45" fill="#a0a0a0" />
<rect x="128.5" y="258.8" width="1.2" height="0.45" fill="#a0a0a0" />
<rect x="176.8" y="265.3" width="1.0" height="0.45" fill="#a0a0a0" />
<rect x="152.1" y="276.0" width="1.0" height="0.45" fill="#a0a0a0" />
<rect x="144.9" y="285.1" width="1.1" height="0.45" fill="#a0a0a0" />
<rect x="145.0" y="283.8" width="1.5" height="0.45" fill="#a0a0a0" />
<rect x="149.6" y="254.6" width="0.9" height="0.45" fill="#a0a0a0" />
<rect x="176.5" y="260.3" width="0.9" height="0.45" fill="#a0a0a0" />
<rect x="170.4" y="258.2" width="1.4" height="0.45" fill="#a0a0a0" />
<rect x="137.7" y="268.1" width="1.2" height="0.45" fill="#a0a0a0" />
<rect x="131.1" y="282.2" width="1.1" height="0.45" fill="#a0a0a0" />
<rect x="169.1" y="281.8" width="0.8" height="0.45" fill="#a0a0a0" />
<rect x="172.1" y="283.9" width="0.9" height="0.45" fill="#a0a0a0" />
<rect x="158.8" y="261.5" width="1.1" height="0.45" fill="#a0a0a0" />
<rect x="168.0" y="267.7" width="1.1" height="0.45" fill="#a0a0a0" />
<rect x="132.2" y="285.4" width="1.2" height="0.45" fill="#a0a0a0" />
<rect x="172.6" y="256.9" width="1.3" height="0.45" fill="#a0a0a0" />
<rect x="129.9" y="274.3" width="0.9" height="0.45" fill="#a0a0a0" />
<rect x="176.7" y="257.9" width="1.1" height="0.45" fill="#a0a0a0" />
<rect x="151.8" y="268.0" width="0.8" height="0.45" fill="#a0a0a0" />
<rect x="163.1" y="289.4" width="1.0" height="0.45" fill="#a0a0a0" />
<rect x="176.5" y="266.3" width="0.9" height="0.45" fill="#a0a0a0" />
<rect x="150.9" y="289.4" width="1.3" height="0.45" fill="#a0a0a0" />
<rect x="161.1" y="255.4" width="1.1" height="0.45" fill="#a0a0a0" />
<rect x="125.5" y="256.3" width="1.0" height="0.45" fill="#a0a0a0" />
<rect x="138.7" y="257.8" width="1.1" height="0.45" fill="#a0a0a0" />
<rect x="169.8" y="287.7" width="1.4" height="0.45" fill="#a0a0a0" />
<rect x="149.2" y="260.5" width="1.5" height="0.45" fill="#a0a0a0" />
<rect x="149.1" y="266.5" width="1.4" height="0.45" fill="#a0a0a0" />
<rect x="156.8" y="288.7" width="1.3" height="0.45" fill="#a0a0a0" />
<rect x="179.2" y="259.6" width="1.5" height="0.45" fill="#a0a0a0" />
<rect x="155.9" y="279.4" width="0.9" height="0.45" fill="#a0a0a0" />
<rect x="138.7" y="264.8" width="0.8" height="0.45" fill="#a0a0a0" />
<rect x="180.1" y="258.3" width="0.9" height="0.45" fill="#a0a0a0" />
<rect x="161.2" y="261.4" width="0.9" height="0.45" fill="#a0a0a0" />
<rect x="139.3" y="262.5" width="0.7" height="0.45" fill="#a0a0a0" />
<path d="M153.40,242.60 C154.13,241.92 156.22,241.53 158.00,241.20 C159.78,240.87 161.28,240.47 164.10,240.60 C166.92,240.73 171.67,241.30 174.90,242.00 C178.13,242.70 180.82,243.27 183.50,244.80 C186.18,246.33 188.85,249.05 191.00,251.20 C193.15,253.35 195.03,255.72 196.40,257.70 C197.77,259.68 198.93,261.82 199.20,263.10 C199.47,264.38 199.00,265.28 198.00,265.40 C197.00,265.52 194.90,264.87 193.20,263.80 C191.50,262.73 189.95,260.25 187.80,259.00 C185.65,257.75 182.80,256.93 180.30,256.30 C177.80,255.67 174.95,255.58 172.80,255.20 C170.65,254.82 168.43,254.67 167.40,254.00 C166.37,253.33 167.32,252.37 166.60,251.20 C165.88,250.03 164.40,247.78 163.10,247.00 C161.80,246.22 160.07,246.40 158.80,246.50 C157.53,246.60 156.37,247.80 155.50,247.60 C154.63,247.40 153.95,246.13 153.60,245.30 C153.25,244.47 152.67,243.28 153.40,242.60Z" fill="#2e3192" />
<path d="M155.00,242.20 C156.45,241.82 160.67,241.37 164.00,241.50 C167.33,241.63 171.83,242.32 175.00,243.00 C178.17,243.68 180.50,244.10 183.00,245.60 C185.50,247.10 188.00,249.93 190.00,252.00 C192.00,254.07 193.80,256.30 195.00,258.00 C196.20,259.70 197.53,261.87 197.20,262.20 C196.87,262.53 194.87,261.20 193.00,260.00 C191.13,258.80 188.50,256.13 186.00,255.00 C183.50,253.87 180.67,253.67 178.00,253.20 C175.33,252.73 172.00,252.90 170.00,252.20 C168.00,251.50 167.33,250.10 166.00,249.00 C164.67,247.90 163.50,246.27 162.00,245.60 C160.50,244.93 158.12,245.30 157.00,245.00 C155.88,244.70 155.63,244.27 155.30,243.80 C154.97,243.33 153.55,242.58 155.00,242.20Z" fill="#00aeef" />
<path d="M164.10,242.10 C165.77,241.32 171.68,242.15 175.00,242.80 C178.32,243.45 181.75,244.72 184.00,246.00 C186.25,247.28 188.67,249.55 188.50,250.50 C188.33,251.45 185.08,251.52 183.00,251.70 C180.92,251.88 178.33,251.85 176.00,251.60 C173.67,251.35 170.83,250.88 169.00,250.20 C167.17,249.52 165.82,248.85 165.00,247.50 C164.18,246.15 162.43,242.88 164.10,242.10Z" fill="#00a651" />
<path d="M164.80,242.30 C166.08,241.58 171.13,242.18 174.00,242.70 C176.87,243.22 180.12,244.35 182.00,245.40 C183.88,246.45 185.63,248.17 185.30,249.00 C184.97,249.83 182.22,250.23 180.00,250.40 C177.78,250.57 174.28,250.57 172.00,250.00 C169.72,249.43 167.50,248.28 166.30,247.00 C165.10,245.72 163.52,243.02 164.80,242.30Z" fill="#8dc63f" />
<path d="M172.20,243.10 C173.45,242.77 177.87,243.68 180.00,244.50 C182.13,245.32 184.83,247.12 185.00,248.00 C185.17,248.88 182.67,249.63 181.00,249.80 C179.33,249.97 176.42,249.55 175.00,249.00 C173.58,248.45 172.97,247.48 172.50,246.50 C172.03,245.52 170.95,243.43 172.20,243.10Z" fill="#fff200" />
<path d="M173.30,243.20 C173.97,242.52 176.72,243.35 178.00,243.90 C179.28,244.45 181.17,245.73 181.00,246.50 C180.83,247.27 178.17,248.25 177.00,248.50 C175.83,248.75 174.62,248.88 174.00,248.00 C173.38,247.12 172.63,243.88 173.30,243.20Z" fill="#f7941d" />
<path d="M189.30,272.30 C189.80,271.92 191.43,272.42 191.80,273.20 C192.17,273.98 191.88,275.73 191.50,277.00 C191.12,278.27 190.42,279.70 189.50,280.80 C188.58,281.90 187.33,282.87 186.00,283.60 C184.67,284.33 182.37,285.05 181.50,285.20 C180.63,285.35 180.30,285.03 180.80,284.50 C181.30,283.97 183.42,282.95 184.50,282.00 C185.58,281.05 186.58,279.88 187.30,278.80 C188.02,277.72 188.47,276.58 188.80,275.50 C189.13,274.42 188.80,272.68 189.30,272.30Z" fill="#111" />
<path d="M117.00,271.52 C118.70,271.52 119.83,269.32 122.10,268.65 C124.37,267.98 127.77,267.40 130.60,267.50 C133.43,267.60 136.27,268.08 139.10,269.23 C141.93,270.38 145.05,272.10 147.60,274.40 C150.15,276.70 152.63,280.05 154.40,283.02 C156.17,286.00 157.38,289.54 158.22,292.23 C159.07,294.91 159.57,296.63 159.50,299.12 C159.43,301.62 158.79,304.68 157.80,307.18 C156.81,309.67 155.39,312.06 153.55,314.07 C151.71,316.09 149.30,317.81 146.75,319.25 C144.20,320.69 141.08,321.84 138.25,322.70 C135.42,323.56 132.37,324.33 129.75,324.43 C127.13,324.52 124.65,323.85 122.53,323.27 C120.40,322.70 118.84,320.98 117.00,320.98 C115.16,320.98 113.60,322.70 111.47,323.27 C109.35,323.85 106.87,324.52 104.25,324.43 C101.63,324.33 98.58,323.56 95.75,322.70 C92.92,321.84 89.80,320.69 87.25,319.25 C84.70,317.81 82.29,316.09 80.45,314.07 C78.61,312.06 77.19,309.67 76.20,307.18 C75.21,304.68 74.57,301.62 74.50,299.12 C74.43,296.63 74.93,294.91 75.78,292.23 C76.62,289.54 77.83,286.00 79.60,283.02 C81.37,280.05 83.85,276.70 86.40,274.40 C88.95,272.10 92.07,270.38 94.90,269.23 C97.73,268.08 100.57,267.60 103.40,267.50 C106.23,267.40 109.63,267.98 111.90,268.65 C114.17,269.32 115.30,271.52 117.00,271.52Z" fill="#fff" stroke="#8a8a8a" stroke-width="0.55"/>
<path d="M117.00,276.58 C117.71,276.18 119.38,274.73 121.28,274.17 C123.19,273.61 126.04,273.12 128.42,273.20 C130.80,273.28 133.18,273.69 135.56,274.65 C137.94,275.62 140.56,277.07 142.70,279.00 C144.85,280.93 146.93,283.75 148.42,286.25 C149.90,288.74 150.91,291.72 151.63,293.97 C152.34,296.23 152.76,297.68 152.70,299.77 C152.64,301.86 152.10,304.44 151.27,306.53 C150.44,308.62 148.30,311.36 147.70,312.33" fill="none" stroke="#a4a4a4" stroke-width="0.45"/>
<path d="M86.30,312.33 C85.70,311.36 83.56,308.62 82.73,306.53 C81.90,304.44 81.36,301.86 81.30,299.77 C81.24,297.68 81.66,296.23 82.37,293.97 C83.09,291.72 84.10,288.74 85.58,286.25 C87.07,283.75 89.15,280.93 91.30,279.00 C93.44,277.07 96.06,275.62 98.44,274.65 C100.82,273.69 103.20,273.28 105.58,273.20 C107.96,273.12 110.81,273.61 112.72,274.17 C114.62,274.73 116.29,276.18 117.00,276.58" fill="none" stroke="#a4a4a4" stroke-width="0.45"/>
<path d="M117.00,280.38 C117.61,280.03 119.04,278.79 120.67,278.31 C122.30,277.83 124.75,277.41 126.79,277.48 C128.83,277.55 130.87,277.90 132.91,278.72 C134.95,279.55 137.20,280.79 139.03,282.45 C140.87,284.11 142.65,286.52 143.93,288.66 C145.20,290.80 146.07,293.35 146.68,295.28 C147.29,297.22 147.65,298.46 147.60,300.25 C147.55,302.05 147.09,304.25 146.38,306.05 C145.66,307.84 143.83,310.19 143.32,311.02" fill="none" stroke="#999999" stroke-width="0.5"/>
<path d="M90.68,311.02 C90.17,310.19 88.34,307.84 87.62,306.05 C86.91,304.25 86.45,302.05 86.40,300.25 C86.35,298.46 86.71,297.22 87.32,295.28 C87.93,293.35 88.80,290.80 90.07,288.66 C91.35,286.52 93.13,284.11 94.97,282.45 C96.80,280.79 99.05,279.55 101.09,278.72 C103.13,277.90 105.17,277.55 107.21,277.48 C109.25,277.41 111.70,277.83 113.33,278.31 C114.96,278.79 116.39,280.03 117.00,280.38" fill="none" stroke="#999999" stroke-width="0.5"/>
<path d="M117.00,281.64 C117.58,281.32 118.93,280.15 120.47,279.69 C122.01,279.23 124.32,278.84 126.25,278.91 C128.17,278.97 130.10,279.30 132.03,280.08 C133.95,280.86 136.07,282.04 137.81,283.60 C139.54,285.16 141.23,287.44 142.43,289.46 C143.64,291.49 144.46,293.90 145.03,295.72 C145.61,297.55 145.95,298.72 145.90,300.41 C145.85,302.11 145.42,304.19 144.74,305.89 C144.07,307.58 142.34,309.80 141.85,310.58" fill="none" stroke="#b4b4b4" stroke-width="0.4"/>
<path d="M92.15,310.58 C91.66,309.80 89.93,307.58 89.26,305.89 C88.58,304.19 88.15,302.11 88.10,300.41 C88.05,298.72 88.39,297.55 88.97,295.72 C89.55,293.90 90.36,291.49 91.57,289.46 C92.77,287.44 94.46,285.16 96.19,283.60 C97.93,282.04 100.05,280.86 101.97,280.08 C103.90,279.30 105.83,278.97 107.75,278.91 C109.68,278.84 111.99,279.23 113.53,279.69 C115.07,280.15 116.42,281.32 117.00,281.64" fill="none" stroke="#b4b4b4" stroke-width="0.4"/>
<line x1="121.2" y1="269.2" x2="120.6" y2="274.7" stroke="#b2b2b2" stroke-width="0.35" />
<line x1="127.6" y1="267.8" x2="125.9" y2="273.4" stroke="#b2b2b2" stroke-width="0.35" />
<line x1="134.8" y1="268.1" x2="132.0" y2="273.7" stroke="#b2b2b2" stroke-width="0.35" />
<line x1="141.7" y1="270.4" x2="137.7" y2="275.6" stroke="#b2b2b2" stroke-width="0.35" />
<line x1="147.6" y1="274.4" x2="142.7" y2="279.0" stroke="#b2b2b2" stroke-width="0.35" />
<line x1="152.7" y1="280.1" x2="147.0" y2="283.8" stroke="#b2b2b2" stroke-width="0.35" />
<line x1="156.5" y1="287.6" x2="150.2" y2="290.1" stroke="#b2b2b2" stroke-width="0.35" />
<line x1="159.1" y1="296.2" x2="152.3" y2="297.4" stroke="#b2b2b2" stroke-width="0.35" />
<line x1="158.2" y1="305.4" x2="151.6" y2="305.1" stroke="#b2b2b2" stroke-width="0.35" />
<line x1="154.4" y1="312.9" x2="148.4" y2="311.4" stroke="#b2b2b2" stroke-width="0.35" />
<rect x="136.4" y="271.0" width="1.2" height="0.45" fill="#9c9c9c" />
<rect x="152.7" y="307.6" width="0.9" height="0.45" fill="#9c9c9c" />
<rect x="127.8" y="271.5" width="1.2" height="0.45" fill="#9c9c9c" />
<rect x="127.0" y="270.6" width="0.8" height="0.45" fill="#9c9c9c" />
<rect x="138.4" y="272.9" width="1.3" height="0.45" fill="#9c9c9c" />
<rect x="152.8" y="293.4" width="0.9" height="0.45" fill="#9c9c9c" />
<rect x="128.6" y="269.2" width="1.3" height="0.45" fill="#9c9c9c" />
<rect x="156.3" y="305.1" width="1.2" height="0.45" fill="#9c9c9c" />
<rect x="151.4" y="313.7" width="0.9" height="0.45" fill="#9c9c9c" />
<rect x="153.9" y="307.8" width="1.2" height="0.45" fill="#9c9c9c" />
<rect x="153.2" y="289.6" width="1.0" height="0.45" fill="#9c9c9c" />
<rect x="146.8" y="280.1" width="0.8" height="0.45" fill="#9c9c9c" />
<rect x="156.0" y="306.0" width="1.4" height="0.45" fill="#9c9c9c" />
<rect x="156.0" y="297.6" width="1.2" height="0.45" fill="#9c9c9c" />
<rect x="127.5" y="270.0" width="1.0" height="0.45" fill="#9c9c9c" />
<rect x="129.8" y="271.5" width="1.1" height="0.45" fill="#9c9c9c" />
<rect x="135.5" y="271.7" width="1.1" height="0.45" fill="#9c9c9c" />
<rect x="144.4" y="278.2" width="1.0" height="0.45" fill="#9c9c9c" />
<rect x="133.9" y="272.2" width="0.8" height="0.45" fill="#9c9c9c" />
<rect x="142.3" y="277.0" width="1.2" height="0.45" fill="#9c9c9c" />
<rect x="149.7" y="313.5" width="1.2" height="0.45" fill="#9c9c9c" />
<rect x="149.3" y="312.1" width="0.8" height="0.45" fill="#9c9c9c" />
<line x1="112.8" y1="269.2" x2="113.4" y2="274.7" stroke="#b2b2b2" stroke-width="0.35" />
<line x1="106.4" y1="267.8" x2="108.1" y2="273.4" stroke="#b2b2b2" stroke-width="0.35" />
<line x1="99.2" y1="268.1" x2="102.0" y2="273.7" stroke="#b2b2b2" stroke-width="0.35" />
<line x1="92.3" y1="270.4" x2="96.3" y2="275.6" stroke="#b2b2b2" stroke-width="0.35" />
<line x1="86.4" y1="274.4" x2="91.3" y2="279.0" stroke="#b2b2b2" stroke-width="0.35" />
<line x1="81.3" y1="280.1" x2="87.0" y2="283.8" stroke="#b2b2b2" stroke-width="0.35" />
<line x1="77.5" y1="287.6" x2="83.8" y2="290.1" stroke="#b2b2b2" stroke-width="0.35" />
<line x1="74.9" y1="296.2" x2="81.7" y2="297.4" stroke="#b2b2b2" stroke-width="0.35" />
<line x1="75.8" y1="305.4" x2="82.4" y2="305.1" stroke="#b2b2b2" stroke-width="0.35" />
<line x1="79.6" y1="312.9" x2="85.6" y2="311.4" stroke="#b2b2b2" stroke-width="0.35" />
<rect x="77.7" y="305.1" width="1.1" height="0.45" fill="#9c9c9c" />
<rect x="105.1" y="270.7" width="1.3" height="0.45" fill="#9c9c9c" />
<rect x="80.1" y="310.1" width="0.8" height="0.45" fill="#9c9c9c" />
<rect x="80.7" y="307.9" width="1.2" height="0.45" fill="#9c9c9c" />
<rect x="106.0" y="269.0" width="1.1" height="0.45" fill="#9c9c9c" />
<rect x="79.1" y="299.6" width="1.1" height="0.45" fill="#9c9c9c" />
<rect x="79.7" y="290.7" width="1.0" height="0.45" fill="#9c9c9c" />
<rect x="78.7" y="299.9" width="0.9" height="0.45" fill="#9c9c9c" />
<rect x="104.4" y="269.7" width="0.8" height="0.45" fill="#9c9c9c" />
<rect x="101.1" y="272.7" width="1.2" height="0.45" fill="#9c9c9c" />
<rect x="80.6" y="288.8" width="0.7" height="0.45" fill="#9c9c9c" />
<rect x="86.5" y="280.7" width="0.8" height="0.45" fill="#9c9c9c" />
<rect x="114.4" y="271.0" width="0.8" height="0.45" fill="#9c9c9c" />
<rect x="95.6" y="273.7" width="1.1" height="0.45" fill="#9c9c9c" />
<rect x="110.8" y="271.3" width="1.0" height="0.45" fill="#9c9c9c" />
<rect x="81.5" y="306.7" width="0.9" height="0.45" fill="#9c9c9c" />
<rect x="81.0" y="283.4" width="1.1" height="0.45" fill="#9c9c9c" />
<rect x="83.4" y="282.4" width="0.9" height="0.45" fill="#9c9c9c" />
<rect x="113.3" y="272.0" width="1.3" height="0.45" fill="#9c9c9c" />
<rect x="79.1" y="300.6" width="1.2" height="0.45" fill="#9c9c9c" />
<rect x="81.0" y="307.6" width="1.1" height="0.45" fill="#9c9c9c" />
<rect x="91.9" y="276.0" width="0.9" height="0.45" fill="#9c9c9c" />
<ellipse cx="132.3" cy="299.7" rx="9.3" ry="11.5" fill="none" stroke="#b8b8b8" stroke-width="0.35"/>
<circle cx="133.7" cy="305.6" r="0.5" fill="none" stroke="#a8a8a8" stroke-width="0.3"/>
<circle cx="137.5" cy="301.2" r="0.5" fill="none" stroke="#a8a8a8" stroke-width="0.3"/>
<circle cx="138.6" cy="304.4" r="0.5" fill="none" stroke="#a8a8a8" stroke-width="0.3"/>
<circle cx="131.9" cy="299.3" r="0.5" fill="none" stroke="#a8a8a8" stroke-width="0.3"/>
<circle cx="132.8" cy="295.2" r="0.5" fill="none" stroke="#a8a8a8" stroke-width="0.3"/>
<circle cx="126.0" cy="300.6" r="0.5" fill="none" stroke="#a8a8a8" stroke-width="0.3"/>
<circle cx="130.0" cy="304.5" r="0.5" fill="none" stroke="#a8a8a8" stroke-width="0.3"/>
<circle cx="129.4" cy="301.2" r="0.5" fill="none" stroke="#a8a8a8" stroke-width="0.3"/>
<circle cx="134.2" cy="297.1" r="0.5" fill="none" stroke="#a8a8a8" stroke-width="0.3"/>
<circle cx="134.1" cy="295.4" r="0.5" fill="none" stroke="#a8a8a8" stroke-width="0.3"/>
<circle cx="130.6" cy="305.8" r="0.5" fill="none" stroke="#a8a8a8" stroke-width="0.3"/>
<circle cx="135.3" cy="300.5" r="0.5" fill="none" stroke="#a8a8a8" stroke-width="0.3"/>
<circle cx="128.7" cy="305.0" r="0.5" fill="none" stroke="#a8a8a8" stroke-width="0.3"/>
<circle cx="138.3" cy="292.5" r="0.5" fill="none" stroke="#a8a8a8" stroke-width="0.3"/>
<circle cx="138.3" cy="301.7" r="0.5" fill="none" stroke="#a8a8a8" stroke-width="0.3"/>
<circle cx="137.5" cy="306.4" r="0.5" fill="none" stroke="#a8a8a8" stroke-width="0.3"/>
<circle cx="128.8" cy="308.5" r="0.5" fill="none" stroke="#a8a8a8" stroke-width="0.3"/>
<circle cx="129.4" cy="298.7" r="0.5" fill="none" stroke="#a8a8a8" stroke-width="0.3"/>
<circle cx="136.5" cy="299.9" r="0.5" fill="none" stroke="#a8a8a8" stroke-width="0.3"/>
<circle cx="134.5" cy="296.7" r="0.5" fill="none" stroke="#a8a8a8" stroke-width="0.3"/>
<circle cx="127.2" cy="300.5" r="0.5" fill="none" stroke="#a8a8a8" stroke-width="0.3"/>
<circle cx="128.0" cy="307.4" r="0.5" fill="none" stroke="#a8a8a8" stroke-width="0.3"/>
<circle cx="133.9" cy="308.2" r="0.5" fill="none" stroke="#a8a8a8" stroke-width="0.3"/>
<circle cx="128.2" cy="291.0" r="0.5" fill="none" stroke="#a8a8a8" stroke-width="0.3"/>
<circle cx="124.2" cy="298.5" r="0.5" fill="none" stroke="#a8a8a8" stroke-width="0.3"/>
<circle cx="126.3" cy="302.6" r="0.5" fill="none" stroke="#a8a8a8" stroke-width="0.3"/>
<path d="M119.1,316.4 Q138.2,323.3 150.2,312.4" fill="none" stroke="#b0b0b0" stroke-width="0.35"/>
<path d="M122.1,284.8 Q125.5,307.8 121.2,318.1" fill="none" stroke="#b8b8b8" stroke-width="0.35"/>
<path d="M142.5,310.6 Q148.9,299.1 145.1,289.4" fill="none" stroke="#b8b8b8" stroke-width="0.35"/>
<ellipse cx="101.7" cy="299.7" rx="9.3" ry="11.5" fill="none" stroke="#b8b8b8" stroke-width="0.35"/>
<circle cx="96.0" cy="293.2" r="0.5" fill="none" stroke="#a8a8a8" stroke-width="0.3"/>
<circle cx="104.0" cy="297.6" r="0.5" fill="none" stroke="#a8a8a8" stroke-width="0.3"/>
<circle cx="105.7" cy="305.4" r="0.5" fill="none" stroke="#a8a8a8" stroke-width="0.3"/>
<circle cx="104.1" cy="292.7" r="0.5" fill="none" stroke="#a8a8a8" stroke-width="0.3"/>
<circle cx="99.2" cy="309.4" r="0.5" fill="none" stroke="#a8a8a8" stroke-width="0.3"/>
<circle cx="101.0" cy="302.6" r="0.5" fill="none" stroke="#a8a8a8" stroke-width="0.3"/>
<circle cx="103.1" cy="300.3" r="0.5" fill="none" stroke="#a8a8a8" stroke-width="0.3"/>
<circle cx="101.3" cy="296.3" r="0.5" fill="none" stroke="#a8a8a8" stroke-width="0.3"/>
<circle cx="100.0" cy="290.3" r="0.5" fill="none" stroke="#a8a8a8" stroke-width="0.3"/>
<circle cx="109.3" cy="299.6" r="0.5" fill="none" stroke="#a8a8a8" stroke-width="0.3"/>
<circle cx="95.7" cy="303.4" r="0.5" fill="none" stroke="#a8a8a8" stroke-width="0.3"/>
<circle cx="105.3" cy="292.1" r="0.5" fill="none" stroke="#a8a8a8" stroke-width="0.3"/>
<circle cx="99.8" cy="308.4" r="0.5" fill="none" stroke="#a8a8a8" stroke-width="0.3"/>
<circle cx="105.3" cy="303.3" r="0.5" fill="none" stroke="#a8a8a8" stroke-width="0.3"/>
<circle cx="107.5" cy="299.5" r="0.5" fill="none" stroke="#a8a8a8" stroke-width="0.3"/>
<circle cx="100.9" cy="308.8" r="0.5" fill="none" stroke="#a8a8a8" stroke-width="0.3"/>
<circle cx="101.2" cy="299.9" r="0.5" fill="none" stroke="#a8a8a8" stroke-width="0.3"/>
<circle cx="106.0" cy="300.7" r="0.5" fill="none" stroke="#a8a8a8" stroke-width="0.3"/>
<circle cx="97.7" cy="308.4" r="0.5" fill="none" stroke="#a8a8a8" stroke-width="0.3"/>
<circle cx="101.8" cy="309.2" r="0.5" fill="none" stroke="#a8a8a8" stroke-width="0.3"/>
<circle cx="105.0" cy="294.4" r="0.5" fill="none" stroke="#a8a8a8" stroke-width="0.3"/>
<circle cx="109.1" cy="299.3" r="0.5" fill="none" stroke="#a8a8a8" stroke-width="0.3"/>
<circle cx="97.4" cy="300.2" r="0.5" fill="none" stroke="#a8a8a8" stroke-width="0.3"/>
<circle cx="93.9" cy="302.1" r="0.5" fill="none" stroke="#a8a8a8" stroke-width="0.3"/>
<circle cx="98.1" cy="298.7" r="0.5" fill="none" stroke="#a8a8a8" stroke-width="0.3"/>
<circle cx="97.5" cy="304.7" r="0.5" fill="none" stroke="#a8a8a8" stroke-width="0.3"/>
<path d="M114.9,316.4 Q95.8,323.3 83.8,312.4" fill="none" stroke="#b0b0b0" stroke-width="0.35"/>
<path d="M111.9,284.8 Q108.5,307.8 112.8,318.1" fill="none" stroke="#b8b8b8" stroke-width="0.35"/>
<path d="M91.5,310.6 Q85.1,299.1 89.0,289.4" fill="none" stroke="#b8b8b8" stroke-width="0.35"/>
<line x1="117.0" y1="271.5" x2="117.0" y2="321.0" stroke="#bcbcbc" stroke-width="0.35" />
<rect x="100.7" y="303.3" width="0.7" height="0.45" fill="#a0a0a0" />
<rect x="133.9" y="288.6" width="0.8" height="0.45" fill="#a0a0a0" />
<rect x="121.7" y="293.4" width="1.4" height="0.45" fill="#a0a0a0" />
<rect x="116.8" y="301.4" width="1.4" height="0.45" fill="#a0a0a0" />
<rect x="101.9" y="309.7" width="1.2" height="0.45" fill="#a0a0a0" />
<rect x="113.2" y="317.7" width="0.7" height="0.45" fill="#a0a0a0" />
<rect x="136.1" y="287.2" width="1.4" height="0.45" fill="#a0a0a0" />
<rect x="98.8" y="283.9" width="1.1" height="0.45" fill="#a0a0a0" />
<rect x="139.4" y="291.5" width="1.1" height="0.45" fill="#a0a0a0" />
<rect x="122.7" y="291.0" width="1.1" height="0.45" fill="#a0a0a0" />
<rect x="91.2" y="298.7" width="1.3" height="0.45" fill="#a0a0a0" />
<rect x="108.6" y="290.1" width="0.7" height="0.45" fill="#a0a0a0" />
<rect x="127.6" y="297.8" width="1.4" height="0.45" fill="#a0a0a0" />
<rect x="129.7" y="285.6" width="1.4" height="0.45" fill="#a0a0a0" />
<rect x="139.8" y="312.4" width="1.4" height="0.45" fill="#a0a0a0" />
<rect x="126.6" y="308.8" width="1.2" height="0.45" fill="#a0a0a0" />
<rect x="121.8" y="291.5" width="0.8" height="0.45" fill="#a0a0a0" />
<rect x="128.9" y="304.2" width="0.7" height="0.45" fill="#a0a0a0" />
<rect x="124.5" y="304.7" width="1.1" height="0.45" fill="#a0a0a0" />
<rect x="131.5" y="314.6" width="1.0" height="0.45" fill="#a0a0a0" />
<rect x="133.6" y="300.5" width="1.2" height="0.45" fill="#a0a0a0" />
<rect x="112.5" y="316.7" width="1.1" height="0.45" fill="#a0a0a0" />
<rect x="140.8" y="294.5" width="1.2" height="0.45" fill="#a0a0a0" />
<rect x="138.7" y="307.4" width="1.0" height="0.45" fill="#a0a0a0" />
<rect x="94.7" y="299.8" width="1.0" height="0.45" fill="#a0a0a0" />
<rect x="133.6" y="311.2" width="1.5" height="0.45" fill="#a0a0a0" />
<rect x="114.2" y="297.2" width="1.2" height="0.45" fill="#a0a0a0" />
<rect x="130.2" y="284.9" width="0.9" height="0.45" fill="#a0a0a0" />
<rect x="98.3" y="294.0" width="0.9" height="0.45" fill="#a0a0a0" />
<rect x="141.7" y="289.6" width="1.4" height="0.45" fill="#a0a0a0" />
<rect x="106.2" y="289.5" width="1.5" height="0.45" fill="#a0a0a0" />
<rect x="95.3" y="286.1" width="0.8" height="0.45" fill="#a0a0a0" />
<rect x="94.2" y="296.3" width="0.9" height="0.45" fill="#a0a0a0" />
<rect x="99.0" y="282.5" width="1.3" height="0.45" fill="#a0a0a0" />
<rect x="93.2" y="290.5" width="1.2" height="0.45" fill="#a0a0a0" />
<rect x="137.2" y="306.5" width="1.3" height="0.45" fill="#a0a0a0" />
<rect x="127.6" y="311.7" width="1.4" height="0.45" fill="#a0a0a0" />
<rect x="98.8" y="283.9" width="1.2" height="0.45" fill="#a0a0a0" />
<rect x="118.0" y="301.3" width="1.3" height="0.45" fill="#a0a0a0" />
<rect x="99.8" y="308.3" width="1.0" height="0.45" fill="#a0a0a0" />
<rect x="112.9" y="291.0" width="0.9" height="0.45" fill="#a0a0a0" />
<rect x="121.2" y="302.6" width="1.4" height="0.45" fill="#a0a0a0" />
<rect x="105.4" y="308.6" width="0.8" height="0.45" fill="#a0a0a0" />
<rect x="125.0" y="287.9" width="1.4" height="0.45" fill="#a0a0a0" />
<rect x="141.5" y="291.4" width="1.3" height="0.45" fill="#a0a0a0" />
<path d="M134.30,269.80 C135.25,269.02 138.05,269.93 140.00,270.30 C141.95,270.67 144.17,271.22 146.00,272.00 C147.83,272.78 149.53,273.83 151.00,275.00 C152.47,276.17 153.73,277.50 154.80,279.00 C155.87,280.50 156.73,282.17 157.40,284.00 C158.07,285.83 158.48,288.00 158.80,290.00 C159.12,292.00 159.27,294.17 159.30,296.00 C159.33,297.83 159.17,299.62 159.00,301.00 C158.83,302.38 158.80,303.52 158.30,304.30 C157.80,305.08 156.90,305.92 156.00,305.70 C155.10,305.48 153.83,303.85 152.90,303.00 C151.97,302.15 151.55,301.77 150.40,300.60 C149.25,299.43 147.57,297.68 146.00,296.00 C144.43,294.32 142.42,292.08 141.00,290.50 C139.58,288.92 138.52,288.13 137.50,286.50 C136.48,284.87 135.43,282.62 134.90,280.70 C134.37,278.78 134.40,276.82 134.30,275.00 C134.20,273.18 133.35,270.58 134.30,269.80Z" fill="#2e3192" />
<path d="M135.30,271.10 C136.08,270.33 138.28,271.08 140.00,271.40 C141.72,271.72 143.87,272.23 145.60,273.00 C147.33,273.77 149.00,274.83 150.40,276.00 C151.80,277.17 152.98,278.50 154.00,280.00 C155.02,281.50 155.87,283.17 156.50,285.00 C157.13,286.83 157.52,289.08 157.80,291.00 C158.08,292.92 158.20,294.83 158.20,296.50 C158.20,298.17 158.12,299.72 157.80,301.00 C157.48,302.28 157.18,304.07 156.30,304.20 C155.42,304.33 154.05,303.08 152.50,301.80 C150.95,300.52 148.83,298.30 147.00,296.50 C145.17,294.70 143.00,292.50 141.50,291.00 C140.00,289.50 138.98,289.08 138.00,287.50 C137.02,285.92 136.05,283.42 135.60,281.50 C135.15,279.58 135.35,277.73 135.30,276.00 C135.25,274.27 134.52,271.87 135.30,271.10Z" fill="#00aeef" />
<path d="M136.60,271.60 C137.17,270.92 138.55,271.57 140.00,271.90 C141.45,272.23 143.63,272.82 145.30,273.60 C146.97,274.38 148.63,275.45 150.00,276.60 C151.37,277.75 152.50,279.02 153.50,280.50 C154.50,281.98 155.38,283.75 156.00,285.50 C156.62,287.25 156.95,289.42 157.20,291.00 C157.45,292.58 157.57,293.70 157.50,295.00 C157.43,296.30 157.88,298.38 156.80,298.80 C155.72,299.22 152.80,298.30 151.00,297.50 C149.20,296.70 147.53,295.17 146.00,294.00 C144.47,292.83 143.00,291.63 141.80,290.50 C140.60,289.37 139.62,288.70 138.80,287.20 C137.98,285.70 137.27,283.37 136.90,281.50 C136.53,279.63 136.65,277.65 136.60,276.00 C136.55,274.35 136.03,272.28 136.60,271.60Z" fill="#00a651" />
<path d="M141.60,272.80 C142.18,272.12 143.67,273.20 145.00,273.90 C146.33,274.60 148.27,275.82 149.60,277.00 C150.93,278.18 152.02,279.50 153.00,281.00 C153.98,282.50 154.90,284.25 155.50,286.00 C156.10,287.75 157.18,290.53 156.60,291.50 C156.02,292.47 153.60,291.97 152.00,291.80 C150.40,291.63 148.42,291.13 147.00,290.50 C145.58,289.87 144.37,289.25 143.50,288.00 C142.63,286.75 142.13,284.67 141.80,283.00 C141.47,281.33 141.53,279.70 141.50,278.00 C141.47,276.30 141.02,273.48 141.60,272.80Z" fill="#8dc63f" />
<path d="M115.80,284.50 C116.13,283.17 117.30,281.55 118.50,280.50 C119.70,279.45 121.50,278.70 123.00,278.20 C124.50,277.70 126.00,277.43 127.50,277.50 C129.00,277.57 130.75,277.93 132.00,278.60 C133.25,279.27 134.30,280.35 135.00,281.50 C135.70,282.65 136.28,284.37 136.20,285.50 C136.12,286.63 135.53,287.78 134.50,288.30 C133.47,288.82 131.58,288.43 130.00,288.60 C128.42,288.77 126.67,289.07 125.00,289.30 C123.33,289.53 121.42,290.13 120.00,290.00 C118.58,289.87 117.20,289.42 116.50,288.50 C115.80,287.58 115.47,285.83 115.80,284.50Z" fill="#2e3192" />
<path d="M134.30,288.70 C134.85,287.78 137.05,288.70 138.50,289.50 C139.95,290.30 141.67,292.08 143.00,293.50 C144.33,294.92 145.57,296.42 146.50,298.00 C147.43,299.58 148.30,301.42 148.60,303.00 C148.90,304.58 148.73,306.40 148.30,307.50 C147.87,308.60 146.97,309.43 146.00,309.60 C145.03,309.77 143.58,309.18 142.50,308.50 C141.42,307.82 140.45,306.83 139.50,305.50 C138.55,304.17 137.52,302.25 136.80,300.50 C136.08,298.75 135.62,296.97 135.20,295.00 C134.78,293.03 133.75,289.62 134.30,288.70Z" fill="#2e3192" />
<path d="M115.2,284.8 C116.5,284 117.5,285 117.5,287 L117.2,291.5 C116.2,292 115.3,291 115,289.5 Z" fill="#111"/>
<path d="M133.6,282.5 C135.5,283 137.5,286 139.3,289.5 L139.2,292 C137.5,290.5 135.5,288.5 133.8,286.5 Z" fill="#111"/>
<path d="M100.80,280.60 C100.30,280.76 98.98,281.67 98.10,282.56 C97.22,283.45 96.07,284.66 95.52,285.92 C94.97,287.18 94.78,288.67 94.80,290.12 C94.82,291.57 95.26,294.32 95.64,294.60 C96.02,294.88 96.67,292.92 97.08,291.80 C97.49,290.68 97.68,289.16 98.10,287.88 C98.52,286.60 99.10,285.15 99.60,284.10 C100.10,283.05 100.90,282.16 101.10,281.58 C101.30,281.00 101.30,280.44 100.80,280.60Z" fill="#111"/>
<path d="M74.40,300.57 C75.94,300.57 76.97,298.62 79.02,298.02 C81.07,297.42 84.15,296.92 86.72,297.00 C89.29,297.08 91.85,297.51 94.42,298.53 C96.99,299.55 99.81,301.08 102.12,303.12 C104.43,305.16 106.68,308.13 108.28,310.77 C109.88,313.40 110.98,316.55 111.75,318.93 C112.52,321.31 112.96,322.84 112.90,325.05 C112.84,327.26 112.26,329.98 111.36,332.19 C110.46,334.40 109.18,336.52 107.51,338.31 C105.84,340.10 103.66,341.62 101.35,342.90 C99.04,344.17 96.22,345.19 93.65,345.96 C91.08,346.72 88.32,347.40 85.95,347.49 C83.58,347.58 81.33,346.98 79.41,346.47 C77.48,345.96 76.07,344.43 74.40,344.43 C72.73,344.43 71.32,345.96 69.40,346.47 C67.47,346.98 65.22,347.58 62.85,347.49 C60.48,347.40 57.72,346.72 55.15,345.96 C52.58,345.19 49.76,344.17 47.45,342.90 C45.14,341.62 42.96,340.10 41.29,338.31 C39.62,336.52 38.34,334.40 37.44,332.19 C36.54,329.98 35.96,327.26 35.90,325.05 C35.84,322.84 36.29,321.31 37.06,318.93 C37.83,316.55 38.92,313.40 40.52,310.77 C42.12,308.13 44.37,305.16 46.68,303.12 C48.99,301.08 51.81,299.55 54.38,298.53 C56.95,297.51 59.51,297.08 62.08,297.00 C64.65,296.92 67.73,297.42 69.78,298.02 C71.83,298.62 72.86,300.57 74.40,300.57Z" fill="#fff" stroke="#8a8a8a" stroke-width="0.55"/>
<path d="M74.40,305.06 C75.05,304.70 76.56,303.42 78.28,302.92 C80.01,302.42 82.59,301.99 84.75,302.06 C86.90,302.13 89.06,302.49 91.22,303.34 C93.37,304.20 95.74,305.49 97.68,307.20 C99.63,308.91 101.51,311.41 102.86,313.63 C104.21,315.84 105.12,318.48 105.77,320.48 C106.42,322.48 106.79,323.76 106.74,325.62 C106.69,327.48 106.20,329.76 105.45,331.62 C104.69,333.48 102.75,335.90 102.21,336.76" fill="none" stroke="#a4a4a4" stroke-width="0.45"/>
<path d="M46.59,336.76 C46.05,335.90 44.11,333.48 43.35,331.62 C42.60,329.76 42.11,327.48 42.06,325.62 C42.01,323.76 42.38,322.48 43.03,320.48 C43.68,318.48 44.59,315.84 45.94,313.63 C47.29,311.41 49.17,308.91 51.12,307.20 C53.06,305.49 55.43,304.20 57.58,303.34 C59.74,302.49 61.90,302.13 64.05,302.06 C66.21,301.99 68.79,302.42 70.52,302.92 C72.24,303.42 73.75,304.70 74.40,305.06" fill="none" stroke="#a4a4a4" stroke-width="0.45"/>
<path d="M74.40,308.42 C74.95,308.12 76.25,307.02 77.73,306.59 C79.20,306.16 81.42,305.79 83.27,305.85 C85.12,305.91 86.97,306.22 88.81,306.96 C90.66,307.69 92.70,308.79 94.36,310.26 C96.02,311.73 97.64,313.87 98.79,315.77 C99.95,317.67 100.73,319.93 101.29,321.64 C101.84,323.36 102.17,324.46 102.12,326.05 C102.07,327.64 101.66,329.60 101.01,331.19 C100.36,332.78 98.70,334.86 98.24,335.60" fill="none" stroke="#999999" stroke-width="0.5"/>
<path d="M50.56,335.60 C50.10,334.86 48.44,332.78 47.79,331.19 C47.14,329.60 46.73,327.64 46.68,326.05 C46.63,324.46 46.96,323.36 47.51,321.64 C48.07,319.93 48.85,317.67 50.01,315.77 C51.16,313.87 52.78,311.73 54.44,310.26 C56.10,308.79 58.14,307.69 59.99,306.96 C61.83,306.22 63.68,305.91 65.53,305.85 C67.38,305.79 69.60,306.16 71.07,306.59 C72.55,307.02 73.85,308.12 74.40,308.42" fill="none" stroke="#999999" stroke-width="0.5"/>
<path d="M74.40,309.55 C74.92,309.26 76.15,308.22 77.54,307.81 C78.94,307.41 81.03,307.06 82.78,307.12 C84.52,307.18 86.27,307.47 88.01,308.16 C89.76,308.85 91.68,309.89 93.25,311.28 C94.82,312.67 96.35,314.69 97.44,316.48 C98.53,318.27 99.27,320.41 99.79,322.03 C100.32,323.65 100.62,324.69 100.58,326.19 C100.54,327.70 100.14,329.54 99.53,331.05 C98.92,332.55 97.35,334.52 96.91,335.21" fill="none" stroke="#b4b4b4" stroke-width="0.4"/>
<path d="M51.89,335.21 C51.45,334.52 49.88,332.55 49.27,331.05 C48.66,329.54 48.26,327.70 48.22,326.19 C48.18,324.69 48.48,323.65 49.01,322.03 C49.53,320.41 50.27,318.27 51.36,316.48 C52.45,314.69 53.98,312.67 55.55,311.28 C57.12,309.89 59.04,308.85 60.79,308.16 C62.53,307.47 64.28,307.18 66.02,307.12 C67.77,307.06 69.86,307.41 71.26,307.81 C72.65,308.22 73.88,309.26 74.40,309.55" fill="none" stroke="#b4b4b4" stroke-width="0.4"/>
<line x1="78.2" y1="298.5" x2="77.6" y2="303.3" stroke="#b2b2b2" stroke-width="0.35" />
<line x1="84.0" y1="297.3" x2="82.5" y2="302.3" stroke="#b2b2b2" stroke-width="0.35" />
<line x1="90.6" y1="297.5" x2="88.0" y2="302.5" stroke="#b2b2b2" stroke-width="0.35" />
<line x1="96.7" y1="299.6" x2="93.2" y2="304.2" stroke="#b2b2b2" stroke-width="0.35" />
<line x1="102.1" y1="303.1" x2="97.7" y2="307.2" stroke="#b2b2b2" stroke-width="0.35" />
<line x1="106.7" y1="308.2" x2="101.6" y2="311.5" stroke="#b2b2b2" stroke-width="0.35" />
<line x1="110.2" y1="314.9" x2="104.5" y2="317.1" stroke="#b2b2b2" stroke-width="0.35" />
<line x1="112.5" y1="322.5" x2="106.4" y2="323.5" stroke="#b2b2b2" stroke-width="0.35" />
<line x1="111.7" y1="330.7" x2="105.8" y2="330.3" stroke="#b2b2b2" stroke-width="0.35" />
<line x1="108.3" y1="337.3" x2="102.9" y2="335.9" stroke="#b2b2b2" stroke-width="0.35" />
<rect x="104.8" y="310.3" width="1.2" height="0.45" fill="#9c9c9c" />
<rect x="83.7" y="301.3" width="1.0" height="0.45" fill="#9c9c9c" />
<rect x="93.2" y="300.0" width="1.2" height="0.45" fill="#9c9c9c" />
<rect x="108.7" y="319.0" width="1.2" height="0.45" fill="#9c9c9c" />
<rect x="84.3" y="299.9" width="0.8" height="0.45" fill="#9c9c9c" />
<rect x="104.6" y="335.3" width="1.3" height="0.45" fill="#9c9c9c" />
<rect x="80.0" y="299.7" width="0.9" height="0.45" fill="#9c9c9c" />
<rect x="101.7" y="305.3" width="0.7" height="0.45" fill="#9c9c9c" />
<rect x="79.2" y="299.2" width="1.1" height="0.45" fill="#9c9c9c" />
<rect x="81.3" y="298.7" width="1.4" height="0.45" fill="#9c9c9c" />
<rect x="82.2" y="300.2" width="0.8" height="0.45" fill="#9c9c9c" />
<rect x="95.3" y="301.9" width="0.8" height="0.45" fill="#9c9c9c" />
<rect x="107.9" y="324.3" width="0.8" height="0.45" fill="#9c9c9c" />
<rect x="108.3" y="330.8" width="1.0" height="0.45" fill="#9c9c9c" />
<rect x="108.2" y="318.7" width="1.0" height="0.45" fill="#9c9c9c" />
<rect x="77.8" y="300.3" width="1.4" height="0.45" fill="#9c9c9c" />
<rect x="103.7" y="338.9" width="0.9" height="0.45" fill="#9c9c9c" />
<rect x="98.8" y="303.7" width="1.2" height="0.45" fill="#9c9c9c" />
<rect x="82.1" y="300.8" width="1.0" height="0.45" fill="#9c9c9c" />
<rect x="107.0" y="312.4" width="1.1" height="0.45" fill="#9c9c9c" />
<rect x="77.7" y="300.1" width="1.0" height="0.45" fill="#9c9c9c" />
<rect x="105.2" y="313.9" width="1.0" height="0.45" fill="#9c9c9c" />
<line x1="70.6" y1="298.5" x2="71.2" y2="303.3" stroke="#b2b2b2" stroke-width="0.35" />
<line x1="64.8" y1="297.3" x2="66.3" y2="302.3" stroke="#b2b2b2" stroke-width="0.35" />
<line x1="58.2" y1="297.5" x2="60.8" y2="302.5" stroke="#b2b2b2" stroke-width="0.35" />
<line x1="52.1" y1="299.6" x2="55.6" y2="304.2" stroke="#b2b2b2" stroke-width="0.35" />
<line x1="46.7" y1="303.1" x2="51.1" y2="307.2" stroke="#b2b2b2" stroke-width="0.35" />
<line x1="42.1" y1="308.2" x2="47.2" y2="311.5" stroke="#b2b2b2" stroke-width="0.35" />
<line x1="38.6" y1="314.9" x2="44.3" y2="317.1" stroke="#b2b2b2" stroke-width="0.35" />
<line x1="36.3" y1="322.5" x2="42.4" y2="323.5" stroke="#b2b2b2" stroke-width="0.35" />
<line x1="37.1" y1="330.7" x2="43.0" y2="330.3" stroke="#b2b2b2" stroke-width="0.35" />
<line x1="40.5" y1="337.3" x2="45.9" y2="335.9" stroke="#b2b2b2" stroke-width="0.35" />
<rect x="48.2" y="304.4" width="0.8" height="0.45" fill="#9c9c9c" />
<rect x="42.9" y="316.0" width="1.2" height="0.45" fill="#9c9c9c" />
<rect x="71.0" y="301.5" width="0.9" height="0.45" fill="#9c9c9c" />
<rect x="41.5" y="321.4" width="1.0" height="0.45" fill="#9c9c9c" />
<rect x="60.7" y="300.7" width="1.0" height="0.45" fill="#9c9c9c" />
<rect x="44.7" y="338.1" width="1.4" height="0.45" fill="#9c9c9c" />
<rect x="62.5" y="298.2" width="1.0" height="0.45" fill="#9c9c9c" />
<rect x="61.3" y="299.0" width="1.3" height="0.45" fill="#9c9c9c" />
<rect x="72.1" y="302.2" width="1.2" height="0.45" fill="#9c9c9c" />
<rect x="52.5" y="304.1" width="0.7" height="0.45" fill="#9c9c9c" />
<rect x="70.7" y="300.4" width="1.4" height="0.45" fill="#9c9c9c" />
<rect x="46.7" y="339.6" width="0.7" height="0.45" fill="#9c9c9c" />
<rect x="52.5" y="301.8" width="1.3" height="0.45" fill="#9c9c9c" />
<rect x="40.8" y="321.4" width="1.1" height="0.45" fill="#9c9c9c" />
<rect x="44.0" y="310.5" width="0.9" height="0.45" fill="#9c9c9c" />
<rect x="42.8" y="338.0" width="0.8" height="0.45" fill="#9c9c9c" />
<rect x="54.3" y="300.3" width="0.9" height="0.45" fill="#9c9c9c" />
<rect x="43.9" y="337.5" width="1.2" height="0.45" fill="#9c9c9c" />
<rect x="40.2" y="324.6" width="0.9" height="0.45" fill="#9c9c9c" />
<rect x="57.1" y="300.1" width="1.2" height="0.45" fill="#9c9c9c" />
<rect x="64.9" y="298.6" width="1.0" height="0.45" fill="#9c9c9c" />
<rect x="58.4" y="300.7" width="1.4" height="0.45" fill="#9c9c9c" />
<ellipse cx="88.3" cy="325.6" rx="8.5" ry="10.2" fill="none" stroke="#b8b8b8" stroke-width="0.35"/>
<circle cx="82.6" cy="322.9" r="0.5" fill="none" stroke="#a8a8a8" stroke-width="0.3"/>
<circle cx="94.9" cy="321.2" r="0.5" fill="none" stroke="#a8a8a8" stroke-width="0.3"/>
<circle cx="88.6" cy="319.6" r="0.5" fill="none" stroke="#a8a8a8" stroke-width="0.3"/>
<circle cx="82.0" cy="321.0" r="0.5" fill="none" stroke="#a8a8a8" stroke-width="0.3"/>
<circle cx="89.7" cy="318.8" r="0.5" fill="none" stroke="#a8a8a8" stroke-width="0.3"/>
<circle cx="85.6" cy="330.1" r="0.5" fill="none" stroke="#a8a8a8" stroke-width="0.3"/>
<circle cx="87.7" cy="318.7" r="0.5" fill="none" stroke="#a8a8a8" stroke-width="0.3"/>
<circle cx="94.7" cy="326.4" r="0.5" fill="none" stroke="#a8a8a8" stroke-width="0.3"/>
<circle cx="93.9" cy="320.9" r="0.5" fill="none" stroke="#a8a8a8" stroke-width="0.3"/>
<circle cx="94.1" cy="320.3" r="0.5" fill="none" stroke="#a8a8a8" stroke-width="0.3"/>
<circle cx="81.6" cy="323.8" r="0.5" fill="none" stroke="#a8a8a8" stroke-width="0.3"/>
<circle cx="86.5" cy="327.5" r="0.5" fill="none" stroke="#a8a8a8" stroke-width="0.3"/>
<circle cx="85.7" cy="329.7" r="0.5" fill="none" stroke="#a8a8a8" stroke-width="0.3"/>
<circle cx="94.1" cy="322.5" r="0.5" fill="none" stroke="#a8a8a8" stroke-width="0.3"/>
<circle cx="82.4" cy="323.7" r="0.5" fill="none" stroke="#a8a8a8" stroke-width="0.3"/>
<circle cx="92.2" cy="330.3" r="0.5" fill="none" stroke="#a8a8a8" stroke-width="0.3"/>
<circle cx="86.8" cy="320.1" r="0.5" fill="none" stroke="#a8a8a8" stroke-width="0.3"/>
<circle cx="88.4" cy="331.4" r="0.5" fill="none" stroke="#a8a8a8" stroke-width="0.3"/>
<circle cx="85.4" cy="332.4" r="0.5" fill="none" stroke="#a8a8a8" stroke-width="0.3"/>
<circle cx="89.7" cy="327.7" r="0.5" fill="none" stroke="#a8a8a8" stroke-width="0.3"/>
<circle cx="85.8" cy="332.6" r="0.5" fill="none" stroke="#a8a8a8" stroke-width="0.3"/>
<circle cx="88.6" cy="318.1" r="0.5" fill="none" stroke="#a8a8a8" stroke-width="0.3"/>
<circle cx="92.5" cy="323.3" r="0.5" fill="none" stroke="#a8a8a8" stroke-width="0.3"/>
<circle cx="93.5" cy="326.8" r="0.5" fill="none" stroke="#a8a8a8" stroke-width="0.3"/>
<circle cx="85.2" cy="326.9" r="0.5" fill="none" stroke="#a8a8a8" stroke-width="0.3"/>
<circle cx="86.0" cy="320.9" r="0.5" fill="none" stroke="#a8a8a8" stroke-width="0.3"/>
<path d="M76.3,340.4 Q93.7,346.5 104.4,336.8" fill="none" stroke="#b0b0b0" stroke-width="0.35"/>
<path d="M79.0,312.3 Q82.1,332.7 78.2,341.9" fill="none" stroke="#b8b8b8" stroke-width="0.35"/>
<path d="M97.5,335.2 Q103.3,325.1 99.8,316.4" fill="none" stroke="#b8b8b8" stroke-width="0.35"/>
<ellipse cx="60.5" cy="325.6" rx="8.5" ry="10.2" fill="none" stroke="#b8b8b8" stroke-width="0.35"/>
<circle cx="60.9" cy="330.8" r="0.5" fill="none" stroke="#a8a8a8" stroke-width="0.3"/>
<circle cx="61.2" cy="325.3" r="0.5" fill="none" stroke="#a8a8a8" stroke-width="0.3"/>
<circle cx="57.9" cy="329.3" r="0.5" fill="none" stroke="#a8a8a8" stroke-width="0.3"/>
<circle cx="62.1" cy="331.3" r="0.5" fill="none" stroke="#a8a8a8" stroke-width="0.3"/>
<circle cx="61.9" cy="334.2" r="0.5" fill="none" stroke="#a8a8a8" stroke-width="0.3"/>
<circle cx="54.1" cy="325.5" r="0.5" fill="none" stroke="#a8a8a8" stroke-width="0.3"/>
<circle cx="63.3" cy="330.9" r="0.5" fill="none" stroke="#a8a8a8" stroke-width="0.3"/>
<circle cx="55.0" cy="320.3" r="0.5" fill="none" stroke="#a8a8a8" stroke-width="0.3"/>
<circle cx="60.5" cy="331.8" r="0.5" fill="none" stroke="#a8a8a8" stroke-width="0.3"/>
<circle cx="64.8" cy="318.9" r="0.5" fill="none" stroke="#a8a8a8" stroke-width="0.3"/>
<circle cx="61.3" cy="332.2" r="0.5" fill="none" stroke="#a8a8a8" stroke-width="0.3"/>
<circle cx="60.9" cy="319.8" r="0.5" fill="none" stroke="#a8a8a8" stroke-width="0.3"/>
<circle cx="57.6" cy="318.9" r="0.5" fill="none" stroke="#a8a8a8" stroke-width="0.3"/>
<circle cx="66.2" cy="324.4" r="0.5" fill="none" stroke="#a8a8a8" stroke-width="0.3"/>
<circle cx="58.6" cy="320.6" r="0.5" fill="none" stroke="#a8a8a8" stroke-width="0.3"/>
<circle cx="60.0" cy="320.4" r="0.5" fill="none" stroke="#a8a8a8" stroke-width="0.3"/>
<circle cx="55.9" cy="325.6" r="0.5" fill="none" stroke="#a8a8a8" stroke-width="0.3"/>
<circle cx="59.5" cy="328.7" r="0.5" fill="none" stroke="#a8a8a8" stroke-width="0.3"/>
<circle cx="61.4" cy="332.3" r="0.5" fill="none" stroke="#a8a8a8" stroke-width="0.3"/>
<circle cx="60.5" cy="327.5" r="0.5" fill="none" stroke="#a8a8a8" stroke-width="0.3"/>
<circle cx="61.9" cy="320.9" r="0.5" fill="none" stroke="#a8a8a8" stroke-width="0.3"/>
<circle cx="66.0" cy="322.8" r="0.5" fill="none" stroke="#a8a8a8" stroke-width="0.3"/>
<circle cx="55.0" cy="331.1" r="0.5" fill="none" stroke="#a8a8a8" stroke-width="0.3"/>
<circle cx="64.0" cy="322.4" r="0.5" fill="none" stroke="#a8a8a8" stroke-width="0.3"/>
<circle cx="64.9" cy="330.8" r="0.5" fill="none" stroke="#a8a8a8" stroke-width="0.3"/>
<circle cx="63.8" cy="319.6" r="0.5" fill="none" stroke="#a8a8a8" stroke-width="0.3"/>
<path d="M72.5,340.4 Q55.2,346.5 44.4,336.8" fill="none" stroke="#b0b0b0" stroke-width="0.35"/>
<path d="M69.8,312.3 Q66.7,332.7 70.6,341.9" fill="none" stroke="#b8b8b8" stroke-width="0.35"/>
<path d="M51.3,335.2 Q45.5,325.1 49.0,316.4" fill="none" stroke="#b8b8b8" stroke-width="0.35"/>
<line x1="74.4" y1="300.6" x2="74.4" y2="344.4" stroke="#bcbcbc" stroke-width="0.35" />
<rect x="88.0" y="323.4" width="1.2" height="0.45" fill="#a0a0a0" />
<rect x="63.1" y="323.2" width="1.0" height="0.45" fill="#a0a0a0" />
<rect x="68.9" y="323.0" width="1.3" height="0.45" fill="#a0a0a0" />
<rect x="58.6" y="316.5" width="0.9" height="0.45" fill="#a0a0a0" />
<rect x="96.9" y="327.1" width="0.7" height="0.45" fill="#a0a0a0" />
<rect x="90.4" y="338.7" width="1.4" height="0.45" fill="#a0a0a0" />
<rect x="67.7" y="334.1" width="0.9" height="0.45" fill="#a0a0a0" />
<rect x="57.1" y="338.4" width="1.4" height="0.45" fill="#a0a0a0" />
<rect x="60.6" y="338.9" width="0.7" height="0.45" fill="#a0a0a0" />
<rect x="65.3" y="310.2" width="0.8" height="0.45" fill="#a0a0a0" />
<rect x="58.3" y="333.5" width="0.9" height="0.45" fill="#a0a0a0" />
<rect x="59.6" y="315.9" width="0.9" height="0.45" fill="#a0a0a0" />
<rect x="91.7" y="329.9" width="0.8" height="0.45" fill="#a0a0a0" />
<rect x="83.2" y="327.5" width="1.1" height="0.45" fill="#a0a0a0" />
<rect x="75.7" y="331.3" width="1.3" height="0.45" fill="#a0a0a0" />
<rect x="74.7" y="330.8" width="1.1" height="0.45" fill="#a0a0a0" />
<rect x="80.8" y="322.6" width="1.0" height="0.45" fill="#a0a0a0" />
<rect x="75.2" y="333.5" width="0.9" height="0.45" fill="#a0a0a0" />
<rect x="94.7" y="326.0" width="1.4" height="0.45" fill="#a0a0a0" />
<rect x="83.5" y="341.5" width="1.2" height="0.45" fill="#a0a0a0" />
<rect x="70.9" y="323.2" width="1.2" height="0.45" fill="#a0a0a0" />
<rect x="86.5" y="337.6" width="0.8" height="0.45" fill="#a0a0a0" />
<rect x="53.5" y="313.3" width="0.8" height="0.45" fill="#a0a0a0" />
<rect x="53.2" y="310.0" width="0.9" height="0.45" fill="#a0a0a0" />
<rect x="55.9" y="332.5" width="1.2" height="0.45" fill="#a0a0a0" />
<rect x="96.6" y="341.6" width="1.3" height="0.45" fill="#a0a0a0" />
<rect x="95.9" y="310.7" width="0.9" height="0.45" fill="#a0a0a0" />
<rect x="94.7" y="325.5" width="0.9" height="0.45" fill="#a0a0a0" />
<rect x="86.7" y="323.8" width="1.1" height="0.45" fill="#a0a0a0" />
<rect x="65.6" y="317.8" width="0.8" height="0.45" fill="#a0a0a0" />
<rect x="79.5" y="341.3" width="1.5" height="0.45" fill="#a0a0a0" />
<rect x="87.1" y="340.7" width="1.0" height="0.45" fill="#a0a0a0" />
<rect x="64.8" y="340.4" width="1.2" height="0.45" fill="#a0a0a0" />
<rect x="82.5" y="310.2" width="0.9" height="0.45" fill="#a0a0a0" />
<rect x="73.6" y="334.0" width="1.4" height="0.45" fill="#a0a0a0" />
<rect x="86.7" y="321.0" width="1.0" height="0.45" fill="#a0a0a0" />
<rect x="91.7" y="342.6" width="1.1" height="0.45" fill="#a0a0a0" />
<rect x="59.8" y="330.5" width="1.1" height="0.45" fill="#a0a0a0" />
<rect x="67.8" y="317.4" width="1.0" height="0.45" fill="#a0a0a0" />
<rect x="79.8" y="314.0" width="1.1" height="0.45" fill="#a0a0a0" />
<rect x="96.0" y="334.4" width="0.9" height="0.45" fill="#a0a0a0" />
<rect x="70.5" y="313.1" width="1.3" height="0.45" fill="#a0a0a0" />
<rect x="80.7" y="315.5" width="1.1" height="0.45" fill="#a0a0a0" />
<rect x="79.0" y="328.9" width="1.0" height="0.45" fill="#a0a0a0" />
<rect x="65.3" y="321.5" width="1.5" height="0.45" fill="#a0a0a0" />
<path d="M90.40,298.90 C91.47,297.78 94.23,299.03 96.00,299.30 C97.77,299.57 99.33,299.80 101.00,300.50 C102.67,301.20 104.50,302.17 106.00,303.50 C107.50,304.83 108.95,306.75 110.00,308.50 C111.05,310.25 111.87,312.08 112.30,314.00 C112.73,315.92 112.58,317.83 112.60,320.00 C112.62,322.17 112.58,325.00 112.40,327.00 C112.22,329.00 112.23,330.75 111.50,332.00 C110.77,333.25 109.58,334.00 108.00,334.50 C106.42,335.00 104.00,334.75 102.00,335.00 C100.00,335.25 98.00,335.75 96.00,336.00 C94.00,336.25 91.58,336.67 90.00,336.50 C88.42,336.33 87.20,336.08 86.50,335.00 C85.80,333.92 85.88,331.83 85.80,330.00 C85.72,328.17 85.80,326.00 86.00,324.00 C86.20,322.00 86.58,319.83 87.00,318.00 C87.42,316.17 88.07,315.00 88.50,313.00 C88.93,311.00 89.28,308.35 89.60,306.00 C89.92,303.65 89.33,300.02 90.40,298.90Z" fill="#2e3192" />
<path d="M91.30,299.70 C92.23,298.72 94.38,299.83 96.00,300.10 C97.62,300.37 99.40,300.62 101.00,301.30 C102.60,301.98 104.22,302.92 105.60,304.20 C106.98,305.48 108.32,307.33 109.30,309.00 C110.28,310.67 111.10,312.70 111.50,314.20 C111.90,315.70 112.95,317.28 111.70,318.00 C110.45,318.72 105.70,318.17 104.00,318.50 C102.30,318.83 101.97,318.58 101.50,320.00 C101.03,321.42 101.37,324.73 101.20,327.00 C101.03,329.27 101.53,332.30 100.50,333.60 C99.47,334.90 96.83,334.57 95.00,334.80 C93.17,335.03 90.78,335.47 89.50,335.00 C88.22,334.53 87.72,333.67 87.30,332.00 C86.88,330.33 86.95,327.17 87.00,325.00 C87.05,322.83 87.22,321.00 87.60,319.00 C87.98,317.00 88.83,315.17 89.30,313.00 C89.77,310.83 90.07,308.22 90.40,306.00 C90.73,303.78 90.37,300.68 91.30,299.70Z" fill="#00aeef" />
<path d="M93.50,299.80 C94.33,299.20 96.42,300.03 98.00,300.40 C99.58,300.77 101.50,301.23 103.00,302.00 C104.50,302.77 105.83,303.75 107.00,305.00 C108.17,306.25 109.28,307.92 110.00,309.50 C110.72,311.08 111.10,313.20 111.30,314.50 C111.50,315.80 112.08,316.92 111.20,317.30 C110.32,317.68 107.87,317.18 106.00,316.80 C104.13,316.42 101.83,315.63 100.00,315.00 C98.17,314.37 96.17,314.00 95.00,313.00 C93.83,312.00 93.33,310.50 93.00,309.00 C92.67,307.50 92.92,305.53 93.00,304.00 C93.08,302.47 92.67,300.40 93.50,299.80Z" fill="#00a651" />
<path d="M96.00,300.20 C96.67,299.37 98.75,300.48 100.00,301.00 C101.25,301.52 102.67,302.13 103.50,303.30 C104.33,304.47 104.92,306.30 105.00,308.00 C105.08,309.70 104.83,312.50 104.00,313.50 C103.17,314.50 101.17,314.33 100.00,314.00 C98.83,313.67 97.67,312.83 97.00,311.50 C96.33,310.17 96.17,307.88 96.00,306.00 C95.83,304.12 95.33,301.03 96.00,300.20Z" fill="#8dc63f" />
<path d="M98.00,300.50 C98.70,300.08 101.08,300.92 102.50,301.50 C103.92,302.08 105.50,302.98 106.50,304.00 C107.50,305.02 108.92,306.77 108.50,307.60 C108.08,308.43 105.45,308.93 104.00,309.00 C102.55,309.07 100.75,308.83 99.80,308.00 C98.85,307.17 98.60,305.25 98.30,304.00 C98.00,302.75 97.30,300.92 98.00,300.50Z" fill="#fff200" />
<path d="M88.80,316.50 C89.75,315.55 92.13,316.95 94.00,317.30 C95.87,317.65 98.80,317.82 100.00,318.60 C101.20,319.38 101.03,320.43 101.20,322.00 C101.37,323.57 101.20,326.17 101.00,328.00 C100.80,329.83 101.00,332.00 100.00,333.00 C99.00,334.00 96.58,333.97 95.00,334.00 C93.42,334.03 91.57,333.87 90.50,333.20 C89.43,332.53 88.97,331.70 88.60,330.00 C88.23,328.30 88.27,325.25 88.30,323.00 C88.33,320.75 87.85,317.45 88.80,316.50Z" fill="#00a651" />
<ellipse cx="92.6" cy="326.8" rx="3.9" ry="7" fill="#8dc63f"/>
<path d="M88.2,314.6 C93,315.8 97.5,317 101.8,318.8" fill="none" stroke="#2e3192" stroke-width="0.8"/>
<path d="M85.90,331.00 C86.17,330.40 87.75,332.12 88.60,333.00 C89.45,333.88 91.27,335.70 91.00,336.30 C90.73,336.90 87.85,337.48 87.00,336.60 C86.15,335.72 85.63,331.60 85.90,331.00Z" fill="#2e3192" />
<path d="M65.7,313.7 Q68.3,314.0 70.9,314.9 Q70.3,317.6 70.0,321.6 Q66.5,318.6 65.7,313.7 Z" fill="#111"/>
<path d="M82.3,314.4 Q80.1,314.7 77.9,315.6 Q78.5,317.6 78.8,320.8 Q81.5,318.6 82.3,314.4 Z" fill="#111"/>
<path d="M38.93,328.25 C36.55,324.50 29.19,325.40 25.25,326.00 C21.31,326.60 17.65,328.70 15.28,331.85 C12.90,335.00 11.38,340.25 11.00,344.90 C10.62,349.55 11.19,355.62 12.99,359.75 C14.80,363.88 18.84,367.77 21.83,369.65 C24.82,371.52 28.15,371.30 30.95,371.00 C33.75,370.70 37.22,371.60 38.65,367.85 C40.07,364.10 39.45,355.10 39.50,348.50 C39.55,341.90 41.30,332.00 38.93,328.25Z" fill="#fff" stroke="#a0a0a0" stroke-width="0.5"/>
<line x1="28.9" y1="354.2" x2="27.5" y2="370.4" stroke="#bcbcbc" stroke-width="0.35" />
<line x1="27.0" y1="353.4" x2="16.4" y2="366.1" stroke="#bcbcbc" stroke-width="0.35" />
<line x1="25.9" y1="351.7" x2="11.9" y2="355.4" stroke="#bcbcbc" stroke-width="0.35" />
<line x1="26.0" y1="349.6" x2="11.4" y2="344.3" stroke="#bcbcbc" stroke-width="0.35" />
<line x1="27.2" y1="347.9" x2="15.9" y2="331.7" stroke="#bcbcbc" stroke-width="0.35" />
<line x1="29.2" y1="347.2" x2="29.2" y2="327.2" stroke="#bcbcbc" stroke-width="0.35" />
<line x1="31.0" y1="347.7" x2="37.2" y2="336.9" stroke="#bcbcbc" stroke-width="0.35" />
<line x1="32.3" y1="349.0" x2="39.2" y2="345.0" stroke="#bcbcbc" stroke-width="0.35" />
<circle cx="29.2" cy="350.8" r="3.5" fill="none" stroke="#c0c0c0" stroke-width="0.35"/>
<path d="M36.6,358.4 Q25.2,356.6 15.3,362.9" fill="none" stroke="#bcbcbc" stroke-width="0.35"/>
<rect x="24.3" y="351.0" width="1.4" height="0.5" fill="#a0a0a0" />
<rect x="24.6" y="349.3" width="1.2" height="0.5" fill="#a0a0a0" />
<rect x="19.0" y="349.5" width="1.2" height="0.5" fill="#a0a0a0" />
<rect x="31.1" y="335.8" width="1.0" height="0.5" fill="#a0a0a0" />
<rect x="17.1" y="359.2" width="1.2" height="0.5" fill="#a0a0a0" />
<rect x="16.1" y="364.8" width="1.4" height="0.5" fill="#a0a0a0" />
<rect x="28.3" y="352.8" width="0.9" height="0.5" fill="#a0a0a0" />
<rect x="15.6" y="350.0" width="0.8" height="0.5" fill="#a0a0a0" />
<rect x="19.1" y="340.6" width="0.8" height="0.5" fill="#a0a0a0" />
<rect x="24.5" y="347.1" width="1.3" height="0.5" fill="#a0a0a0" />
<rect x="25.6" y="353.6" width="1.1" height="0.5" fill="#a0a0a0" />
<rect x="28.5" y="347.7" width="1.0" height="0.5" fill="#a0a0a0" />
<rect x="35.2" y="365.2" width="1.3" height="0.5" fill="#a0a0a0" />
<rect x="29.4" y="343.0" width="0.9" height="0.5" fill="#a0a0a0" />
<rect x="21.0" y="335.0" width="1.3" height="0.5" fill="#a0a0a0" />
<rect x="23.3" y="360.4" width="1.0" height="0.5" fill="#a0a0a0" />
<circle cx="22.9" cy="366.2" r="0.6" fill="none" stroke="#999" stroke-width="0.3"/>
<circle cx="35.2" cy="361.4" r="0.6" fill="none" stroke="#999" stroke-width="0.3"/>
<circle cx="23.6" cy="363.3" r="0.6" fill="none" stroke="#999" stroke-width="0.3"/>
<circle cx="22.7" cy="362.8" r="0.6" fill="none" stroke="#999" stroke-width="0.3"/>
<circle cx="34.3" cy="364.6" r="0.6" fill="none" stroke="#999" stroke-width="0.3"/>
<circle cx="25.2" cy="361.8" r="0.6" fill="none" stroke="#999" stroke-width="0.3"/>
<circle cx="34.1" cy="362.3" r="0.6" fill="none" stroke="#999" stroke-width="0.3"/>
<circle cx="22.9" cy="365.5" r="0.6" fill="none" stroke="#999" stroke-width="0.3"/>
<path d="M40.07,328.25 C42.45,324.50 49.81,325.40 53.75,326.00 C57.69,326.60 61.35,328.70 63.72,331.85 C66.10,335.00 67.62,340.25 68.00,344.90 C68.38,349.55 67.81,355.62 66.00,359.75 C64.20,363.88 60.16,367.77 57.17,369.65 C54.18,371.52 50.85,371.30 48.05,371.00 C45.25,370.70 41.78,371.60 40.35,367.85 C38.93,364.10 39.55,355.10 39.50,348.50 C39.45,341.90 37.70,332.00 40.07,328.25Z" fill="#fff" stroke="#a0a0a0" stroke-width="0.5"/>
<line x1="50.1" y1="354.2" x2="51.5" y2="370.4" stroke="#bcbcbc" stroke-width="0.35" />
<line x1="52.0" y1="353.4" x2="62.6" y2="366.1" stroke="#bcbcbc" stroke-width="0.35" />
<line x1="53.1" y1="351.7" x2="67.1" y2="355.4" stroke="#bcbcbc" stroke-width="0.35" />
<line x1="53.0" y1="349.6" x2="67.6" y2="344.3" stroke="#bcbcbc" stroke-width="0.35" />
<line x1="51.8" y1="347.9" x2="63.1" y2="331.7" stroke="#bcbcbc" stroke-width="0.35" />
<line x1="49.8" y1="347.2" x2="49.8" y2="327.2" stroke="#bcbcbc" stroke-width="0.35" />
<line x1="48.0" y1="347.7" x2="41.8" y2="336.9" stroke="#bcbcbc" stroke-width="0.35" />
<line x1="46.7" y1="349.0" x2="39.8" y2="345.0" stroke="#bcbcbc" stroke-width="0.35" />
<circle cx="49.8" cy="350.8" r="3.5" fill="none" stroke="#c0c0c0" stroke-width="0.35"/>
<path d="M42.4,358.4 Q53.8,356.6 63.7,362.9" fill="none" stroke="#bcbcbc" stroke-width="0.35"/>
<rect x="46.1" y="340.8" width="0.9" height="0.5" fill="#a0a0a0" />
<rect x="45.0" y="358.8" width="0.9" height="0.5" fill="#a0a0a0" />
<rect x="54.9" y="347.3" width="0.9" height="0.5" fill="#a0a0a0" />
<rect x="58.4" y="337.0" width="1.2" height="0.5" fill="#a0a0a0" />
<rect x="46.1" y="346.5" width="0.9" height="0.5" fill="#a0a0a0" />
<rect x="49.2" y="364.4" width="1.3" height="0.5" fill="#a0a0a0" />
<rect x="49.8" y="361.6" width="0.9" height="0.5" fill="#a0a0a0" />
<rect x="51.6" y="360.6" width="1.2" height="0.5" fill="#a0a0a0" />
<rect x="45.8" y="365.0" width="0.9" height="0.5" fill="#a0a0a0" />
<rect x="48.9" y="358.0" width="1.0" height="0.5" fill="#a0a0a0" />
<rect x="49.7" y="335.1" width="0.9" height="0.5" fill="#a0a0a0" />
<rect x="55.4" y="340.7" width="1.2" height="0.5" fill="#a0a0a0" />
<rect x="51.2" y="347.5" width="1.4" height="0.5" fill="#a0a0a0" />
<rect x="53.4" y="351.5" width="1.3" height="0.5" fill="#a0a0a0" />
<rect x="47.4" y="337.8" width="1.3" height="0.5" fill="#a0a0a0" />
<rect x="60.1" y="340.9" width="0.9" height="0.5" fill="#a0a0a0" />
<circle cx="53.3" cy="366.9" r="0.6" fill="none" stroke="#999" stroke-width="0.3"/>
<circle cx="46.3" cy="367.0" r="0.6" fill="none" stroke="#999" stroke-width="0.3"/>
<circle cx="55.1" cy="364.4" r="0.6" fill="none" stroke="#999" stroke-width="0.3"/>
<circle cx="49.2" cy="360.5" r="0.6" fill="none" stroke="#999" stroke-width="0.3"/>
<circle cx="44.3" cy="367.1" r="0.6" fill="none" stroke="#999" stroke-width="0.3"/>
<circle cx="46.8" cy="365.1" r="0.6" fill="none" stroke="#999" stroke-width="0.3"/>
<circle cx="47.1" cy="366.1" r="0.6" fill="none" stroke="#999" stroke-width="0.3"/>
<circle cx="51.4" cy="362.0" r="0.6" fill="none" stroke="#999" stroke-width="0.3"/>
<circle cx="31.0" cy="353.0" r="0.7" fill="#333"/>
<circle cx="45.8" cy="356.1" r="0.6" fill="#444"/>
<path d="M58.40,329.00 C58.88,328.43 60.40,329.18 61.50,329.60 C62.60,330.02 63.98,330.60 65.00,331.50 C66.02,332.40 66.93,333.58 67.60,335.00 C68.27,336.42 68.72,338.33 69.00,340.00 C69.28,341.67 69.47,343.50 69.30,345.00 C69.13,346.50 68.63,347.90 68.00,349.00 C67.37,350.10 66.25,351.35 65.50,351.60 C64.75,351.85 64.25,351.60 63.50,350.50 C62.75,349.40 61.70,347.00 61.00,345.00 C60.30,343.00 59.70,340.50 59.30,338.50 C58.90,336.50 58.75,334.58 58.60,333.00 C58.45,331.42 57.92,329.57 58.40,329.00Z" fill="#2e3192" />
<path d="M62.60,330.60 C63.03,330.13 64.37,331.38 65.20,332.20 C66.03,333.02 67.02,334.20 67.60,335.50 C68.18,336.80 68.50,338.42 68.70,340.00 C68.90,341.58 69.00,343.53 68.80,345.00 C68.60,346.47 68.08,347.83 67.50,348.80 C66.92,349.77 65.88,351.10 65.30,350.80 C64.72,350.50 64.38,348.63 64.00,347.00 C63.62,345.37 63.23,343.00 63.00,341.00 C62.77,339.00 62.67,336.73 62.60,335.00 C62.53,333.27 62.17,331.07 62.60,330.60Z" fill="#00aeef" />
<text x="89.10000000000001" y="359.0" font-size="5.40" text-anchor="end" fill="#3a3a3a" font-weight="normal" font-style="normal" textLength="21.90" lengthAdjust="spacingAndGlyphs" stroke="#3a3a3a" stroke-width="0.1" >% of mice</text>
<rect x="91.20" y="360.9" width="12.05" height="12.3" fill="#fff" />
<text x="97.17" y="359.0" font-size="5.40" text-anchor="middle" fill="#3a3a3a" font-weight="normal" font-style="normal" textLength="3.00" lengthAdjust="spacingAndGlyphs" stroke="#3a3a3a" stroke-width="0.1" >0</text>
<text x="97.17" y="380.2" font-size="5.40" text-anchor="middle" fill="#3a3a3a" font-weight="normal" font-style="normal" textLength="3.00" lengthAdjust="spacingAndGlyphs" stroke="#3a3a3a" stroke-width="0.1" >0</text>
<rect x="103.15" y="360.9" width="12.05" height="12.3" fill="#2e3192" />
<text x="109.12" y="359.0" font-size="5.40" text-anchor="middle" fill="#3a3a3a" font-weight="normal" font-style="normal" textLength="10.51" lengthAdjust="spacingAndGlyphs" stroke="#3a3a3a" stroke-width="0.1" >12.5</text>
<text x="109.12" y="380.2" font-size="5.40" text-anchor="middle" fill="#3a3a3a" font-weight="normal" font-style="normal" textLength="3.00" lengthAdjust="spacingAndGlyphs" stroke="#3a3a3a" stroke-width="0.1" >1</text>
<rect x="115.10" y="360.9" width="12.05" height="12.3" fill="#00aeef" />
<text x="121.07" y="359.0" font-size="5.40" text-anchor="middle" fill="#3a3a3a" font-weight="normal" font-style="normal" textLength="6.01" lengthAdjust="spacingAndGlyphs" stroke="#3a3a3a" stroke-width="0.1" >25</text>
<text x="121.07" y="380.2" font-size="5.40" text-anchor="middle" fill="#3a3a3a" font-weight="normal" font-style="normal" textLength="3.00" lengthAdjust="spacingAndGlyphs" stroke="#3a3a3a" stroke-width="0.1" >2</text>
<rect x="127.05" y="360.9" width="12.05" height="12.3" fill="#00a651" />
<text x="133.03" y="359.0" font-size="5.40" text-anchor="middle" fill="#3a3a3a" font-weight="normal" font-style="normal" textLength="10.51" lengthAdjust="spacingAndGlyphs" stroke="#3a3a3a" stroke-width="0.1" >37.5</text>
<text x="133.03" y="380.2" font-size="5.40" text-anchor="middle" fill="#3a3a3a" font-weight="normal" font-style="normal" textLength="3.00" lengthAdjust="spacingAndGlyphs" stroke="#3a3a3a" stroke-width="0.1" >3</text>
<rect x="139.00" y="360.9" width="12.05" height="12.3" fill="#8dc63f" />
<text x="144.97" y="359.0" font-size="5.40" text-anchor="middle" fill="#3a3a3a" font-weight="normal" font-style="normal" textLength="6.01" lengthAdjust="spacingAndGlyphs" stroke="#3a3a3a" stroke-width="0.1" >50</text>
<text x="144.97" y="380.2" font-size="5.40" text-anchor="middle" fill="#3a3a3a" font-weight="normal" font-style="normal" textLength="3.00" lengthAdjust="spacingAndGlyphs" stroke="#3a3a3a" stroke-width="0.1" >4</text>
<rect x="150.95" y="360.9" width="12.05" height="12.3" fill="#fff200" />
<text x="156.92" y="359.0" font-size="5.40" text-anchor="middle" fill="#3a3a3a" font-weight="normal" font-style="normal" textLength="10.51" lengthAdjust="spacingAndGlyphs" stroke="#3a3a3a" stroke-width="0.1" >62.5</text>
<text x="156.92" y="380.2" font-size="5.40" text-anchor="middle" fill="#3a3a3a" font-weight="normal" font-style="normal" textLength="3.00" lengthAdjust="spacingAndGlyphs" stroke="#3a3a3a" stroke-width="0.1" >5</text>
<rect x="162.90" y="360.9" width="12.05" height="12.3" fill="#f7941d" />
<text x="168.87" y="359.0" font-size="5.40" text-anchor="middle" fill="#3a3a3a" font-weight="normal" font-style="normal" textLength="6.01" lengthAdjust="spacingAndGlyphs" stroke="#3a3a3a" stroke-width="0.1" >75</text>
<text x="168.87" y="380.2" font-size="5.40" text-anchor="middle" fill="#3a3a3a" font-weight="normal" font-style="normal" textLength="3.00" lengthAdjust="spacingAndGlyphs" stroke="#3a3a3a" stroke-width="0.1" >6</text>
<rect x="174.85" y="360.9" width="12.05" height="12.3" fill="#ec008c" />
<text x="180.82" y="359.0" font-size="5.40" text-anchor="middle" fill="#3a3a3a" font-weight="normal" font-style="normal" textLength="10.51" lengthAdjust="spacingAndGlyphs" stroke="#3a3a3a" stroke-width="0.1" >87.5</text>
<text x="180.82" y="380.2" font-size="5.40" text-anchor="middle" fill="#3a3a3a" font-weight="normal" font-style="normal" textLength="3.00" lengthAdjust="spacingAndGlyphs" stroke="#3a3a3a" stroke-width="0.1" >7</text>
<rect x="186.80" y="360.9" width="12.05" height="12.3" fill="#ed1c24" />
<text x="192.78" y="359.0" font-size="5.40" text-anchor="middle" fill="#3a3a3a" font-weight="normal" font-style="normal" textLength="9.01" lengthAdjust="spacingAndGlyphs" stroke="#3a3a3a" stroke-width="0.1" >100</text>
<text x="192.78" y="380.2" font-size="5.40" text-anchor="middle" fill="#3a3a3a" font-weight="normal" font-style="normal" textLength="3.00" lengthAdjust="spacingAndGlyphs" stroke="#3a3a3a" stroke-width="0.1" >8</text>
<line x1="103.15" y1="360.9" x2="103.15" y2="373.2" stroke="#333" stroke-width="0.5" />
<line x1="115.10" y1="360.9" x2="115.10" y2="373.2" stroke="#333" stroke-width="0.5" />
<line x1="127.05" y1="360.9" x2="127.05" y2="373.2" stroke="#333" stroke-width="0.5" />
<line x1="139.00" y1="360.9" x2="139.00" y2="373.2" stroke="#333" stroke-width="0.5" />
<line x1="150.95" y1="360.9" x2="150.95" y2="373.2" stroke="#333" stroke-width="0.5" />
<line x1="162.90" y1="360.9" x2="162.90" y2="373.2" stroke="#333" stroke-width="0.5" />
<line x1="174.85" y1="360.9" x2="174.85" y2="373.2" stroke="#333" stroke-width="0.5" />
<line x1="186.80" y1="360.9" x2="186.80" y2="373.2" stroke="#333" stroke-width="0.5" />
<rect x="91.2" y="360.9" width="107.55" height="12.3" fill="none" stroke="#222" stroke-width="0.8"/>
<text x="88.4" y="380.2" font-size="5.40" text-anchor="end" fill="#3a3a3a" font-weight="normal" font-style="normal" textLength="7.66" lengthAdjust="spacingAndGlyphs" stroke="#3a3a3a" stroke-width="0.1" ><tspan font-style="italic">n</tspan> =</text>
<path d="M160.8,294.09999999999997 V297.7 H197.6 V294.09999999999997" fill="none" stroke="#333" stroke-width="0.9"/>
<text x="179.4" y="306.0" font-size="7.30" text-anchor="middle" fill="#222" font-weight="normal" font-style="normal" textLength="14.60" lengthAdjust="spacingAndGlyphs" stroke="#222" stroke-width="0.1" >LHS</text>
<text x="179.4" y="315.2" font-size="7.30" text-anchor="middle" fill="#222" font-weight="normal" font-style="normal" textLength="34.50" lengthAdjust="spacingAndGlyphs" stroke="#222" stroke-width="0.1" >(Ipsilateral)</text>
<text x="179.4" y="324.6" font-size="7.60" text-anchor="middle" fill="#222" font-weight="normal" font-style="normal" textLength="37.50" lengthAdjust="spacingAndGlyphs" stroke="#222" stroke-width="0.1" >hemisphere</text>
<text x="275.1" y="248.2" font-size="8.00" text-anchor="start" fill="#1a1a1a" font-weight="normal" font-style="normal" textLength="24.20" lengthAdjust="spacingAndGlyphs" stroke="#1a1a1a" stroke-width="0.1" >(Site 2)</text>
<path d="M345.90,244.71 C347.60,244.71 348.73,242.68 351.00,242.06 C353.27,241.44 356.67,240.91 359.50,241.00 C362.33,241.09 365.17,241.53 368.00,242.59 C370.83,243.65 373.95,245.24 376.50,247.36 C379.05,249.48 381.53,252.57 383.30,255.31 C385.07,258.05 386.27,261.32 387.12,263.79 C387.98,266.26 388.47,267.85 388.40,270.15 C388.33,272.45 387.69,275.27 386.70,277.57 C385.71,279.87 384.29,282.07 382.45,283.93 C380.61,285.79 378.20,287.38 375.65,288.70 C373.10,290.02 369.98,291.08 367.15,291.88 C364.32,292.68 361.27,293.38 358.65,293.47 C356.03,293.56 353.55,292.94 351.42,292.41 C349.30,291.88 347.74,290.29 345.90,290.29 C344.06,290.29 342.50,291.88 340.38,292.41 C338.25,292.94 335.77,293.56 333.15,293.47 C330.53,293.38 327.48,292.68 324.65,291.88 C321.82,291.08 318.70,290.02 316.15,288.70 C313.60,287.38 311.19,285.79 309.35,283.93 C307.51,282.07 306.09,279.87 305.10,277.57 C304.11,275.27 303.47,272.45 303.40,270.15 C303.33,267.85 303.82,266.26 304.67,263.79 C305.52,261.32 306.73,258.05 308.50,255.31 C310.27,252.57 312.75,249.48 315.30,247.36 C317.85,245.24 320.97,243.65 323.80,242.59 C326.63,241.53 329.47,241.09 332.30,241.00 C335.13,240.91 338.53,241.44 340.80,242.06 C343.07,242.68 344.20,244.71 345.90,244.71Z" fill="#fff" stroke="#8a8a8a" stroke-width="0.55"/>
<path d="M345.90,249.37 C346.61,249.00 348.28,247.67 350.18,247.15 C352.09,246.63 354.94,246.18 357.32,246.26 C359.70,246.33 362.08,246.70 364.46,247.59 C366.84,248.48 369.46,249.82 371.60,251.60 C373.75,253.38 375.83,255.98 377.32,258.28 C378.80,260.58 379.81,263.32 380.53,265.40 C381.24,267.48 381.66,268.81 381.60,270.74 C381.54,272.67 381.00,275.05 380.17,276.98 C379.34,278.91 377.20,281.43 376.60,282.32" fill="none" stroke="#a4a4a4" stroke-width="0.45"/>
<path d="M315.20,282.32 C314.60,281.43 312.46,278.91 311.63,276.98 C310.79,275.05 310.26,272.67 310.20,270.74 C310.14,268.81 310.56,267.48 311.27,265.40 C311.98,263.32 313.00,260.58 314.48,258.28 C315.97,255.98 318.05,253.38 320.20,251.60 C322.34,249.82 324.96,248.48 327.34,247.59 C329.72,246.70 332.10,246.33 334.48,246.26 C336.86,246.18 339.71,246.63 341.62,247.15 C343.52,247.67 345.19,249.00 345.90,249.37" fill="none" stroke="#a4a4a4" stroke-width="0.45"/>
<path d="M345.90,252.87 C346.51,252.55 347.94,251.41 349.57,250.96 C351.20,250.52 353.65,250.14 355.69,250.20 C357.73,250.26 359.77,250.58 361.81,251.35 C363.85,252.11 366.10,253.25 367.93,254.78 C369.77,256.31 371.55,258.53 372.83,260.50 C374.10,262.48 374.97,264.83 375.58,266.61 C376.19,268.39 376.55,269.54 376.50,271.19 C376.45,272.84 375.99,274.88 375.28,276.53 C374.56,278.18 372.73,280.35 372.22,281.11" fill="none" stroke="#999999" stroke-width="0.5"/>
<path d="M319.58,281.11 C319.07,280.35 317.24,278.18 316.52,276.53 C315.81,274.88 315.35,272.84 315.30,271.19 C315.25,269.54 315.61,268.39 316.22,266.61 C316.83,264.83 317.70,262.48 318.97,260.50 C320.25,258.53 322.03,256.31 323.87,254.78 C325.70,253.25 327.95,252.11 329.99,251.35 C332.03,250.58 334.07,250.26 336.11,250.20 C338.15,250.14 340.60,250.52 342.23,250.96 C343.86,251.41 345.29,252.55 345.90,252.87" fill="none" stroke="#999999" stroke-width="0.5"/>
<path d="M345.90,254.04 C346.48,253.74 347.83,252.66 349.37,252.24 C350.91,251.82 353.22,251.46 355.15,251.52 C357.07,251.58 359.00,251.88 360.93,252.60 C362.85,253.32 364.97,254.40 366.71,255.84 C368.44,257.28 370.13,259.38 371.33,261.25 C372.54,263.11 373.36,265.33 373.93,267.01 C374.51,268.69 374.85,269.78 374.80,271.34 C374.75,272.90 374.32,274.82 373.64,276.38 C372.97,277.94 371.24,279.99 370.75,280.71" fill="none" stroke="#b4b4b4" stroke-width="0.4"/>
<path d="M321.05,280.71 C320.56,279.99 318.83,277.94 318.16,276.38 C317.48,274.82 317.05,272.90 317.00,271.34 C316.95,269.78 317.29,268.69 317.87,267.01 C318.44,265.33 319.26,263.11 320.47,261.25 C321.67,259.38 323.36,257.28 325.09,255.84 C326.83,254.40 328.95,253.32 330.87,252.60 C332.80,251.88 334.73,251.58 336.65,251.52 C338.58,251.46 340.89,251.82 342.43,252.24 C343.97,252.66 345.32,253.74 345.90,254.04" fill="none" stroke="#b4b4b4" stroke-width="0.4"/>
<line x1="350.1" y1="242.6" x2="349.5" y2="247.6" stroke="#b2b2b2" stroke-width="0.35" />
<line x1="356.5" y1="241.3" x2="354.8" y2="246.5" stroke="#b2b2b2" stroke-width="0.35" />
<line x1="363.8" y1="241.5" x2="360.9" y2="246.7" stroke="#b2b2b2" stroke-width="0.35" />
<line x1="370.5" y1="243.7" x2="366.6" y2="248.5" stroke="#b2b2b2" stroke-width="0.35" />
<line x1="376.5" y1="247.4" x2="371.6" y2="251.6" stroke="#b2b2b2" stroke-width="0.35" />
<line x1="381.6" y1="252.7" x2="375.9" y2="256.1" stroke="#b2b2b2" stroke-width="0.35" />
<line x1="385.4" y1="259.6" x2="379.1" y2="261.8" stroke="#b2b2b2" stroke-width="0.35" />
<line x1="388.0" y1="267.5" x2="381.2" y2="268.5" stroke="#b2b2b2" stroke-width="0.35" />
<line x1="387.1" y1="276.0" x2="380.5" y2="275.6" stroke="#b2b2b2" stroke-width="0.35" />
<line x1="383.3" y1="282.9" x2="377.3" y2="281.4" stroke="#b2b2b2" stroke-width="0.35" />
<rect x="386.3" y="269.8" width="0.8" height="0.45" fill="#9c9c9c" />
<rect x="375.5" y="284.9" width="1.2" height="0.45" fill="#9c9c9c" />
<rect x="353.3" y="243.5" width="0.8" height="0.45" fill="#9c9c9c" />
<rect x="385.8" y="269.5" width="1.2" height="0.45" fill="#9c9c9c" />
<rect x="378.2" y="252.1" width="1.4" height="0.45" fill="#9c9c9c" />
<rect x="354.8" y="244.0" width="1.4" height="0.45" fill="#9c9c9c" />
<rect x="384.5" y="271.5" width="0.9" height="0.45" fill="#9c9c9c" />
<rect x="377.5" y="283.0" width="1.2" height="0.45" fill="#9c9c9c" />
<rect x="381.7" y="277.6" width="0.9" height="0.45" fill="#9c9c9c" />
<rect x="368.3" y="246.1" width="1.0" height="0.45" fill="#9c9c9c" />
<rect x="382.9" y="280.8" width="0.9" height="0.45" fill="#9c9c9c" />
<rect x="379.6" y="280.2" width="0.8" height="0.45" fill="#9c9c9c" />
<rect x="385.6" y="267.2" width="1.3" height="0.45" fill="#9c9c9c" />
<rect x="378.1" y="285.4" width="0.9" height="0.45" fill="#9c9c9c" />
<rect x="386.5" y="271.6" width="0.8" height="0.45" fill="#9c9c9c" />
<rect x="378.7" y="257.1" width="0.8" height="0.45" fill="#9c9c9c" />
<rect x="379.8" y="255.1" width="1.4" height="0.45" fill="#9c9c9c" />
<rect x="355.9" y="243.9" width="1.4" height="0.45" fill="#9c9c9c" />
<rect x="384.5" y="273.1" width="0.9" height="0.45" fill="#9c9c9c" />
<rect x="383.0" y="265.9" width="1.2" height="0.45" fill="#9c9c9c" />
<rect x="383.8" y="266.7" width="1.3" height="0.45" fill="#9c9c9c" />
<rect x="374.8" y="250.5" width="1.3" height="0.45" fill="#9c9c9c" />
<line x1="341.6" y1="242.6" x2="342.3" y2="247.6" stroke="#b2b2b2" stroke-width="0.35" />
<line x1="335.3" y1="241.3" x2="337.0" y2="246.5" stroke="#b2b2b2" stroke-width="0.35" />
<line x1="328.0" y1="241.5" x2="330.9" y2="246.7" stroke="#b2b2b2" stroke-width="0.35" />
<line x1="321.2" y1="243.7" x2="325.2" y2="248.5" stroke="#b2b2b2" stroke-width="0.35" />
<line x1="315.3" y1="247.4" x2="320.2" y2="251.6" stroke="#b2b2b2" stroke-width="0.35" />
<line x1="310.2" y1="252.7" x2="315.9" y2="256.1" stroke="#b2b2b2" stroke-width="0.35" />
<line x1="306.4" y1="259.6" x2="312.7" y2="261.8" stroke="#b2b2b2" stroke-width="0.35" />
<line x1="303.8" y1="267.5" x2="310.6" y2="268.5" stroke="#b2b2b2" stroke-width="0.35" />
<line x1="304.7" y1="276.0" x2="311.3" y2="275.6" stroke="#b2b2b2" stroke-width="0.35" />
<line x1="308.5" y1="282.9" x2="314.5" y2="281.4" stroke="#b2b2b2" stroke-width="0.35" />
<rect x="328.1" y="245.7" width="1.1" height="0.45" fill="#9c9c9c" />
<rect x="313.9" y="251.6" width="0.9" height="0.45" fill="#9c9c9c" />
<rect x="320.3" y="250.0" width="1.0" height="0.45" fill="#9c9c9c" />
<rect x="323.2" y="246.6" width="1.2" height="0.45" fill="#9c9c9c" />
<rect x="341.8" y="243.5" width="1.2" height="0.45" fill="#9c9c9c" />
<rect x="307.9" y="275.9" width="1.1" height="0.45" fill="#9c9c9c" />
<rect x="316.9" y="251.1" width="0.9" height="0.45" fill="#9c9c9c" />
<rect x="324.3" y="246.7" width="0.9" height="0.45" fill="#9c9c9c" />
<rect x="309.8" y="281.4" width="1.1" height="0.45" fill="#9c9c9c" />
<rect x="342.9" y="246.2" width="1.1" height="0.45" fill="#9c9c9c" />
<rect x="307.5" y="268.9" width="1.1" height="0.45" fill="#9c9c9c" />
<rect x="311.8" y="280.9" width="1.0" height="0.45" fill="#9c9c9c" />
<rect x="308.1" y="272.8" width="1.2" height="0.45" fill="#9c9c9c" />
<rect x="318.8" y="251.3" width="1.0" height="0.45" fill="#9c9c9c" />
<rect x="340.2" y="243.6" width="1.3" height="0.45" fill="#9c9c9c" />
<rect x="309.0" y="258.2" width="0.8" height="0.45" fill="#9c9c9c" />
<rect x="315.7" y="253.9" width="0.7" height="0.45" fill="#9c9c9c" />
<rect x="310.1" y="276.6" width="1.4" height="0.45" fill="#9c9c9c" />
<rect x="308.9" y="260.5" width="0.7" height="0.45" fill="#9c9c9c" />
<rect x="309.9" y="281.4" width="0.8" height="0.45" fill="#9c9c9c" />
<rect x="332.8" y="245.0" width="1.1" height="0.45" fill="#9c9c9c" />
<rect x="339.4" y="243.4" width="1.0" height="0.45" fill="#9c9c9c" />
<ellipse cx="361.2" cy="270.7" rx="9.3" ry="10.6" fill="none" stroke="#b8b8b8" stroke-width="0.35"/>
<circle cx="360.0" cy="266.1" r="0.5" fill="none" stroke="#a8a8a8" stroke-width="0.3"/>
<circle cx="357.9" cy="265.4" r="0.5" fill="none" stroke="#a8a8a8" stroke-width="0.3"/>
<circle cx="357.9" cy="265.8" r="0.5" fill="none" stroke="#a8a8a8" stroke-width="0.3"/>
<circle cx="369.0" cy="270.1" r="0.5" fill="none" stroke="#a8a8a8" stroke-width="0.3"/>
<circle cx="363.7" cy="265.8" r="0.5" fill="none" stroke="#a8a8a8" stroke-width="0.3"/>
<circle cx="362.4" cy="274.2" r="0.5" fill="none" stroke="#a8a8a8" stroke-width="0.3"/>
<circle cx="366.9" cy="277.6" r="0.5" fill="none" stroke="#a8a8a8" stroke-width="0.3"/>
<circle cx="359.6" cy="279.4" r="0.5" fill="none" stroke="#a8a8a8" stroke-width="0.3"/>
<circle cx="362.0" cy="278.1" r="0.5" fill="none" stroke="#a8a8a8" stroke-width="0.3"/>
<circle cx="361.2" cy="276.0" r="0.5" fill="none" stroke="#a8a8a8" stroke-width="0.3"/>
<circle cx="361.1" cy="263.2" r="0.5" fill="none" stroke="#a8a8a8" stroke-width="0.3"/>
<circle cx="365.1" cy="269.1" r="0.5" fill="none" stroke="#a8a8a8" stroke-width="0.3"/>
<circle cx="360.9" cy="273.1" r="0.5" fill="none" stroke="#a8a8a8" stroke-width="0.3"/>
<circle cx="363.1" cy="279.9" r="0.5" fill="none" stroke="#a8a8a8" stroke-width="0.3"/>
<circle cx="355.8" cy="268.1" r="0.5" fill="none" stroke="#a8a8a8" stroke-width="0.3"/>
<circle cx="357.2" cy="277.7" r="0.5" fill="none" stroke="#a8a8a8" stroke-width="0.3"/>
<circle cx="359.9" cy="267.2" r="0.5" fill="none" stroke="#a8a8a8" stroke-width="0.3"/>
<circle cx="364.6" cy="271.8" r="0.5" fill="none" stroke="#a8a8a8" stroke-width="0.3"/>
<circle cx="364.2" cy="263.2" r="0.5" fill="none" stroke="#a8a8a8" stroke-width="0.3"/>
<circle cx="361.8" cy="275.2" r="0.5" fill="none" stroke="#a8a8a8" stroke-width="0.3"/>
<circle cx="358.7" cy="278.0" r="0.5" fill="none" stroke="#a8a8a8" stroke-width="0.3"/>
<circle cx="361.1" cy="266.0" r="0.5" fill="none" stroke="#a8a8a8" stroke-width="0.3"/>
<circle cx="359.2" cy="274.8" r="0.5" fill="none" stroke="#a8a8a8" stroke-width="0.3"/>
<circle cx="367.1" cy="268.3" r="0.5" fill="none" stroke="#a8a8a8" stroke-width="0.3"/>
<circle cx="365.1" cy="268.9" r="0.5" fill="none" stroke="#a8a8a8" stroke-width="0.3"/>
<circle cx="356.9" cy="265.4" r="0.5" fill="none" stroke="#a8a8a8" stroke-width="0.3"/>
<path d="M348.0,286.1 Q367.1,292.4 379.0,282.3" fill="none" stroke="#b0b0b0" stroke-width="0.35"/>
<path d="M351.0,256.9 Q354.4,278.1 350.1,287.6" fill="none" stroke="#b8b8b8" stroke-width="0.35"/>
<path d="M371.4,280.8 Q377.8,270.1 373.9,261.1" fill="none" stroke="#b8b8b8" stroke-width="0.35"/>
<ellipse cx="330.6" cy="270.7" rx="9.3" ry="10.6" fill="none" stroke="#b8b8b8" stroke-width="0.35"/>
<circle cx="335.3" cy="268.3" r="0.5" fill="none" stroke="#a8a8a8" stroke-width="0.3"/>
<circle cx="331.6" cy="279.2" r="0.5" fill="none" stroke="#a8a8a8" stroke-width="0.3"/>
<circle cx="336.4" cy="268.7" r="0.5" fill="none" stroke="#a8a8a8" stroke-width="0.3"/>
<circle cx="329.4" cy="273.1" r="0.5" fill="none" stroke="#a8a8a8" stroke-width="0.3"/>
<circle cx="322.9" cy="273.8" r="0.5" fill="none" stroke="#a8a8a8" stroke-width="0.3"/>
<circle cx="327.1" cy="275.7" r="0.5" fill="none" stroke="#a8a8a8" stroke-width="0.3"/>
<circle cx="326.8" cy="268.9" r="0.5" fill="none" stroke="#a8a8a8" stroke-width="0.3"/>
<circle cx="335.4" cy="275.0" r="0.5" fill="none" stroke="#a8a8a8" stroke-width="0.3"/>
<circle cx="338.4" cy="268.8" r="0.5" fill="none" stroke="#a8a8a8" stroke-width="0.3"/>
<circle cx="328.2" cy="278.7" r="0.5" fill="none" stroke="#a8a8a8" stroke-width="0.3"/>
<circle cx="333.8" cy="264.3" r="0.5" fill="none" stroke="#a8a8a8" stroke-width="0.3"/>
<circle cx="328.2" cy="273.9" r="0.5" fill="none" stroke="#a8a8a8" stroke-width="0.3"/>
<circle cx="328.6" cy="263.1" r="0.5" fill="none" stroke="#a8a8a8" stroke-width="0.3"/>
<circle cx="331.3" cy="274.2" r="0.5" fill="none" stroke="#a8a8a8" stroke-width="0.3"/>
<circle cx="336.4" cy="276.4" r="0.5" fill="none" stroke="#a8a8a8" stroke-width="0.3"/>
<circle cx="335.2" cy="266.1" r="0.5" fill="none" stroke="#a8a8a8" stroke-width="0.3"/>
<circle cx="325.1" cy="265.5" r="0.5" fill="none" stroke="#a8a8a8" stroke-width="0.3"/>
<circle cx="334.0" cy="276.4" r="0.5" fill="none" stroke="#a8a8a8" stroke-width="0.3"/>
<circle cx="323.1" cy="273.5" r="0.5" fill="none" stroke="#a8a8a8" stroke-width="0.3"/>
<circle cx="334.6" cy="278.2" r="0.5" fill="none" stroke="#a8a8a8" stroke-width="0.3"/>
<circle cx="334.8" cy="276.5" r="0.5" fill="none" stroke="#a8a8a8" stroke-width="0.3"/>
<circle cx="332.4" cy="269.0" r="0.5" fill="none" stroke="#a8a8a8" stroke-width="0.3"/>
<circle cx="330.0" cy="270.7" r="0.5" fill="none" stroke="#a8a8a8" stroke-width="0.3"/>
<circle cx="324.7" cy="270.3" r="0.5" fill="none" stroke="#a8a8a8" stroke-width="0.3"/>
<circle cx="336.3" cy="269.0" r="0.5" fill="none" stroke="#a8a8a8" stroke-width="0.3"/>
<circle cx="336.7" cy="266.3" r="0.5" fill="none" stroke="#a8a8a8" stroke-width="0.3"/>
<path d="M343.8,286.1 Q324.6,292.4 312.8,282.3" fill="none" stroke="#b0b0b0" stroke-width="0.35"/>
<path d="M340.8,256.9 Q337.4,278.1 341.6,287.6" fill="none" stroke="#b8b8b8" stroke-width="0.35"/>
<path d="M320.4,280.8 Q314.0,270.1 317.8,261.1" fill="none" stroke="#b8b8b8" stroke-width="0.35"/>
<line x1="345.9" y1="244.7" x2="345.9" y2="290.3" stroke="#bcbcbc" stroke-width="0.35" />
<path d="M348.4,275.9 A15.3,19.1 0 0 1 379.1,275.9" fill="none" stroke="#a0a0a0" stroke-width="0.4"/>
<path d="M351.0,274.9 A12.8,15.9 0 0 1 376.5,274.9" fill="none" stroke="#b0b0b0" stroke-width="0.4"/>
<path d="M354.4,273.6 A9.3,11.7 0 0 1 373.1,273.6" fill="none" stroke="#a8a8a8" stroke-width="0.4"/>
<path d="M351.0,276.5 Q363.8,287.1 376.5,276.5" fill="none" stroke="#a8a8a8" stroke-width="0.4"/>
<path d="M312.7,275.9 A15.3,19.1 0 0 1 343.3,275.9" fill="none" stroke="#a0a0a0" stroke-width="0.4"/>
<path d="M315.3,274.9 A12.8,15.9 0 0 1 340.8,274.9" fill="none" stroke="#b0b0b0" stroke-width="0.4"/>
<path d="M318.7,273.6 A9.3,11.7 0 0 1 337.4,273.6" fill="none" stroke="#a8a8a8" stroke-width="0.4"/>
<path d="M315.3,276.5 Q328.0,287.1 340.8,276.5" fill="none" stroke="#a8a8a8" stroke-width="0.4"/>
<rect x="363.9" y="266.3" width="0.8" height="0.45" fill="#a0a0a0" />
<rect x="353.1" y="258.1" width="1.2" height="0.45" fill="#a0a0a0" />
<rect x="329.0" y="275.1" width="1.3" height="0.45" fill="#a0a0a0" />
<rect x="370.2" y="261.2" width="0.8" height="0.45" fill="#a0a0a0" />
<rect x="341.7" y="287.8" width="0.9" height="0.45" fill="#a0a0a0" />
<rect x="344.6" y="267.4" width="0.7" height="0.45" fill="#a0a0a0" />
<rect x="348.0" y="264.8" width="1.1" height="0.45" fill="#a0a0a0" />
<rect x="358.5" y="277.2" width="0.9" height="0.45" fill="#a0a0a0" />
<rect x="353.7" y="272.7" width="1.3" height="0.45" fill="#a0a0a0" />
<rect x="319.7" y="263.9" width="1.2" height="0.45" fill="#a0a0a0" />
<rect x="348.9" y="271.6" width="1.1" height="0.45" fill="#a0a0a0" />
<rect x="352.1" y="279.6" width="1.4" height="0.45" fill="#a0a0a0" />
<rect x="360.6" y="285.5" width="1.2" height="0.45" fill="#a0a0a0" />
<rect x="328.6" y="267.0" width="1.4" height="0.45" fill="#a0a0a0" />
<rect x="360.2" y="275.6" width="0.8" height="0.45" fill="#a0a0a0" />
<rect x="328.0" y="276.8" width="1.0" height="0.45" fill="#a0a0a0" />
<rect x="329.4" y="287.7" width="0.9" height="0.45" fill="#a0a0a0" />
<rect x="368.4" y="275.7" width="1.5" height="0.45" fill="#a0a0a0" />
<rect x="360.4" y="261.2" width="0.9" height="0.45" fill="#a0a0a0" />
<rect x="365.0" y="269.2" width="1.1" height="0.45" fill="#a0a0a0" />
<rect x="358.9" y="275.0" width="1.3" height="0.45" fill="#a0a0a0" />
<rect x="347.0" y="263.7" width="1.3" height="0.45" fill="#a0a0a0" />
<rect x="326.2" y="279.2" width="1.3" height="0.45" fill="#a0a0a0" />
<rect x="327.0" y="254.3" width="1.4" height="0.45" fill="#a0a0a0" />
<rect x="329.4" y="272.6" width="0.9" height="0.45" fill="#a0a0a0" />
<rect x="326.8" y="263.1" width="0.8" height="0.45" fill="#a0a0a0" />
<rect x="364.2" y="280.8" width="1.3" height="0.45" fill="#a0a0a0" />
<rect x="327.3" y="265.4" width="0.8" height="0.45" fill="#a0a0a0" />
<rect x="364.3" y="287.8" width="1.5" height="0.45" fill="#a0a0a0" />
<rect x="364.0" y="275.4" width="1.1" height="0.45" fill="#a0a0a0" />
<rect x="325.6" y="255.4" width="1.2" height="0.45" fill="#a0a0a0" />
<rect x="370.2" y="288.0" width="1.0" height="0.45" fill="#a0a0a0" />
<rect x="347.0" y="284.6" width="0.9" height="0.45" fill="#a0a0a0" />
<rect x="358.2" y="274.9" width="1.0" height="0.45" fill="#a0a0a0" />
<rect x="340.1" y="259.7" width="0.8" height="0.45" fill="#a0a0a0" />
<rect x="335.2" y="288.3" width="1.4" height="0.45" fill="#a0a0a0" />
<rect x="320.0" y="280.3" width="0.8" height="0.45" fill="#a0a0a0" />
<rect x="349.9" y="286.0" width="1.4" height="0.45" fill="#a0a0a0" />
<rect x="366.3" y="288.5" width="1.2" height="0.45" fill="#a0a0a0" />
<rect x="321.2" y="263.0" width="1.2" height="0.45" fill="#a0a0a0" />
<rect x="350.9" y="285.7" width="0.8" height="0.45" fill="#a0a0a0" />
<rect x="366.3" y="274.2" width="1.2" height="0.45" fill="#a0a0a0" />
<rect x="325.9" y="266.5" width="1.1" height="0.45" fill="#a0a0a0" />
<rect x="359.3" y="277.7" width="1.2" height="0.45" fill="#a0a0a0" />
<rect x="357.0" y="266.4" width="1.0" height="0.45" fill="#a0a0a0" />
<path d="M344.50,246.00 C344.50,244.83 345.75,243.30 347.00,242.50 C348.25,241.70 349.50,241.45 352.00,241.20 C354.50,240.95 358.67,240.62 362.00,241.00 C365.33,241.38 368.92,241.92 372.00,243.50 C375.08,245.08 378.20,247.78 380.50,250.50 C382.80,253.22 384.67,256.58 385.80,259.80 C386.93,263.02 387.27,266.68 387.30,269.80 C387.33,272.92 386.88,275.80 386.00,278.50 C385.12,281.20 383.83,284.03 382.00,286.00 C380.17,287.97 377.67,289.47 375.00,290.30 C372.33,291.13 368.67,291.13 366.00,291.00 C363.33,290.87 360.58,290.25 359.00,289.50 C357.42,288.75 356.67,287.50 356.50,286.50 C356.33,285.50 356.75,283.88 358.00,283.50 C359.25,283.12 362.00,284.20 364.00,284.20 C366.00,284.20 369.67,284.20 370.00,283.50 C370.33,282.80 367.67,281.08 366.00,280.00 C364.33,278.92 361.58,278.33 360.00,277.00 C358.42,275.67 357.33,273.83 356.50,272.00 C355.67,270.17 354.92,268.00 355.00,266.00 C355.08,264.00 357.08,261.83 357.00,260.00 C356.92,258.17 355.67,256.50 354.50,255.00 C353.33,253.50 351.25,251.92 350.00,251.00 C348.75,250.08 347.92,250.33 347.00,249.50 C346.08,248.67 344.50,247.17 344.50,246.00Z" fill="#00aeef" />
<path d="M352.00,242.50 C353.08,241.13 358.67,241.47 362.00,241.80 C365.33,242.13 368.92,242.88 372.00,244.50 C375.08,246.12 378.28,248.92 380.50,251.50 C382.72,254.08 384.32,256.92 385.30,260.00 C386.28,263.08 386.45,267.00 386.40,270.00 C386.35,273.00 385.90,275.45 385.00,278.00 C384.10,280.55 382.75,283.47 381.00,285.30 C379.25,287.13 376.25,288.72 374.50,289.00 C372.75,289.28 370.67,288.00 370.50,287.00 C370.33,286.00 373.25,284.67 373.50,283.00 C373.75,281.33 373.25,278.50 372.00,277.00 C370.75,275.50 367.83,275.25 366.00,274.00 C364.17,272.75 362.08,271.33 361.00,269.50 C359.92,267.67 359.92,265.08 359.50,263.00 C359.08,260.92 359.17,259.17 358.50,257.00 C357.83,254.83 356.58,252.42 355.50,250.00 C354.42,247.58 350.92,243.87 352.00,242.50Z" fill="#00a651" />
<path d="M354.00,242.30 C354.67,241.47 358.00,241.30 360.00,242.00 C362.00,242.70 364.00,244.83 366.00,246.50 C368.00,248.17 370.17,250.17 372.00,252.00 C373.83,253.83 375.58,255.83 377.00,257.50 C378.42,259.17 379.83,260.25 380.50,262.00 C381.17,263.75 381.42,266.67 381.00,268.00 C380.58,269.33 379.33,270.67 378.00,270.00 C376.67,269.33 375.00,266.00 373.00,264.00 C371.00,262.00 368.17,260.08 366.00,258.00 C363.83,255.92 361.67,253.33 360.00,251.50 C358.33,249.67 357.00,248.53 356.00,247.00 C355.00,245.47 353.33,243.13 354.00,242.30Z" fill="#8dc63f" />
<path d="M380.00,266.00 C381.05,264.17 384.93,264.17 385.80,266.00 C386.67,267.83 385.92,273.92 385.20,277.00 C384.48,280.08 382.70,282.92 381.50,284.50 C380.30,286.08 378.33,287.75 378.00,286.50 C377.67,285.25 379.17,280.42 379.50,277.00 C379.83,273.58 378.95,267.83 380.00,266.00Z" fill="#8dc63f" />
<path d="M362.00,258.60 C362.58,257.68 364.83,256.43 366.00,256.50 C367.17,256.57 369.00,258.00 369.00,259.00 C369.00,260.00 367.08,262.00 366.00,262.50 C364.92,263.00 363.17,262.65 362.50,262.00 C361.83,261.35 361.42,259.52 362.00,258.60Z" fill="#00aeef" />
<path d="M368.00,266.00 C368.67,265.08 371.00,264.17 372.00,264.50 C373.00,264.83 374.17,266.83 374.00,268.00 C373.83,269.17 372.00,271.17 371.00,271.50 C370.00,271.83 368.50,270.92 368.00,270.00 C367.50,269.08 367.33,266.92 368.00,266.00Z" fill="#00aeef" />
<path d="M362.50,264.00 C362.92,263.33 365.25,262.70 366.00,263.00 C366.75,263.30 367.42,265.13 367.00,265.80 C366.58,266.47 364.25,267.30 363.50,267.00 C362.75,266.70 362.08,264.67 362.50,264.00Z" fill="#8dc63f" />
<path d="M357.50,242.00 C357.58,240.85 360.42,240.93 361.50,241.60 C362.58,242.27 364.08,244.85 364.00,246.00 C363.92,247.15 362.08,249.17 361.00,248.50 C359.92,247.83 357.42,243.15 357.50,242.00Z" fill="#fff200" />
<path d="M362.00,241.60 C362.92,240.65 368.58,242.40 371.50,243.80 C374.42,245.20 378.58,248.38 379.50,250.00 C380.42,251.62 378.42,252.83 377.00,253.50 C375.58,254.17 372.83,254.67 371.00,254.00 C369.17,253.33 367.50,251.57 366.00,249.50 C364.50,247.43 361.08,242.55 362.00,241.60Z" fill="#ec008c" />
<path d="M371.00,253.00 C371.58,251.55 377.25,249.22 379.50,249.80 C381.75,250.38 383.38,254.30 384.50,256.50 C385.62,258.70 386.70,261.83 386.20,263.00 C385.70,264.17 383.20,264.25 381.50,263.50 C379.80,262.75 377.75,260.25 376.00,258.50 C374.25,256.75 370.42,254.45 371.00,253.00Z" fill="#ed1c24" />
<path d="M377.00,257.00 C377.33,256.08 380.20,257.25 381.50,258.50 C382.80,259.75 384.63,262.58 384.80,264.50 C384.97,266.42 383.38,270.08 382.50,270.00 C381.62,269.92 380.42,266.17 379.50,264.00 C378.58,261.83 376.67,257.92 377.00,257.00Z" fill="#fff200" />
<path d="M383.00,262.00 C383.40,260.58 386.22,262.58 386.90,264.00 C387.58,265.42 387.50,269.08 387.10,270.50 C386.70,271.92 385.18,273.92 384.50,272.50 C383.82,271.08 382.60,263.42 383.00,262.00Z" fill="#f7941d" />
<path d="M310.60,270.08 C312.14,270.08 313.17,268.01 315.22,267.38 C317.27,266.75 320.35,266.21 322.92,266.30 C325.49,266.39 328.05,266.84 330.62,267.92 C333.19,269.00 336.01,270.62 338.32,272.78 C340.63,274.94 342.88,278.09 344.48,280.88 C346.08,283.67 347.18,287.00 347.95,289.52 C348.72,292.04 349.16,293.66 349.10,296.00 C349.04,298.34 348.46,301.22 347.56,303.56 C346.66,305.90 345.38,308.15 343.71,310.04 C342.04,311.93 339.86,313.55 337.55,314.90 C335.24,316.25 332.42,317.33 329.85,318.14 C327.28,318.95 324.52,319.67 322.15,319.76 C319.78,319.85 317.53,319.22 315.61,318.68 C313.68,318.14 312.27,316.52 310.60,316.52 C308.93,316.52 307.52,318.14 305.60,318.68 C303.67,319.22 301.42,319.85 299.05,319.76 C296.68,319.67 293.92,318.95 291.35,318.14 C288.78,317.33 285.96,316.25 283.65,314.90 C281.34,313.55 279.16,311.93 277.49,310.04 C275.82,308.15 274.54,305.90 273.64,303.56 C272.74,301.22 272.16,298.34 272.10,296.00 C272.04,293.66 272.49,292.04 273.25,289.52 C274.02,287.00 275.12,283.67 276.72,280.88 C278.32,278.09 280.57,274.94 282.88,272.78 C285.19,270.62 288.01,269.00 290.58,267.92 C293.15,266.84 295.71,266.39 298.28,266.30 C300.85,266.21 303.93,266.75 305.98,267.38 C308.03,268.01 309.06,270.08 310.60,270.08Z" fill="#fff" stroke="#8a8a8a" stroke-width="0.55"/>
<path d="M310.60,274.83 C311.25,274.45 312.76,273.09 314.48,272.56 C316.21,272.03 318.79,271.58 320.95,271.66 C323.10,271.73 325.26,272.11 327.42,273.02 C329.57,273.92 331.94,275.29 333.88,277.10 C335.83,278.91 337.71,281.56 339.06,283.90 C340.41,286.25 341.32,289.04 341.97,291.16 C342.62,293.28 342.99,294.64 342.94,296.60 C342.89,298.57 342.40,300.99 341.65,302.96 C340.89,304.92 338.95,307.49 338.41,308.40" fill="none" stroke="#a4a4a4" stroke-width="0.45"/>
<path d="M282.79,308.40 C282.25,307.49 280.31,304.92 279.55,302.96 C278.80,300.99 278.31,298.57 278.26,296.60 C278.21,294.64 278.58,293.28 279.23,291.16 C279.88,289.04 280.79,286.25 282.14,283.90 C283.49,281.56 285.37,278.91 287.32,277.10 C289.26,275.29 291.63,273.92 293.78,273.02 C295.94,272.11 298.10,271.73 300.25,271.66 C302.41,271.58 304.99,272.03 306.72,272.56 C308.44,273.09 309.95,274.45 310.60,274.83" fill="none" stroke="#a4a4a4" stroke-width="0.45"/>
<path d="M310.60,278.40 C311.15,278.07 312.45,276.91 313.93,276.45 C315.40,276.00 317.62,275.61 319.47,275.67 C321.32,275.74 323.17,276.06 325.01,276.84 C326.86,277.62 328.90,278.78 330.56,280.34 C332.22,281.90 333.84,284.16 334.99,286.17 C336.15,288.18 336.93,290.58 337.49,292.39 C338.04,294.21 338.37,295.37 338.32,297.06 C338.27,298.74 337.86,300.82 337.21,302.50 C336.56,304.19 334.90,306.39 334.44,307.17" fill="none" stroke="#999999" stroke-width="0.5"/>
<path d="M286.76,307.17 C286.30,306.39 284.64,304.19 283.99,302.50 C283.34,300.82 282.93,298.74 282.88,297.06 C282.83,295.37 283.16,294.21 283.71,292.39 C284.27,290.58 285.05,288.18 286.21,286.17 C287.36,284.16 288.98,281.90 290.64,280.34 C292.30,278.78 294.34,277.62 296.19,276.84 C298.03,276.06 299.88,275.74 301.73,275.67 C303.58,275.61 305.80,276.00 307.27,276.45 C308.75,276.91 310.05,278.07 310.60,278.40" fill="none" stroke="#999999" stroke-width="0.5"/>
<path d="M310.60,279.58 C311.12,279.28 312.35,278.18 313.74,277.75 C315.14,277.32 317.23,276.95 318.98,277.01 C320.72,277.07 322.47,277.38 324.21,278.12 C325.96,278.85 327.88,279.95 329.45,281.42 C331.02,282.89 332.55,285.03 333.64,286.93 C334.73,288.83 335.47,291.09 335.99,292.80 C336.52,294.52 336.82,295.62 336.78,297.21 C336.74,298.80 336.34,300.76 335.73,302.35 C335.12,303.94 333.55,306.02 333.11,306.76" fill="none" stroke="#b4b4b4" stroke-width="0.4"/>
<path d="M288.09,306.76 C287.65,306.02 286.08,303.94 285.47,302.35 C284.86,300.76 284.46,298.80 284.42,297.21 C284.38,295.62 284.68,294.52 285.21,292.80 C285.73,291.09 286.47,288.83 287.56,286.93 C288.65,285.03 290.18,282.89 291.75,281.42 C293.32,279.95 295.24,278.85 296.99,278.12 C298.73,277.38 300.48,277.07 302.22,277.01 C303.97,276.95 306.06,277.32 307.46,277.75 C308.85,278.18 310.08,279.28 310.60,279.58" fill="none" stroke="#b4b4b4" stroke-width="0.4"/>
<line x1="314.5" y1="267.9" x2="313.8" y2="273.0" stroke="#b2b2b2" stroke-width="0.35" />
<line x1="320.2" y1="266.6" x2="318.7" y2="271.9" stroke="#b2b2b2" stroke-width="0.35" />
<line x1="326.8" y1="266.8" x2="324.2" y2="272.1" stroke="#b2b2b2" stroke-width="0.35" />
<line x1="332.9" y1="269.0" x2="329.4" y2="273.9" stroke="#b2b2b2" stroke-width="0.35" />
<line x1="338.3" y1="272.8" x2="333.9" y2="277.1" stroke="#b2b2b2" stroke-width="0.35" />
<line x1="342.9" y1="278.2" x2="337.8" y2="281.6" stroke="#b2b2b2" stroke-width="0.35" />
<line x1="346.4" y1="285.2" x2="340.7" y2="287.5" stroke="#b2b2b2" stroke-width="0.35" />
<line x1="348.7" y1="293.3" x2="342.6" y2="294.3" stroke="#b2b2b2" stroke-width="0.35" />
<line x1="347.9" y1="301.9" x2="342.0" y2="301.6" stroke="#b2b2b2" stroke-width="0.35" />
<line x1="344.5" y1="309.0" x2="339.1" y2="307.5" stroke="#b2b2b2" stroke-width="0.35" />
<rect x="343.2" y="308.6" width="1.3" height="0.45" fill="#9c9c9c" />
<rect x="316.7" y="269.4" width="1.0" height="0.45" fill="#9c9c9c" />
<rect x="341.3" y="285.2" width="0.8" height="0.45" fill="#9c9c9c" />
<rect x="338.1" y="279.3" width="1.0" height="0.45" fill="#9c9c9c" />
<rect x="313.5" y="272.0" width="1.2" height="0.45" fill="#9c9c9c" />
<rect x="337.8" y="277.1" width="1.2" height="0.45" fill="#9c9c9c" />
<rect x="333.1" y="275.0" width="1.2" height="0.45" fill="#9c9c9c" />
<rect x="344.9" y="288.6" width="1.1" height="0.45" fill="#9c9c9c" />
<rect x="339.3" y="310.1" width="1.2" height="0.45" fill="#9c9c9c" />
<rect x="335.0" y="273.9" width="1.2" height="0.45" fill="#9c9c9c" />
<rect x="330.4" y="273.2" width="1.0" height="0.45" fill="#9c9c9c" />
<rect x="346.3" y="296.0" width="1.0" height="0.45" fill="#9c9c9c" />
<rect x="344.1" y="292.3" width="0.8" height="0.45" fill="#9c9c9c" />
<rect x="332.7" y="271.4" width="0.8" height="0.45" fill="#9c9c9c" />
<rect x="318.2" y="270.8" width="0.7" height="0.45" fill="#9c9c9c" />
<rect x="329.0" y="270.2" width="1.3" height="0.45" fill="#9c9c9c" />
<rect x="332.1" y="273.0" width="0.9" height="0.45" fill="#9c9c9c" />
<rect x="331.3" y="270.7" width="1.1" height="0.45" fill="#9c9c9c" />
<rect x="327.1" y="271.5" width="1.2" height="0.45" fill="#9c9c9c" />
<rect x="347.1" y="295.3" width="0.9" height="0.45" fill="#9c9c9c" />
<rect x="344.6" y="285.0" width="1.1" height="0.45" fill="#9c9c9c" />
<rect x="339.9" y="308.9" width="1.4" height="0.45" fill="#9c9c9c" />
<line x1="306.8" y1="267.9" x2="307.4" y2="273.0" stroke="#b2b2b2" stroke-width="0.35" />
<line x1="301.0" y1="266.6" x2="302.5" y2="271.9" stroke="#b2b2b2" stroke-width="0.35" />
<line x1="294.4" y1="266.8" x2="297.0" y2="272.1" stroke="#b2b2b2" stroke-width="0.35" />
<line x1="288.3" y1="269.0" x2="291.8" y2="273.9" stroke="#b2b2b2" stroke-width="0.35" />
<line x1="282.9" y1="272.8" x2="287.3" y2="277.1" stroke="#b2b2b2" stroke-width="0.35" />
<line x1="278.3" y1="278.2" x2="283.4" y2="281.6" stroke="#b2b2b2" stroke-width="0.35" />
<line x1="274.8" y1="285.2" x2="280.5" y2="287.5" stroke="#b2b2b2" stroke-width="0.35" />
<line x1="272.5" y1="293.3" x2="278.6" y2="294.3" stroke="#b2b2b2" stroke-width="0.35" />
<line x1="273.3" y1="301.9" x2="279.2" y2="301.6" stroke="#b2b2b2" stroke-width="0.35" />
<line x1="276.7" y1="309.0" x2="282.1" y2="307.5" stroke="#b2b2b2" stroke-width="0.35" />
<rect x="306.4" y="270.2" width="0.7" height="0.45" fill="#9c9c9c" />
<rect x="275.6" y="301.8" width="1.4" height="0.45" fill="#9c9c9c" />
<rect x="274.6" y="301.6" width="1.1" height="0.45" fill="#9c9c9c" />
<rect x="281.6" y="311.3" width="0.9" height="0.45" fill="#9c9c9c" />
<rect x="282.1" y="310.3" width="0.8" height="0.45" fill="#9c9c9c" />
<rect x="305.1" y="269.9" width="0.8" height="0.45" fill="#9c9c9c" />
<rect x="278.3" y="309.1" width="0.9" height="0.45" fill="#9c9c9c" />
<rect x="303.3" y="269.4" width="0.8" height="0.45" fill="#9c9c9c" />
<rect x="277.1" y="285.0" width="0.9" height="0.45" fill="#9c9c9c" />
<rect x="282.2" y="276.2" width="1.0" height="0.45" fill="#9c9c9c" />
<rect x="287.1" y="271.9" width="1.3" height="0.45" fill="#9c9c9c" />
<rect x="277.9" y="306.7" width="1.0" height="0.45" fill="#9c9c9c" />
<rect x="274.2" y="294.6" width="1.1" height="0.45" fill="#9c9c9c" />
<rect x="295.0" y="270.6" width="1.0" height="0.45" fill="#9c9c9c" />
<rect x="275.6" y="299.4" width="1.1" height="0.45" fill="#9c9c9c" />
<rect x="278.0" y="302.7" width="1.1" height="0.45" fill="#9c9c9c" />
<rect x="288.6" y="272.5" width="1.3" height="0.45" fill="#9c9c9c" />
<rect x="293.2" y="268.6" width="0.8" height="0.45" fill="#9c9c9c" />
<rect x="277.5" y="286.8" width="0.9" height="0.45" fill="#9c9c9c" />
<rect x="277.8" y="286.8" width="1.0" height="0.45" fill="#9c9c9c" />
<rect x="277.1" y="296.3" width="1.0" height="0.45" fill="#9c9c9c" />
<rect x="277.3" y="300.3" width="1.3" height="0.45" fill="#9c9c9c" />
<ellipse cx="324.5" cy="296.5" rx="8.5" ry="10.8" fill="none" stroke="#b8b8b8" stroke-width="0.35"/>
<circle cx="326.3" cy="304.2" r="0.5" fill="none" stroke="#a8a8a8" stroke-width="0.3"/>
<circle cx="326.9" cy="302.3" r="0.5" fill="none" stroke="#a8a8a8" stroke-width="0.3"/>
<circle cx="322.5" cy="297.8" r="0.5" fill="none" stroke="#a8a8a8" stroke-width="0.3"/>
<circle cx="322.8" cy="290.1" r="0.5" fill="none" stroke="#a8a8a8" stroke-width="0.3"/>
<circle cx="322.3" cy="289.9" r="0.5" fill="none" stroke="#a8a8a8" stroke-width="0.3"/>
<circle cx="319.2" cy="294.1" r="0.5" fill="none" stroke="#a8a8a8" stroke-width="0.3"/>
<circle cx="322.3" cy="305.3" r="0.5" fill="none" stroke="#a8a8a8" stroke-width="0.3"/>
<circle cx="330.6" cy="301.2" r="0.5" fill="none" stroke="#a8a8a8" stroke-width="0.3"/>
<circle cx="328.0" cy="291.3" r="0.5" fill="none" stroke="#a8a8a8" stroke-width="0.3"/>
<circle cx="325.5" cy="288.7" r="0.5" fill="none" stroke="#a8a8a8" stroke-width="0.3"/>
<circle cx="321.2" cy="293.3" r="0.5" fill="none" stroke="#a8a8a8" stroke-width="0.3"/>
<circle cx="322.5" cy="301.7" r="0.5" fill="none" stroke="#a8a8a8" stroke-width="0.3"/>
<circle cx="322.0" cy="305.6" r="0.5" fill="none" stroke="#a8a8a8" stroke-width="0.3"/>
<circle cx="321.9" cy="301.6" r="0.5" fill="none" stroke="#a8a8a8" stroke-width="0.3"/>
<circle cx="318.4" cy="300.8" r="0.5" fill="none" stroke="#a8a8a8" stroke-width="0.3"/>
<circle cx="318.8" cy="297.6" r="0.5" fill="none" stroke="#a8a8a8" stroke-width="0.3"/>
<circle cx="324.3" cy="301.7" r="0.5" fill="none" stroke="#a8a8a8" stroke-width="0.3"/>
<circle cx="327.5" cy="298.9" r="0.5" fill="none" stroke="#a8a8a8" stroke-width="0.3"/>
<circle cx="323.8" cy="305.5" r="0.5" fill="none" stroke="#a8a8a8" stroke-width="0.3"/>
<circle cx="321.9" cy="296.5" r="0.5" fill="none" stroke="#a8a8a8" stroke-width="0.3"/>
<circle cx="321.9" cy="297.3" r="0.5" fill="none" stroke="#a8a8a8" stroke-width="0.3"/>
<circle cx="319.8" cy="293.9" r="0.5" fill="none" stroke="#a8a8a8" stroke-width="0.3"/>
<circle cx="326.9" cy="292.7" r="0.5" fill="none" stroke="#a8a8a8" stroke-width="0.3"/>
<circle cx="326.7" cy="292.6" r="0.5" fill="none" stroke="#a8a8a8" stroke-width="0.3"/>
<circle cx="330.6" cy="295.7" r="0.5" fill="none" stroke="#a8a8a8" stroke-width="0.3"/>
<circle cx="331.1" cy="298.9" r="0.5" fill="none" stroke="#a8a8a8" stroke-width="0.3"/>
<path d="M312.5,312.2 Q329.9,318.7 340.6,308.4" fill="none" stroke="#b0b0b0" stroke-width="0.35"/>
<path d="M315.2,282.5 Q318.3,304.1 314.5,313.8" fill="none" stroke="#b8b8b8" stroke-width="0.35"/>
<path d="M333.7,306.8 Q339.5,296.0 336.0,286.8" fill="none" stroke="#b8b8b8" stroke-width="0.35"/>
<ellipse cx="296.7" cy="296.5" rx="8.5" ry="10.8" fill="none" stroke="#b8b8b8" stroke-width="0.35"/>
<circle cx="296.0" cy="302.3" r="0.5" fill="none" stroke="#a8a8a8" stroke-width="0.3"/>
<circle cx="301.0" cy="303.6" r="0.5" fill="none" stroke="#a8a8a8" stroke-width="0.3"/>
<circle cx="302.3" cy="301.0" r="0.5" fill="none" stroke="#a8a8a8" stroke-width="0.3"/>
<circle cx="291.7" cy="301.4" r="0.5" fill="none" stroke="#a8a8a8" stroke-width="0.3"/>
<circle cx="296.2" cy="299.2" r="0.5" fill="none" stroke="#a8a8a8" stroke-width="0.3"/>
<circle cx="302.1" cy="292.5" r="0.5" fill="none" stroke="#a8a8a8" stroke-width="0.3"/>
<circle cx="300.4" cy="304.9" r="0.5" fill="none" stroke="#a8a8a8" stroke-width="0.3"/>
<circle cx="299.5" cy="294.3" r="0.5" fill="none" stroke="#a8a8a8" stroke-width="0.3"/>
<circle cx="302.7" cy="297.4" r="0.5" fill="none" stroke="#a8a8a8" stroke-width="0.3"/>
<circle cx="301.0" cy="302.9" r="0.5" fill="none" stroke="#a8a8a8" stroke-width="0.3"/>
<circle cx="290.4" cy="298.1" r="0.5" fill="none" stroke="#a8a8a8" stroke-width="0.3"/>
<circle cx="290.6" cy="292.9" r="0.5" fill="none" stroke="#a8a8a8" stroke-width="0.3"/>
<circle cx="299.3" cy="289.7" r="0.5" fill="none" stroke="#a8a8a8" stroke-width="0.3"/>
<circle cx="293.0" cy="293.5" r="0.5" fill="none" stroke="#a8a8a8" stroke-width="0.3"/>
<circle cx="298.3" cy="298.7" r="0.5" fill="none" stroke="#a8a8a8" stroke-width="0.3"/>
<circle cx="298.9" cy="293.1" r="0.5" fill="none" stroke="#a8a8a8" stroke-width="0.3"/>
<circle cx="292.9" cy="299.0" r="0.5" fill="none" stroke="#a8a8a8" stroke-width="0.3"/>
<circle cx="292.6" cy="291.7" r="0.5" fill="none" stroke="#a8a8a8" stroke-width="0.3"/>
<circle cx="299.9" cy="291.6" r="0.5" fill="none" stroke="#a8a8a8" stroke-width="0.3"/>
<circle cx="292.7" cy="302.5" r="0.5" fill="none" stroke="#a8a8a8" stroke-width="0.3"/>
<circle cx="296.5" cy="287.2" r="0.5" fill="none" stroke="#a8a8a8" stroke-width="0.3"/>
<circle cx="294.0" cy="305.0" r="0.5" fill="none" stroke="#a8a8a8" stroke-width="0.3"/>
<circle cx="304.3" cy="295.4" r="0.5" fill="none" stroke="#a8a8a8" stroke-width="0.3"/>
<circle cx="300.0" cy="300.9" r="0.5" fill="none" stroke="#a8a8a8" stroke-width="0.3"/>
<circle cx="297.8" cy="287.8" r="0.5" fill="none" stroke="#a8a8a8" stroke-width="0.3"/>
<circle cx="301.4" cy="298.0" r="0.5" fill="none" stroke="#a8a8a8" stroke-width="0.3"/>
<path d="M308.7,312.2 Q291.4,318.7 280.6,308.4" fill="none" stroke="#b0b0b0" stroke-width="0.35"/>
<path d="M306.0,282.5 Q302.9,304.1 306.8,313.8" fill="none" stroke="#b8b8b8" stroke-width="0.35"/>
<path d="M287.5,306.8 Q281.7,296.0 285.2,286.8" fill="none" stroke="#b8b8b8" stroke-width="0.35"/>
<line x1="310.6" y1="270.1" x2="310.6" y2="316.5" stroke="#bcbcbc" stroke-width="0.35" />
<rect x="321.3" y="306.4" width="1.1" height="0.45" fill="#a0a0a0" />
<rect x="296.8" y="294.1" width="0.7" height="0.45" fill="#a0a0a0" />
<rect x="301.8" y="294.8" width="1.4" height="0.45" fill="#a0a0a0" />
<rect x="314.9" y="294.3" width="0.9" height="0.45" fill="#a0a0a0" />
<rect x="301.8" y="303.3" width="1.1" height="0.45" fill="#a0a0a0" />
<rect x="295.0" y="308.6" width="1.2" height="0.45" fill="#a0a0a0" />
<rect x="332.9" y="298.6" width="1.2" height="0.45" fill="#a0a0a0" />
<rect x="307.1" y="301.2" width="1.4" height="0.45" fill="#a0a0a0" />
<rect x="333.6" y="303.0" width="1.0" height="0.45" fill="#a0a0a0" />
<rect x="289.7" y="309.3" width="1.0" height="0.45" fill="#a0a0a0" />
<rect x="305.0" y="281.8" width="0.7" height="0.45" fill="#a0a0a0" />
<rect x="305.4" y="314.0" width="1.3" height="0.45" fill="#a0a0a0" />
<rect x="320.6" y="303.3" width="0.9" height="0.45" fill="#a0a0a0" />
<rect x="294.8" y="300.9" width="0.8" height="0.45" fill="#a0a0a0" />
<rect x="314.8" y="297.9" width="1.1" height="0.45" fill="#a0a0a0" />
<rect x="292.5" y="282.2" width="1.1" height="0.45" fill="#a0a0a0" />
<rect x="293.7" y="302.3" width="0.9" height="0.45" fill="#a0a0a0" />
<rect x="316.4" y="306.1" width="1.2" height="0.45" fill="#a0a0a0" />
<rect x="312.1" y="286.7" width="1.0" height="0.45" fill="#a0a0a0" />
<rect x="333.4" y="289.2" width="0.9" height="0.45" fill="#a0a0a0" />
<rect x="310.3" y="299.0" width="1.3" height="0.45" fill="#a0a0a0" />
<rect x="300.8" y="313.6" width="0.7" height="0.45" fill="#a0a0a0" />
<rect x="324.5" y="299.8" width="1.4" height="0.45" fill="#a0a0a0" />
<rect x="294.0" y="304.0" width="1.5" height="0.45" fill="#a0a0a0" />
<rect x="318.6" y="283.7" width="1.4" height="0.45" fill="#a0a0a0" />
<rect x="333.0" y="283.7" width="1.4" height="0.45" fill="#a0a0a0" />
<rect x="290.5" y="282.7" width="1.3" height="0.45" fill="#a0a0a0" />
<rect x="321.1" y="313.4" width="1.2" height="0.45" fill="#a0a0a0" />
<rect x="311.2" y="289.3" width="1.2" height="0.45" fill="#a0a0a0" />
<rect x="334.1" y="302.5" width="1.4" height="0.45" fill="#a0a0a0" />
<rect x="296.2" y="305.6" width="1.3" height="0.45" fill="#a0a0a0" />
<rect x="290.1" y="308.6" width="0.8" height="0.45" fill="#a0a0a0" />
<rect x="297.1" y="281.9" width="1.2" height="0.45" fill="#a0a0a0" />
<rect x="293.5" y="314.0" width="0.7" height="0.45" fill="#a0a0a0" />
<rect x="325.4" y="306.4" width="1.2" height="0.45" fill="#a0a0a0" />
<rect x="314.0" y="307.8" width="1.2" height="0.45" fill="#a0a0a0" />
<rect x="293.4" y="307.8" width="1.0" height="0.45" fill="#a0a0a0" />
<rect x="314.6" y="297.8" width="1.4" height="0.45" fill="#a0a0a0" />
<rect x="306.5" y="309.8" width="0.8" height="0.45" fill="#a0a0a0" />
<rect x="302.3" y="303.3" width="1.2" height="0.45" fill="#a0a0a0" />
<rect x="326.5" y="287.1" width="1.3" height="0.45" fill="#a0a0a0" />
<rect x="324.7" y="284.8" width="0.8" height="0.45" fill="#a0a0a0" />
<rect x="314.6" y="314.0" width="1.2" height="0.45" fill="#a0a0a0" />
<rect x="307.2" y="297.6" width="1.3" height="0.45" fill="#a0a0a0" />
<rect x="311.7" y="298.6" width="1.2" height="0.45" fill="#a0a0a0" />
<path d="M316.50,267.80 C318.03,266.55 322.32,267.90 325.20,268.50 C328.08,269.10 331.17,270.08 333.80,271.40 C336.43,272.72 338.95,274.37 341.00,276.40 C343.05,278.43 344.95,280.95 346.10,283.60 C347.25,286.25 347.67,289.65 347.90,292.30 C348.13,294.95 347.93,296.87 347.50,299.50 C347.07,302.13 346.13,305.70 345.30,308.10 C344.47,310.50 343.45,312.33 342.50,313.90 C341.55,315.47 340.68,316.90 339.60,317.50 C338.52,318.10 336.72,318.58 336.00,317.50 C335.28,316.42 336.13,313.00 335.30,311.00 C334.47,309.00 332.88,306.67 331.00,305.50 C329.12,304.33 326.00,304.75 324.00,304.00 C322.00,303.25 320.00,302.33 319.00,301.00 C318.00,299.67 317.50,297.50 318.00,296.00 C318.50,294.50 321.83,293.33 322.00,292.00 C322.17,290.67 320.00,289.33 319.00,288.00 C318.00,286.67 316.50,286.00 316.00,284.00 C315.50,282.00 315.92,278.70 316.00,276.00 C316.08,273.30 314.97,269.05 316.50,267.80Z" fill="#00a651" />
<path d="M315.50,267.80 C316.62,267.33 319.92,267.17 320.50,268.20 C321.08,269.23 319.67,272.03 319.00,274.00 C318.33,275.97 317.47,278.75 316.50,280.00 C315.53,281.25 313.82,282.17 313.20,281.50 C312.58,280.83 312.70,277.75 312.80,276.00 C312.90,274.25 313.35,272.37 313.80,271.00 C314.25,269.63 314.38,268.27 315.50,267.80Z" fill="#00aeef" />
<path d="M312.60,290.50 C313.13,289.67 314.83,289.08 316.00,289.20 C317.17,289.32 318.97,290.30 319.60,291.20 C320.23,292.10 320.40,293.83 319.80,294.60 C319.20,295.37 317.17,295.87 316.00,295.80 C314.83,295.73 313.37,295.08 312.80,294.20 C312.23,293.32 312.07,291.33 312.60,290.50Z" fill="#00aeef" />
<path d="M320.60,286.30 C321.28,285.70 323.47,285.15 324.50,285.40 C325.53,285.65 326.55,286.93 326.80,287.80 C327.05,288.67 326.80,290.07 326.00,290.60 C325.20,291.13 322.93,291.27 322.00,291.00 C321.07,290.73 320.63,289.78 320.40,289.00 C320.17,288.22 319.92,286.90 320.60,286.30Z" fill="#00aeef" />
<path d="M320.60,299.30 C321.27,298.58 323.73,298.30 325.00,298.50 C326.27,298.70 327.70,299.58 328.20,300.50 C328.70,301.42 328.70,303.32 328.00,304.00 C327.30,304.68 325.17,304.80 324.00,304.60 C322.83,304.40 321.57,303.68 321.00,302.80 C320.43,301.92 319.93,300.02 320.60,299.30Z" fill="#00aeef" />
<path d="M336.00,314.00 C336.50,313.32 338.40,312.92 339.00,313.50 C339.60,314.08 340.10,316.82 339.60,317.50 C339.10,318.18 336.60,318.18 336.00,317.60 C335.40,317.02 335.50,314.68 336.00,314.00Z" fill="#00aeef" />
<path d="M316.80,280.50 C317.10,279.08 318.50,276.72 319.80,275.80 C321.10,274.88 323.40,274.50 324.60,275.00 C325.80,275.50 327.35,277.47 327.00,278.80 C326.65,280.13 324.00,282.08 322.50,283.00 C321.00,283.92 318.95,284.72 318.00,284.30 C317.05,283.88 316.50,281.92 316.80,280.50Z" fill="#8dc63f" />
<path d="M321.80,268.40 C322.02,267.17 324.02,267.33 324.80,268.60 C325.58,269.87 325.63,273.52 326.50,276.00 C327.37,278.48 328.33,281.17 330.00,283.50 C331.67,285.83 334.17,287.92 336.50,290.00 C338.83,292.08 342.12,294.75 344.00,296.00 C345.88,297.25 347.18,296.75 347.80,297.50 C348.42,298.25 348.25,300.25 347.70,300.50 C347.15,300.75 346.20,300.05 344.50,299.00 C342.80,297.95 339.78,295.83 337.50,294.20 C335.22,292.57 332.68,291.07 330.80,289.20 C328.92,287.33 327.42,285.20 326.20,283.00 C324.98,280.80 324.23,278.43 323.50,276.00 C322.77,273.57 321.58,269.63 321.80,268.40Z" fill="#fff200" />
<path d="M324.80,268.50 C326.13,267.73 332.52,269.98 333.80,271.40 C335.08,272.82 332.47,274.98 332.50,277.00 C332.53,279.02 333.05,281.37 334.00,283.50 C334.95,285.63 337.78,288.38 338.20,289.80 C338.62,291.22 337.70,292.22 336.50,292.00 C335.30,291.78 332.50,290.00 331.00,288.50 C329.50,287.00 328.37,285.08 327.50,283.00 C326.63,280.92 326.25,278.42 325.80,276.00 C325.35,273.58 323.47,269.27 324.80,268.50Z" fill="#ec008c" />
<path d="M331.50,272.20 C332.28,271.87 335.33,273.12 337.00,274.00 C338.67,274.88 340.08,275.92 341.50,277.50 C342.92,279.08 344.47,281.25 345.50,283.50 C346.53,285.75 347.32,289.00 347.70,291.00 C348.08,293.00 348.58,295.03 347.80,295.50 C347.02,295.97 344.55,294.48 343.00,293.80 C341.45,293.12 339.87,292.53 338.50,291.40 C337.13,290.27 335.72,288.73 334.80,287.00 C333.88,285.27 333.42,282.83 333.00,281.00 C332.58,279.17 332.55,277.47 332.30,276.00 C332.05,274.53 330.72,272.53 331.50,272.20Z" fill="#ed1c24" />
<path d="M337.80,292.00 C338.47,291.77 341.33,293.22 343.00,293.80 C344.67,294.38 347.03,294.70 347.80,295.50 C348.57,296.30 348.32,298.22 347.60,298.60 C346.88,298.98 344.93,298.37 343.50,297.80 C342.07,297.23 339.95,296.17 339.00,295.20 C338.05,294.23 337.13,292.23 337.80,292.00Z" fill="#f7941d" />
<path d="M341.50,301.50 C342.33,300.83 344.95,300.92 345.50,302.00 C346.05,303.08 345.42,306.12 344.80,308.00 C344.18,309.88 342.63,312.72 341.80,313.30 C340.97,313.88 340.02,312.72 339.80,311.50 C339.58,310.28 340.22,307.67 340.50,306.00 C340.78,304.33 340.67,302.17 341.50,301.50Z" fill="#8dc63f" />
<path d="M295.00,278.30 C294.60,278.42 293.54,279.12 292.84,279.80 C292.14,280.48 291.22,281.40 290.78,282.37 C290.34,283.33 290.18,284.47 290.20,285.58 C290.22,286.68 290.57,288.79 290.87,289.00 C291.18,289.21 291.70,287.72 292.02,286.86 C292.35,286.00 292.50,284.84 292.84,283.86 C293.18,282.88 293.64,281.78 294.04,280.98 C294.44,280.17 295.08,279.49 295.24,279.05 C295.40,278.60 295.40,278.18 295.00,278.30Z" fill="#111"/>
<ellipse cx="309.3" cy="285.5" rx="1.6" ry="4" fill="#111" transform="rotate(-5 309.3 285.5)"/>
<path d="M269.50,299.57 C270.90,299.57 271.83,297.62 273.70,297.02 C275.57,296.42 278.37,295.92 280.70,296.00 C283.03,296.08 285.37,296.51 287.70,297.53 C290.03,298.55 292.60,300.08 294.70,302.12 C296.80,304.16 298.84,307.13 300.30,309.77 C301.76,312.40 302.75,315.55 303.45,317.93 C304.15,320.31 304.56,321.84 304.50,324.05 C304.44,326.26 303.92,328.98 303.10,331.19 C302.28,333.40 301.12,335.52 299.60,337.31 C298.08,339.10 296.10,340.62 294.00,341.90 C291.90,343.17 289.33,344.19 287.00,344.96 C284.67,345.72 282.16,346.40 280.00,346.49 C277.84,346.58 275.80,345.98 274.05,345.47 C272.30,344.96 271.02,343.43 269.50,343.43 C267.98,343.43 266.70,344.96 264.95,345.47 C263.20,345.98 261.16,346.58 259.00,346.49 C256.84,346.40 254.33,345.72 252.00,344.96 C249.67,344.19 247.10,343.17 245.00,341.90 C242.90,340.62 240.92,339.10 239.40,337.31 C237.88,335.52 236.72,333.40 235.90,331.19 C235.08,328.98 234.56,326.26 234.50,324.05 C234.44,321.84 234.85,320.31 235.55,317.93 C236.25,315.55 237.24,312.40 238.70,309.77 C240.16,307.13 242.20,304.16 244.30,302.12 C246.40,300.08 248.97,298.55 251.30,297.53 C253.63,296.51 255.97,296.08 258.30,296.00 C260.63,295.92 263.43,296.42 265.30,297.02 C267.17,297.62 268.10,299.57 269.50,299.57Z" fill="#fff" stroke="#8a8a8a" stroke-width="0.55"/>
<path d="M269.50,304.06 C270.09,303.70 271.46,302.42 273.03,301.92 C274.60,301.42 276.95,300.99 278.91,301.06 C280.87,301.13 282.83,301.49 284.79,302.34 C286.75,303.20 288.90,304.49 290.67,306.20 C292.43,307.91 294.15,310.41 295.37,312.63 C296.60,314.84 297.43,317.48 298.02,319.48 C298.61,321.48 298.95,322.76 298.90,324.62 C298.85,326.48 298.41,328.76 297.72,330.62 C297.04,332.48 295.27,334.90 294.78,335.76" fill="none" stroke="#a4a4a4" stroke-width="0.45"/>
<path d="M244.22,335.76 C243.73,334.90 241.96,332.48 241.28,330.62 C240.59,328.76 240.15,326.48 240.10,324.62 C240.05,322.76 240.39,321.48 240.98,319.48 C241.57,317.48 242.40,314.84 243.63,312.63 C244.85,310.41 246.57,307.91 248.33,306.20 C250.10,304.49 252.25,303.20 254.21,302.34 C256.17,301.49 258.13,301.13 260.09,301.06 C262.05,300.99 264.40,301.42 265.97,301.92 C267.54,302.42 268.91,303.70 269.50,304.06" fill="none" stroke="#a4a4a4" stroke-width="0.45"/>
<path d="M269.50,307.42 C270.00,307.12 271.18,306.02 272.52,305.59 C273.87,305.16 275.88,304.79 277.56,304.85 C279.24,304.91 280.92,305.22 282.60,305.96 C284.28,306.69 286.13,307.79 287.64,309.26 C289.16,310.73 290.63,312.87 291.68,314.77 C292.73,316.67 293.44,318.93 293.94,320.64 C294.45,322.36 294.74,323.46 294.70,325.05 C294.66,326.64 294.28,328.60 293.69,330.19 C293.10,331.78 291.59,333.86 291.17,334.60" fill="none" stroke="#999999" stroke-width="0.5"/>
<path d="M247.83,334.60 C247.41,333.86 245.90,331.78 245.31,330.19 C244.72,328.60 244.34,326.64 244.30,325.05 C244.26,323.46 244.55,322.36 245.06,320.64 C245.56,318.93 246.27,316.67 247.32,314.77 C248.37,312.87 249.84,310.73 251.36,309.26 C252.87,307.79 254.72,306.69 256.40,305.96 C258.08,305.22 259.76,304.91 261.44,304.85 C263.12,304.79 265.13,305.16 266.48,305.59 C267.82,306.02 269.00,307.12 269.50,307.42" fill="none" stroke="#999999" stroke-width="0.5"/>
<path d="M269.50,308.55 C269.98,308.26 271.09,307.22 272.36,306.81 C273.63,306.41 275.53,306.06 277.12,306.12 C278.70,306.18 280.29,306.47 281.88,307.16 C283.46,307.85 285.21,308.89 286.64,310.28 C288.06,311.67 289.45,313.69 290.44,315.48 C291.44,317.27 292.11,319.41 292.59,321.03 C293.06,322.65 293.34,323.69 293.30,325.19 C293.26,326.70 292.90,328.54 292.35,330.05 C291.79,331.55 290.36,333.52 289.97,334.21" fill="none" stroke="#b4b4b4" stroke-width="0.4"/>
<path d="M249.03,334.21 C248.64,333.52 247.21,331.55 246.65,330.05 C246.10,328.54 245.74,326.70 245.70,325.19 C245.66,323.69 245.94,322.65 246.41,321.03 C246.89,319.41 247.56,317.27 248.56,315.48 C249.55,313.69 250.94,311.67 252.36,310.28 C253.79,308.89 255.54,307.85 257.12,307.16 C258.71,306.47 260.30,306.18 261.88,306.12 C263.47,306.06 265.37,306.41 266.64,306.81 C267.91,307.22 269.02,308.26 269.50,308.55" fill="none" stroke="#b4b4b4" stroke-width="0.4"/>
<line x1="273.0" y1="297.5" x2="272.4" y2="302.3" stroke="#b2b2b2" stroke-width="0.35" />
<line x1="278.2" y1="296.3" x2="276.9" y2="301.3" stroke="#b2b2b2" stroke-width="0.35" />
<line x1="284.2" y1="296.5" x2="281.8" y2="301.5" stroke="#b2b2b2" stroke-width="0.35" />
<line x1="289.8" y1="298.6" x2="286.6" y2="303.2" stroke="#b2b2b2" stroke-width="0.35" />
<line x1="294.7" y1="302.1" x2="290.7" y2="306.2" stroke="#b2b2b2" stroke-width="0.35" />
<line x1="298.9" y1="307.2" x2="294.2" y2="310.5" stroke="#b2b2b2" stroke-width="0.35" />
<line x1="302.1" y1="313.9" x2="296.8" y2="316.1" stroke="#b2b2b2" stroke-width="0.35" />
<line x1="304.1" y1="321.5" x2="298.6" y2="322.5" stroke="#b2b2b2" stroke-width="0.35" />
<line x1="303.4" y1="329.7" x2="298.0" y2="329.3" stroke="#b2b2b2" stroke-width="0.35" />
<line x1="300.3" y1="336.3" x2="295.4" y2="334.9" stroke="#b2b2b2" stroke-width="0.35" />
<rect x="295.5" y="336.7" width="0.7" height="0.45" fill="#9c9c9c" />
<rect x="293.8" y="338.2" width="0.8" height="0.45" fill="#9c9c9c" />
<rect x="300.6" y="320.9" width="1.3" height="0.45" fill="#9c9c9c" />
<rect x="284.3" y="297.9" width="0.9" height="0.45" fill="#9c9c9c" />
<rect x="301.9" y="317.6" width="1.2" height="0.45" fill="#9c9c9c" />
<rect x="298.4" y="335.7" width="0.7" height="0.45" fill="#9c9c9c" />
<rect x="299.3" y="333.4" width="0.9" height="0.45" fill="#9c9c9c" />
<rect x="281.6" y="297.7" width="1.1" height="0.45" fill="#9c9c9c" />
<rect x="298.2" y="336.5" width="1.4" height="0.45" fill="#9c9c9c" />
<rect x="300.2" y="315.4" width="1.1" height="0.45" fill="#9c9c9c" />
<rect x="285.9" y="298.3" width="0.9" height="0.45" fill="#9c9c9c" />
<rect x="302.6" y="327.8" width="1.2" height="0.45" fill="#9c9c9c" />
<rect x="278.7" y="297.7" width="1.2" height="0.45" fill="#9c9c9c" />
<rect x="280.3" y="300.2" width="1.1" height="0.45" fill="#9c9c9c" />
<rect x="272.7" y="298.7" width="1.1" height="0.45" fill="#9c9c9c" />
<rect x="298.0" y="312.5" width="1.2" height="0.45" fill="#9c9c9c" />
<rect x="297.4" y="335.0" width="1.0" height="0.45" fill="#9c9c9c" />
<rect x="299.3" y="317.0" width="1.1" height="0.45" fill="#9c9c9c" />
<rect x="298.7" y="314.2" width="1.2" height="0.45" fill="#9c9c9c" />
<rect x="297.3" y="313.8" width="1.4" height="0.45" fill="#9c9c9c" />
<rect x="290.6" y="303.1" width="1.0" height="0.45" fill="#9c9c9c" />
<rect x="299.0" y="336.2" width="1.1" height="0.45" fill="#9c9c9c" />
<line x1="266.0" y1="297.5" x2="266.6" y2="302.3" stroke="#b2b2b2" stroke-width="0.35" />
<line x1="260.8" y1="296.3" x2="262.1" y2="301.3" stroke="#b2b2b2" stroke-width="0.35" />
<line x1="254.8" y1="296.5" x2="257.2" y2="301.5" stroke="#b2b2b2" stroke-width="0.35" />
<line x1="249.2" y1="298.6" x2="252.4" y2="303.2" stroke="#b2b2b2" stroke-width="0.35" />
<line x1="244.3" y1="302.1" x2="248.3" y2="306.2" stroke="#b2b2b2" stroke-width="0.35" />
<line x1="240.1" y1="307.2" x2="244.8" y2="310.5" stroke="#b2b2b2" stroke-width="0.35" />
<line x1="236.9" y1="313.9" x2="242.2" y2="316.1" stroke="#b2b2b2" stroke-width="0.35" />
<line x1="234.8" y1="321.5" x2="240.4" y2="322.5" stroke="#b2b2b2" stroke-width="0.35" />
<line x1="235.6" y1="329.7" x2="241.0" y2="329.3" stroke="#b2b2b2" stroke-width="0.35" />
<line x1="238.7" y1="336.3" x2="243.6" y2="334.9" stroke="#b2b2b2" stroke-width="0.35" />
<rect x="246.8" y="305.9" width="1.3" height="0.45" fill="#9c9c9c" />
<rect x="258.9" y="298.4" width="0.9" height="0.45" fill="#9c9c9c" />
<rect x="250.1" y="302.3" width="0.8" height="0.45" fill="#9c9c9c" />
<rect x="266.3" y="299.8" width="1.3" height="0.45" fill="#9c9c9c" />
<rect x="239.0" y="320.8" width="1.2" height="0.45" fill="#9c9c9c" />
<rect x="265.8" y="299.8" width="1.3" height="0.45" fill="#9c9c9c" />
<rect x="241.3" y="335.3" width="1.3" height="0.45" fill="#9c9c9c" />
<rect x="241.2" y="311.1" width="1.1" height="0.45" fill="#9c9c9c" />
<rect x="243.3" y="338.6" width="1.0" height="0.45" fill="#9c9c9c" />
<rect x="236.9" y="324.6" width="0.9" height="0.45" fill="#9c9c9c" />
<rect x="236.9" y="328.0" width="1.1" height="0.45" fill="#9c9c9c" />
<rect x="243.2" y="336.0" width="1.1" height="0.45" fill="#9c9c9c" />
<rect x="238.6" y="320.0" width="0.8" height="0.45" fill="#9c9c9c" />
<rect x="237.8" y="322.8" width="0.9" height="0.45" fill="#9c9c9c" />
<rect x="265.9" y="298.3" width="0.9" height="0.45" fill="#9c9c9c" />
<rect x="262.2" y="299.8" width="0.9" height="0.45" fill="#9c9c9c" />
<rect x="240.6" y="332.4" width="0.9" height="0.45" fill="#9c9c9c" />
<rect x="263.2" y="299.2" width="0.8" height="0.45" fill="#9c9c9c" />
<rect x="248.4" y="301.8" width="1.3" height="0.45" fill="#9c9c9c" />
<rect x="240.2" y="330.8" width="1.0" height="0.45" fill="#9c9c9c" />
<rect x="240.6" y="331.5" width="0.8" height="0.45" fill="#9c9c9c" />
<rect x="242.0" y="310.8" width="1.2" height="0.45" fill="#9c9c9c" />
<ellipse cx="282.1" cy="324.6" rx="7.7" ry="10.2" fill="none" stroke="#b8b8b8" stroke-width="0.35"/>
<circle cx="281.1" cy="318.4" r="0.5" fill="none" stroke="#a8a8a8" stroke-width="0.3"/>
<circle cx="282.1" cy="329.0" r="0.5" fill="none" stroke="#a8a8a8" stroke-width="0.3"/>
<circle cx="281.9" cy="326.9" r="0.5" fill="none" stroke="#a8a8a8" stroke-width="0.3"/>
<circle cx="280.7" cy="321.4" r="0.5" fill="none" stroke="#a8a8a8" stroke-width="0.3"/>
<circle cx="286.4" cy="319.8" r="0.5" fill="none" stroke="#a8a8a8" stroke-width="0.3"/>
<circle cx="286.7" cy="326.8" r="0.5" fill="none" stroke="#a8a8a8" stroke-width="0.3"/>
<circle cx="281.0" cy="323.4" r="0.5" fill="none" stroke="#a8a8a8" stroke-width="0.3"/>
<circle cx="280.9" cy="324.7" r="0.5" fill="none" stroke="#a8a8a8" stroke-width="0.3"/>
<circle cx="282.1" cy="324.0" r="0.5" fill="none" stroke="#a8a8a8" stroke-width="0.3"/>
<circle cx="277.4" cy="317.9" r="0.5" fill="none" stroke="#a8a8a8" stroke-width="0.3"/>
<circle cx="284.0" cy="320.9" r="0.5" fill="none" stroke="#a8a8a8" stroke-width="0.3"/>
<circle cx="279.5" cy="323.8" r="0.5" fill="none" stroke="#a8a8a8" stroke-width="0.3"/>
<circle cx="278.5" cy="331.7" r="0.5" fill="none" stroke="#a8a8a8" stroke-width="0.3"/>
<circle cx="282.4" cy="323.8" r="0.5" fill="none" stroke="#a8a8a8" stroke-width="0.3"/>
<circle cx="278.0" cy="329.6" r="0.5" fill="none" stroke="#a8a8a8" stroke-width="0.3"/>
<circle cx="284.9" cy="331.9" r="0.5" fill="none" stroke="#a8a8a8" stroke-width="0.3"/>
<circle cx="286.2" cy="320.3" r="0.5" fill="none" stroke="#a8a8a8" stroke-width="0.3"/>
<circle cx="277.9" cy="331.0" r="0.5" fill="none" stroke="#a8a8a8" stroke-width="0.3"/>
<circle cx="279.1" cy="324.2" r="0.5" fill="none" stroke="#a8a8a8" stroke-width="0.3"/>
<circle cx="281.6" cy="328.2" r="0.5" fill="none" stroke="#a8a8a8" stroke-width="0.3"/>
<circle cx="284.7" cy="319.0" r="0.5" fill="none" stroke="#a8a8a8" stroke-width="0.3"/>
<circle cx="280.0" cy="316.7" r="0.5" fill="none" stroke="#a8a8a8" stroke-width="0.3"/>
<circle cx="285.1" cy="323.9" r="0.5" fill="none" stroke="#a8a8a8" stroke-width="0.3"/>
<circle cx="276.7" cy="329.4" r="0.5" fill="none" stroke="#a8a8a8" stroke-width="0.3"/>
<circle cx="282.4" cy="318.9" r="0.5" fill="none" stroke="#a8a8a8" stroke-width="0.3"/>
<circle cx="280.4" cy="321.2" r="0.5" fill="none" stroke="#a8a8a8" stroke-width="0.3"/>
<path d="M271.2,339.4 Q287.0,345.5 296.8,335.8" fill="none" stroke="#b0b0b0" stroke-width="0.35"/>
<path d="M273.7,311.3 Q276.5,331.7 273.0,340.9" fill="none" stroke="#b8b8b8" stroke-width="0.35"/>
<path d="M290.5,334.2 Q295.8,324.1 292.6,315.4" fill="none" stroke="#b8b8b8" stroke-width="0.35"/>
<ellipse cx="256.9" cy="324.6" rx="7.7" ry="10.2" fill="none" stroke="#b8b8b8" stroke-width="0.35"/>
<circle cx="257.7" cy="326.3" r="0.5" fill="none" stroke="#a8a8a8" stroke-width="0.3"/>
<circle cx="254.4" cy="327.6" r="0.5" fill="none" stroke="#a8a8a8" stroke-width="0.3"/>
<circle cx="250.0" cy="323.6" r="0.5" fill="none" stroke="#a8a8a8" stroke-width="0.3"/>
<circle cx="259.9" cy="330.2" r="0.5" fill="none" stroke="#a8a8a8" stroke-width="0.3"/>
<circle cx="260.5" cy="319.2" r="0.5" fill="none" stroke="#a8a8a8" stroke-width="0.3"/>
<circle cx="250.9" cy="323.2" r="0.5" fill="none" stroke="#a8a8a8" stroke-width="0.3"/>
<circle cx="263.7" cy="325.8" r="0.5" fill="none" stroke="#a8a8a8" stroke-width="0.3"/>
<circle cx="254.4" cy="317.0" r="0.5" fill="none" stroke="#a8a8a8" stroke-width="0.3"/>
<circle cx="257.9" cy="322.0" r="0.5" fill="none" stroke="#a8a8a8" stroke-width="0.3"/>
<circle cx="259.6" cy="326.1" r="0.5" fill="none" stroke="#a8a8a8" stroke-width="0.3"/>
<circle cx="250.1" cy="324.3" r="0.5" fill="none" stroke="#a8a8a8" stroke-width="0.3"/>
<circle cx="260.7" cy="321.4" r="0.5" fill="none" stroke="#a8a8a8" stroke-width="0.3"/>
<circle cx="252.6" cy="319.1" r="0.5" fill="none" stroke="#a8a8a8" stroke-width="0.3"/>
<circle cx="253.5" cy="332.4" r="0.5" fill="none" stroke="#a8a8a8" stroke-width="0.3"/>
<circle cx="262.5" cy="321.7" r="0.5" fill="none" stroke="#a8a8a8" stroke-width="0.3"/>
<circle cx="262.0" cy="319.8" r="0.5" fill="none" stroke="#a8a8a8" stroke-width="0.3"/>
<circle cx="254.6" cy="320.3" r="0.5" fill="none" stroke="#a8a8a8" stroke-width="0.3"/>
<circle cx="256.2" cy="329.0" r="0.5" fill="none" stroke="#a8a8a8" stroke-width="0.3"/>
<circle cx="263.2" cy="327.7" r="0.5" fill="none" stroke="#a8a8a8" stroke-width="0.3"/>
<circle cx="256.6" cy="325.9" r="0.5" fill="none" stroke="#a8a8a8" stroke-width="0.3"/>
<circle cx="256.0" cy="327.3" r="0.5" fill="none" stroke="#a8a8a8" stroke-width="0.3"/>
<circle cx="253.1" cy="326.4" r="0.5" fill="none" stroke="#a8a8a8" stroke-width="0.3"/>
<circle cx="259.1" cy="330.2" r="0.5" fill="none" stroke="#a8a8a8" stroke-width="0.3"/>
<circle cx="253.3" cy="327.4" r="0.5" fill="none" stroke="#a8a8a8" stroke-width="0.3"/>
<circle cx="258.4" cy="319.9" r="0.5" fill="none" stroke="#a8a8a8" stroke-width="0.3"/>
<circle cx="250.6" cy="322.4" r="0.5" fill="none" stroke="#a8a8a8" stroke-width="0.3"/>
<path d="M267.8,339.4 Q252.0,345.5 242.2,335.8" fill="none" stroke="#b0b0b0" stroke-width="0.35"/>
<path d="M265.3,311.3 Q262.5,331.7 266.0,340.9" fill="none" stroke="#b8b8b8" stroke-width="0.35"/>
<path d="M248.5,334.2 Q243.2,324.1 246.4,315.4" fill="none" stroke="#b8b8b8" stroke-width="0.35"/>
<line x1="269.5" y1="299.6" x2="269.5" y2="343.4" stroke="#bcbcbc" stroke-width="0.35" />
<rect x="289.4" y="321.2" width="0.7" height="0.45" fill="#a0a0a0" />
<rect x="289.1" y="325.8" width="0.9" height="0.45" fill="#a0a0a0" />
<rect x="253.4" y="316.7" width="0.9" height="0.45" fill="#a0a0a0" />
<rect x="253.8" y="310.4" width="1.5" height="0.45" fill="#a0a0a0" />
<rect x="283.4" y="312.5" width="1.1" height="0.45" fill="#a0a0a0" />
<rect x="282.6" y="325.5" width="0.8" height="0.45" fill="#a0a0a0" />
<rect x="262.5" y="321.4" width="1.4" height="0.45" fill="#a0a0a0" />
<rect x="273.1" y="324.0" width="1.2" height="0.45" fill="#a0a0a0" />
<rect x="249.9" y="331.5" width="1.3" height="0.45" fill="#a0a0a0" />
<rect x="276.9" y="320.7" width="0.9" height="0.45" fill="#a0a0a0" />
<rect x="248.2" y="311.5" width="0.8" height="0.45" fill="#a0a0a0" />
<rect x="267.5" y="334.6" width="0.9" height="0.45" fill="#a0a0a0" />
<rect x="268.3" y="329.8" width="1.2" height="0.45" fill="#a0a0a0" />
<rect x="248.7" y="339.3" width="1.2" height="0.45" fill="#a0a0a0" />
<rect x="261.0" y="316.7" width="1.3" height="0.45" fill="#a0a0a0" />
<rect x="288.3" y="319.9" width="1.0" height="0.45" fill="#a0a0a0" />
<rect x="272.0" y="314.5" width="1.0" height="0.45" fill="#a0a0a0" />
<rect x="287.6" y="327.2" width="1.4" height="0.45" fill="#a0a0a0" />
<rect x="259.2" y="337.5" width="1.3" height="0.45" fill="#a0a0a0" />
<rect x="257.6" y="326.3" width="1.2" height="0.45" fill="#a0a0a0" />
<rect x="272.7" y="328.7" width="0.9" height="0.45" fill="#a0a0a0" />
<rect x="271.8" y="320.5" width="1.3" height="0.45" fill="#a0a0a0" />
<rect x="264.0" y="341.2" width="1.2" height="0.45" fill="#a0a0a0" />
<rect x="257.7" y="322.5" width="0.8" height="0.45" fill="#a0a0a0" />
<rect x="279.8" y="310.3" width="1.2" height="0.45" fill="#a0a0a0" />
<rect x="261.2" y="334.5" width="0.8" height="0.45" fill="#a0a0a0" />
<rect x="277.3" y="332.4" width="0.9" height="0.45" fill="#a0a0a0" />
<rect x="253.5" y="321.1" width="1.2" height="0.45" fill="#a0a0a0" />
<rect x="259.1" y="309.0" width="1.1" height="0.45" fill="#a0a0a0" />
<rect x="282.9" y="314.0" width="1.5" height="0.45" fill="#a0a0a0" />
<rect x="269.9" y="314.1" width="0.8" height="0.45" fill="#a0a0a0" />
<rect x="263.9" y="324.5" width="0.8" height="0.45" fill="#a0a0a0" />
<rect x="251.4" y="325.4" width="0.9" height="0.45" fill="#a0a0a0" />
<rect x="267.1" y="323.7" width="1.3" height="0.45" fill="#a0a0a0" />
<rect x="272.9" y="316.3" width="0.8" height="0.45" fill="#a0a0a0" />
<rect x="285.1" y="310.4" width="0.8" height="0.45" fill="#a0a0a0" />
<rect x="250.8" y="336.1" width="1.1" height="0.45" fill="#a0a0a0" />
<rect x="287.9" y="329.5" width="1.0" height="0.45" fill="#a0a0a0" />
<rect x="266.5" y="333.0" width="0.9" height="0.45" fill="#a0a0a0" />
<rect x="282.7" y="322.3" width="0.7" height="0.45" fill="#a0a0a0" />
<rect x="262.7" y="327.3" width="0.8" height="0.45" fill="#a0a0a0" />
<rect x="287.1" y="339.5" width="1.1" height="0.45" fill="#a0a0a0" />
<rect x="287.1" y="331.6" width="1.1" height="0.45" fill="#a0a0a0" />
<rect x="254.7" y="340.3" width="1.4" height="0.45" fill="#a0a0a0" />
<rect x="267.4" y="321.5" width="0.8" height="0.45" fill="#a0a0a0" />
<path d="M272.90,296.50 C274.90,295.50 281.32,295.58 285.00,296.00 C288.68,296.42 292.17,297.50 295.00,299.00 C297.83,300.50 300.42,302.83 302.00,305.00 C303.58,307.17 304.12,309.17 304.50,312.00 C304.88,314.83 304.72,319.00 304.30,322.00 C303.88,325.00 303.05,328.42 302.00,330.00 C300.95,331.58 299.67,331.50 298.00,331.50 C296.33,331.50 294.17,330.08 292.00,330.00 C289.83,329.92 287.33,330.92 285.00,331.00 C282.67,331.08 279.83,331.17 278.00,330.50 C276.17,329.83 274.83,329.08 274.00,327.00 C273.17,324.92 273.00,320.83 273.00,318.00 C273.00,315.17 274.00,312.67 274.00,310.00 C274.00,307.33 273.18,304.25 273.00,302.00 C272.82,299.75 270.90,297.50 272.90,296.50Z" fill="#00aeef" />
<path d="M279.00,297.00 C279.92,295.58 282.33,296.17 285.00,296.50 C287.67,296.83 292.17,297.58 295.00,299.00 C297.83,300.42 300.42,302.83 302.00,305.00 C303.58,307.17 304.12,309.50 304.50,312.00 C304.88,314.50 304.88,318.17 304.30,320.00 C303.72,321.83 302.22,321.75 301.00,323.00 C299.78,324.25 298.50,326.83 297.00,327.50 C295.50,328.17 293.33,326.67 292.00,327.00 C290.67,327.33 290.50,329.17 289.00,329.50 C287.50,329.83 284.58,329.75 283.00,329.00 C281.42,328.25 280.25,327.33 279.50,325.00 C278.75,322.67 278.50,318.33 278.50,315.00 C278.50,311.67 279.42,308.00 279.50,305.00 C279.58,302.00 278.08,298.42 279.00,297.00Z" fill="#00a651" />
<path d="M283.50,297.00 C285.00,296.45 290.25,297.28 293.00,298.20 C295.75,299.12 298.22,300.78 300.00,302.50 C301.78,304.22 302.97,306.50 303.70,308.50 C304.43,310.50 305.35,313.75 304.40,314.50 C303.45,315.25 300.23,313.83 298.00,313.00 C295.77,312.17 293.00,310.67 291.00,309.50 C289.00,308.33 287.17,307.33 286.00,306.00 C284.83,304.67 284.42,303.00 284.00,301.50 C283.58,300.00 282.00,297.55 283.50,297.00Z" fill="#ec008c" />
<path d="M286.00,296.80 C286.95,296.18 290.42,296.85 292.00,297.30 C293.58,297.75 295.33,298.63 295.50,299.50 C295.67,300.37 294.17,301.83 293.00,302.50 C291.83,303.17 289.62,303.75 288.50,303.50 C287.38,303.25 286.72,302.12 286.30,301.00 C285.88,299.88 285.05,297.42 286.00,296.80Z" fill="#ed1c24" />
<path d="M283.5,305.5 C290,308.6 297,312.4 304.4,314.2" fill="none" stroke="#f7941d" stroke-width="1.6"/>
<path d="M284.00,307.20 C285.00,307.22 288.67,309.47 291.00,310.60 C293.33,311.73 295.73,313.18 298.00,314.00 C300.27,314.82 303.52,314.73 304.60,315.50 C305.68,316.27 305.60,318.30 304.50,318.60 C303.40,318.90 300.25,317.98 298.00,317.30 C295.75,316.62 293.17,315.63 291.00,314.50 C288.83,313.37 286.17,311.72 285.00,310.50 C283.83,309.28 283.00,307.18 284.00,307.20Z" fill="#fff200" />
<path d="M281.00,310.00 C281.83,309.03 284.83,311.23 287.00,312.20 C289.17,313.17 292.00,314.75 294.00,315.80 C296.00,316.85 298.50,317.55 299.00,318.50 C299.50,319.45 298.17,320.78 297.00,321.50 C295.83,322.22 293.83,322.72 292.00,322.80 C290.17,322.88 287.67,322.80 286.00,322.00 C284.33,321.20 282.83,320.00 282.00,318.00 C281.17,316.00 280.17,310.97 281.00,310.00Z" fill="#8dc63f" />
<path d="M297.00,323.00 C297.67,321.42 300.33,321.75 301.50,321.50 C302.67,321.25 303.67,320.75 304.00,321.50 C304.33,322.25 303.92,324.50 303.50,326.00 C303.08,327.50 302.50,329.67 301.50,330.50 C300.50,331.33 298.25,332.25 297.50,331.00 C296.75,329.75 296.33,324.58 297.00,323.00Z" fill="#00aeef" />
<path d="M262.5,311.8 Q264.6,312.1 266.8,313.0 Q266.2,315.2 265.9,318.6 Q263.3,316.2 262.5,311.8 Z" fill="#111"/>
<path d="M276.6,313.2 Q275.1,313.5 273.6,314.4 Q274.2,316.4 274.5,319.5 Q275.8,317.4 276.6,313.2 Z" fill="#111"/>
<path d="M234.22,325.23 C231.80,321.51 224.31,322.41 220.30,323.00 C216.29,323.59 212.57,325.68 210.15,328.80 C207.73,331.92 206.19,337.12 205.80,341.73 C205.41,346.34 205.99,352.36 207.83,356.45 C209.67,360.54 213.78,364.40 216.82,366.26 C219.87,368.12 223.25,367.90 226.10,367.60 C228.95,367.30 232.48,368.19 233.93,364.48 C235.38,360.76 234.75,351.84 234.80,345.30 C234.85,338.76 236.64,328.95 234.22,325.23Z" fill="#fff" stroke="#a0a0a0" stroke-width="0.5"/>
<line x1="224.1" y1="351.0" x2="222.6" y2="367.2" stroke="#bcbcbc" stroke-width="0.35" />
<line x1="222.1" y1="350.2" x2="211.5" y2="362.9" stroke="#bcbcbc" stroke-width="0.35" />
<line x1="221.0" y1="348.4" x2="206.7" y2="352.3" stroke="#bcbcbc" stroke-width="0.35" />
<line x1="221.1" y1="346.3" x2="206.3" y2="340.9" stroke="#bcbcbc" stroke-width="0.35" />
<line x1="222.4" y1="344.7" x2="211.0" y2="328.5" stroke="#bcbcbc" stroke-width="0.35" />
<line x1="224.4" y1="344.0" x2="224.4" y2="324.0" stroke="#bcbcbc" stroke-width="0.35" />
<line x1="226.1" y1="344.5" x2="232.5" y2="333.5" stroke="#bcbcbc" stroke-width="0.35" />
<line x1="227.4" y1="345.8" x2="234.5" y2="341.7" stroke="#bcbcbc" stroke-width="0.35" />
<circle cx="224.4" cy="347.5" r="3.5" fill="none" stroke="#c0c0c0" stroke-width="0.35"/>
<path d="M231.9,355.1 Q220.3,353.3 210.2,359.6" fill="none" stroke="#bcbcbc" stroke-width="0.35"/>
<rect x="213.5" y="352.0" width="1.2" height="0.5" fill="#a0a0a0" />
<rect x="219.9" y="336.7" width="1.3" height="0.5" fill="#a0a0a0" />
<rect x="226.5" y="346.3" width="1.1" height="0.5" fill="#a0a0a0" />
<rect x="214.9" y="329.8" width="1.0" height="0.5" fill="#a0a0a0" />
<rect x="222.0" y="331.9" width="1.3" height="0.5" fill="#a0a0a0" />
<rect x="214.9" y="337.2" width="0.8" height="0.5" fill="#a0a0a0" />
<rect x="230.4" y="353.6" width="1.3" height="0.5" fill="#a0a0a0" />
<rect x="222.7" y="330.8" width="1.0" height="0.5" fill="#a0a0a0" />
<rect x="220.3" y="333.4" width="1.4" height="0.5" fill="#a0a0a0" />
<rect x="217.6" y="334.7" width="1.3" height="0.5" fill="#a0a0a0" />
<rect x="212.7" y="359.7" width="1.1" height="0.5" fill="#a0a0a0" />
<rect x="221.4" y="340.8" width="1.1" height="0.5" fill="#a0a0a0" />
<rect x="213.9" y="330.9" width="1.3" height="0.5" fill="#a0a0a0" />
<rect x="214.9" y="354.9" width="0.9" height="0.5" fill="#a0a0a0" />
<rect x="229.8" y="358.6" width="1.3" height="0.5" fill="#a0a0a0" />
<rect x="225.6" y="348.5" width="1.2" height="0.5" fill="#a0a0a0" />
<circle cx="228.9" cy="360.1" r="0.6" fill="none" stroke="#999" stroke-width="0.3"/>
<circle cx="219.7" cy="358.0" r="0.6" fill="none" stroke="#999" stroke-width="0.3"/>
<circle cx="218.4" cy="363.2" r="0.6" fill="none" stroke="#999" stroke-width="0.3"/>
<circle cx="225.1" cy="359.2" r="0.6" fill="none" stroke="#999" stroke-width="0.3"/>
<circle cx="224.6" cy="359.4" r="0.6" fill="none" stroke="#999" stroke-width="0.3"/>
<circle cx="217.5" cy="359.4" r="0.6" fill="none" stroke="#999" stroke-width="0.3"/>
<circle cx="230.1" cy="357.2" r="0.6" fill="none" stroke="#999" stroke-width="0.3"/>
<circle cx="221.1" cy="364.0" r="0.6" fill="none" stroke="#999" stroke-width="0.3"/>
<path d="M235.38,325.23 C237.80,321.51 245.29,322.41 249.30,323.00 C253.31,323.59 257.03,325.68 259.45,328.80 C261.87,331.92 263.41,337.12 263.80,341.73 C264.19,346.34 263.61,352.36 261.77,356.45 C259.93,360.54 255.83,364.40 252.78,366.26 C249.73,368.12 246.35,367.90 243.50,367.60 C240.65,367.30 237.12,368.19 235.67,364.48 C234.22,360.76 234.85,351.84 234.80,345.30 C234.75,338.76 232.96,328.95 235.38,325.23Z" fill="#fff" stroke="#a0a0a0" stroke-width="0.5"/>
<line x1="245.5" y1="351.0" x2="247.0" y2="367.2" stroke="#bcbcbc" stroke-width="0.35" />
<line x1="247.5" y1="350.2" x2="258.1" y2="362.9" stroke="#bcbcbc" stroke-width="0.35" />
<line x1="248.6" y1="348.4" x2="262.9" y2="352.3" stroke="#bcbcbc" stroke-width="0.35" />
<line x1="248.5" y1="346.3" x2="263.3" y2="340.9" stroke="#bcbcbc" stroke-width="0.35" />
<line x1="247.2" y1="344.7" x2="258.6" y2="328.5" stroke="#bcbcbc" stroke-width="0.35" />
<line x1="245.2" y1="344.0" x2="245.2" y2="324.0" stroke="#bcbcbc" stroke-width="0.35" />
<line x1="243.5" y1="344.5" x2="237.1" y2="333.5" stroke="#bcbcbc" stroke-width="0.35" />
<line x1="242.2" y1="345.8" x2="235.1" y2="341.7" stroke="#bcbcbc" stroke-width="0.35" />
<circle cx="245.2" cy="347.5" r="3.5" fill="none" stroke="#c0c0c0" stroke-width="0.35"/>
<path d="M237.7,355.1 Q249.3,353.3 259.4,359.6" fill="none" stroke="#bcbcbc" stroke-width="0.35"/>
<rect x="249.2" y="345.6" width="1.1" height="0.5" fill="#a0a0a0" />
<rect x="254.3" y="336.9" width="1.2" height="0.5" fill="#a0a0a0" />
<rect x="250.4" y="349.8" width="0.9" height="0.5" fill="#a0a0a0" />
<rect x="242.6" y="340.9" width="1.4" height="0.5" fill="#a0a0a0" />
<rect x="246.2" y="349.0" width="1.0" height="0.5" fill="#a0a0a0" />
<rect x="241.2" y="331.8" width="1.3" height="0.5" fill="#a0a0a0" />
<rect x="254.9" y="341.8" width="1.2" height="0.5" fill="#a0a0a0" />
<rect x="252.9" y="358.7" width="1.4" height="0.5" fill="#a0a0a0" />
<rect x="247.4" y="361.7" width="1.4" height="0.5" fill="#a0a0a0" />
<rect x="251.1" y="358.2" width="1.1" height="0.5" fill="#a0a0a0" />
<rect x="246.8" y="337.7" width="1.3" height="0.5" fill="#a0a0a0" />
<rect x="242.4" y="331.9" width="1.3" height="0.5" fill="#a0a0a0" />
<rect x="254.9" y="345.3" width="1.3" height="0.5" fill="#a0a0a0" />
<rect x="240.2" y="338.0" width="1.0" height="0.5" fill="#a0a0a0" />
<rect x="247.7" y="335.2" width="0.8" height="0.5" fill="#a0a0a0" />
<rect x="246.0" y="358.8" width="1.4" height="0.5" fill="#a0a0a0" />
<circle cx="248.9" cy="360.1" r="0.6" fill="none" stroke="#999" stroke-width="0.3"/>
<circle cx="242.4" cy="363.7" r="0.6" fill="none" stroke="#999" stroke-width="0.3"/>
<circle cx="246.0" cy="362.0" r="0.6" fill="none" stroke="#999" stroke-width="0.3"/>
<circle cx="239.5" cy="358.1" r="0.6" fill="none" stroke="#999" stroke-width="0.3"/>
<circle cx="250.1" cy="362.5" r="0.6" fill="none" stroke="#999" stroke-width="0.3"/>
<circle cx="250.7" cy="361.0" r="0.6" fill="none" stroke="#999" stroke-width="0.3"/>
<circle cx="244.7" cy="360.9" r="0.6" fill="none" stroke="#999" stroke-width="0.3"/>
<circle cx="250.2" cy="358.8" r="0.6" fill="none" stroke="#999" stroke-width="0.3"/>
<circle cx="226.1" cy="349.8" r="0.7" fill="#333"/>
<circle cx="241.2" cy="352.9" r="0.6" fill="#444"/>
<path d="M242.90,322.90 C243.45,321.97 246.90,323.12 249.00,323.40 C251.10,323.68 253.58,323.85 255.50,324.60 C257.42,325.35 259.13,326.63 260.50,327.90 C261.87,329.17 262.97,330.57 263.70,332.20 C264.43,333.83 264.80,336.05 264.90,337.70 C265.00,339.35 264.87,340.45 264.30,342.10 C263.73,343.75 262.23,346.13 261.50,347.60 C260.77,349.07 260.53,349.27 259.90,350.90 C259.27,352.53 258.68,356.55 257.70,357.40 C256.72,358.25 255.10,356.73 254.00,356.00 C252.90,355.27 252.30,354.77 251.10,353.00 C249.90,351.23 247.62,347.77 246.80,345.40 C245.98,343.03 245.93,340.82 246.20,338.80 C246.47,336.78 248.48,334.93 248.40,333.30 C248.32,331.67 246.62,330.73 245.70,329.00 C244.78,327.27 242.35,323.83 242.90,322.90Z" fill="#00aeef" />
<path d="M249.00,323.50 C250.18,323.25 253.58,323.95 255.50,324.70 C257.42,325.45 259.13,326.73 260.50,328.00 C261.87,329.27 262.98,330.68 263.70,332.30 C264.42,333.92 264.72,336.08 264.80,337.70 C264.88,339.32 264.75,340.17 264.20,342.00 C263.65,343.83 262.40,348.13 261.50,348.70 C260.60,349.27 259.80,346.68 258.80,345.40 C257.80,344.12 256.60,342.47 255.50,341.00 C254.40,339.53 253.28,338.25 252.20,336.60 C251.12,334.95 249.63,332.83 249.00,331.10 C248.37,329.37 248.40,327.47 248.40,326.20 C248.40,324.93 247.82,323.75 249.00,323.50Z" fill="#00a651" />
<path d="M252.20,325.10 C253.02,324.38 256.15,325.98 257.70,326.80 C259.25,327.62 260.68,328.55 261.50,330.00 C262.32,331.45 262.77,334.22 262.60,335.50 C262.43,336.78 261.68,337.70 260.50,337.70 C259.32,337.70 256.78,336.60 255.50,335.50 C254.22,334.40 253.35,332.83 252.80,331.10 C252.25,329.37 251.38,325.82 252.20,325.10Z" fill="#8dc63f" />
<path d="M258.30,328.40 C258.83,328.48 261.52,329.73 262.60,331.10 C263.68,332.47 264.52,334.95 264.80,336.60 C265.08,338.25 264.57,340.45 264.30,341.00 C264.03,341.55 263.67,341.00 263.20,339.90 C262.73,338.80 262.13,335.95 261.50,334.40 C260.87,332.85 259.93,331.60 259.40,330.60 C258.87,329.60 257.77,328.32 258.30,328.40Z" fill="#fff200" />
<path d="M262.80,333.80 C262.95,333.55 264.07,334.77 264.40,335.50 C264.73,336.23 264.95,337.95 264.80,338.20 C264.65,338.45 263.83,337.73 263.50,337.00 C263.17,336.27 262.65,334.05 262.80,333.80Z" fill="#ed1c24" />
<text x="285.2" y="358.3" font-size="5.40" text-anchor="end" fill="#3a3a3a" font-weight="normal" font-style="normal" textLength="21.90" lengthAdjust="spacingAndGlyphs" stroke="#3a3a3a" stroke-width="0.1" >% of mice</text>
<rect x="287.30" y="360.2" width="12.05" height="12.3" fill="#fff" />
<text x="293.28" y="358.3" font-size="5.40" text-anchor="middle" fill="#3a3a3a" font-weight="normal" font-style="normal" textLength="3.00" lengthAdjust="spacingAndGlyphs" stroke="#3a3a3a" stroke-width="0.1" >0</text>
<text x="293.28" y="379.5" font-size="5.40" text-anchor="middle" fill="#3a3a3a" font-weight="normal" font-style="normal" textLength="3.00" lengthAdjust="spacingAndGlyphs" stroke="#3a3a3a" stroke-width="0.1" >0</text>
<rect x="299.25" y="360.2" width="12.05" height="12.3" fill="#00aeef" />
<text x="305.23" y="358.3" font-size="5.40" text-anchor="middle" fill="#3a3a3a" font-weight="normal" font-style="normal" textLength="10.51" lengthAdjust="spacingAndGlyphs" stroke="#3a3a3a" stroke-width="0.1" >14.2</text>
<text x="305.23" y="379.5" font-size="5.40" text-anchor="middle" fill="#3a3a3a" font-weight="normal" font-style="normal" textLength="3.00" lengthAdjust="spacingAndGlyphs" stroke="#3a3a3a" stroke-width="0.1" >1</text>
<rect x="311.20" y="360.2" width="12.05" height="12.3" fill="#00a651" />
<text x="317.18" y="358.3" font-size="5.40" text-anchor="middle" fill="#3a3a3a" font-weight="normal" font-style="normal" textLength="10.51" lengthAdjust="spacingAndGlyphs" stroke="#3a3a3a" stroke-width="0.1" >28.5</text>
<text x="317.18" y="379.5" font-size="5.40" text-anchor="middle" fill="#3a3a3a" font-weight="normal" font-style="normal" textLength="3.00" lengthAdjust="spacingAndGlyphs" stroke="#3a3a3a" stroke-width="0.1" >2</text>
<rect x="323.15" y="360.2" width="12.05" height="12.3" fill="#8dc63f" />
<text x="329.12" y="358.3" font-size="5.40" text-anchor="middle" fill="#3a3a3a" font-weight="normal" font-style="normal" textLength="10.51" lengthAdjust="spacingAndGlyphs" stroke="#3a3a3a" stroke-width="0.1" >42.6</text>
<text x="329.12" y="379.5" font-size="5.40" text-anchor="middle" fill="#3a3a3a" font-weight="normal" font-style="normal" textLength="3.00" lengthAdjust="spacingAndGlyphs" stroke="#3a3a3a" stroke-width="0.1" >3</text>
<rect x="335.10" y="360.2" width="12.05" height="12.3" fill="#fff200" />
<text x="341.08" y="358.3" font-size="5.40" text-anchor="middle" fill="#3a3a3a" font-weight="normal" font-style="normal" textLength="10.51" lengthAdjust="spacingAndGlyphs" stroke="#3a3a3a" stroke-width="0.1" >56.8</text>
<text x="341.08" y="379.5" font-size="5.40" text-anchor="middle" fill="#3a3a3a" font-weight="normal" font-style="normal" textLength="3.00" lengthAdjust="spacingAndGlyphs" stroke="#3a3a3a" stroke-width="0.1" >4</text>
<rect x="347.05" y="360.2" width="12.05" height="12.3" fill="#f7941d" />
<text x="353.03" y="358.3" font-size="5.40" text-anchor="middle" fill="#3a3a3a" font-weight="normal" font-style="normal" textLength="6.01" lengthAdjust="spacingAndGlyphs" stroke="#3a3a3a" stroke-width="0.1" >71</text>
<text x="353.03" y="379.5" font-size="5.40" text-anchor="middle" fill="#3a3a3a" font-weight="normal" font-style="normal" textLength="3.00" lengthAdjust="spacingAndGlyphs" stroke="#3a3a3a" stroke-width="0.1" >5</text>
<rect x="359.00" y="360.2" width="12.05" height="12.3" fill="#ec008c" />
<text x="364.98" y="358.3" font-size="5.40" text-anchor="middle" fill="#3a3a3a" font-weight="normal" font-style="normal" textLength="10.51" lengthAdjust="spacingAndGlyphs" stroke="#3a3a3a" stroke-width="0.1" >85.2</text>
<text x="364.98" y="379.5" font-size="5.40" text-anchor="middle" fill="#3a3a3a" font-weight="normal" font-style="normal" textLength="3.00" lengthAdjust="spacingAndGlyphs" stroke="#3a3a3a" stroke-width="0.1" >6</text>
<rect x="370.95" y="360.2" width="12.05" height="12.3" fill="#ed1c24" />
<text x="376.93" y="358.3" font-size="5.40" text-anchor="middle" fill="#3a3a3a" font-weight="normal" font-style="normal" textLength="9.01" lengthAdjust="spacingAndGlyphs" stroke="#3a3a3a" stroke-width="0.1" >100</text>
<text x="376.93" y="379.5" font-size="5.40" text-anchor="middle" fill="#3a3a3a" font-weight="normal" font-style="normal" textLength="3.00" lengthAdjust="spacingAndGlyphs" stroke="#3a3a3a" stroke-width="0.1" >7</text>
<line x1="299.25" y1="360.2" x2="299.25" y2="372.5" stroke="#333" stroke-width="0.5" />
<line x1="311.20" y1="360.2" x2="311.20" y2="372.5" stroke="#333" stroke-width="0.5" />
<line x1="323.15" y1="360.2" x2="323.15" y2="372.5" stroke="#333" stroke-width="0.5" />
<line x1="335.10" y1="360.2" x2="335.10" y2="372.5" stroke="#333" stroke-width="0.5" />
<line x1="347.05" y1="360.2" x2="347.05" y2="372.5" stroke="#333" stroke-width="0.5" />
<line x1="359.00" y1="360.2" x2="359.00" y2="372.5" stroke="#333" stroke-width="0.5" />
<line x1="370.95" y1="360.2" x2="370.95" y2="372.5" stroke="#333" stroke-width="0.5" />
<rect x="287.3" y="360.2" width="95.60" height="12.3" fill="none" stroke="#222" stroke-width="0.8"/>
<text x="284.5" y="379.5" font-size="5.40" text-anchor="end" fill="#3a3a3a" font-weight="normal" font-style="normal" textLength="7.66" lengthAdjust="spacingAndGlyphs" stroke="#3a3a3a" stroke-width="0.1" ><tspan font-style="italic">n</tspan> =</text>
<rect x="0.5" y="0.5" width="519" height="401" fill="none" stroke="#111" stroke-width="1"/>
</svg>
</body></html>
